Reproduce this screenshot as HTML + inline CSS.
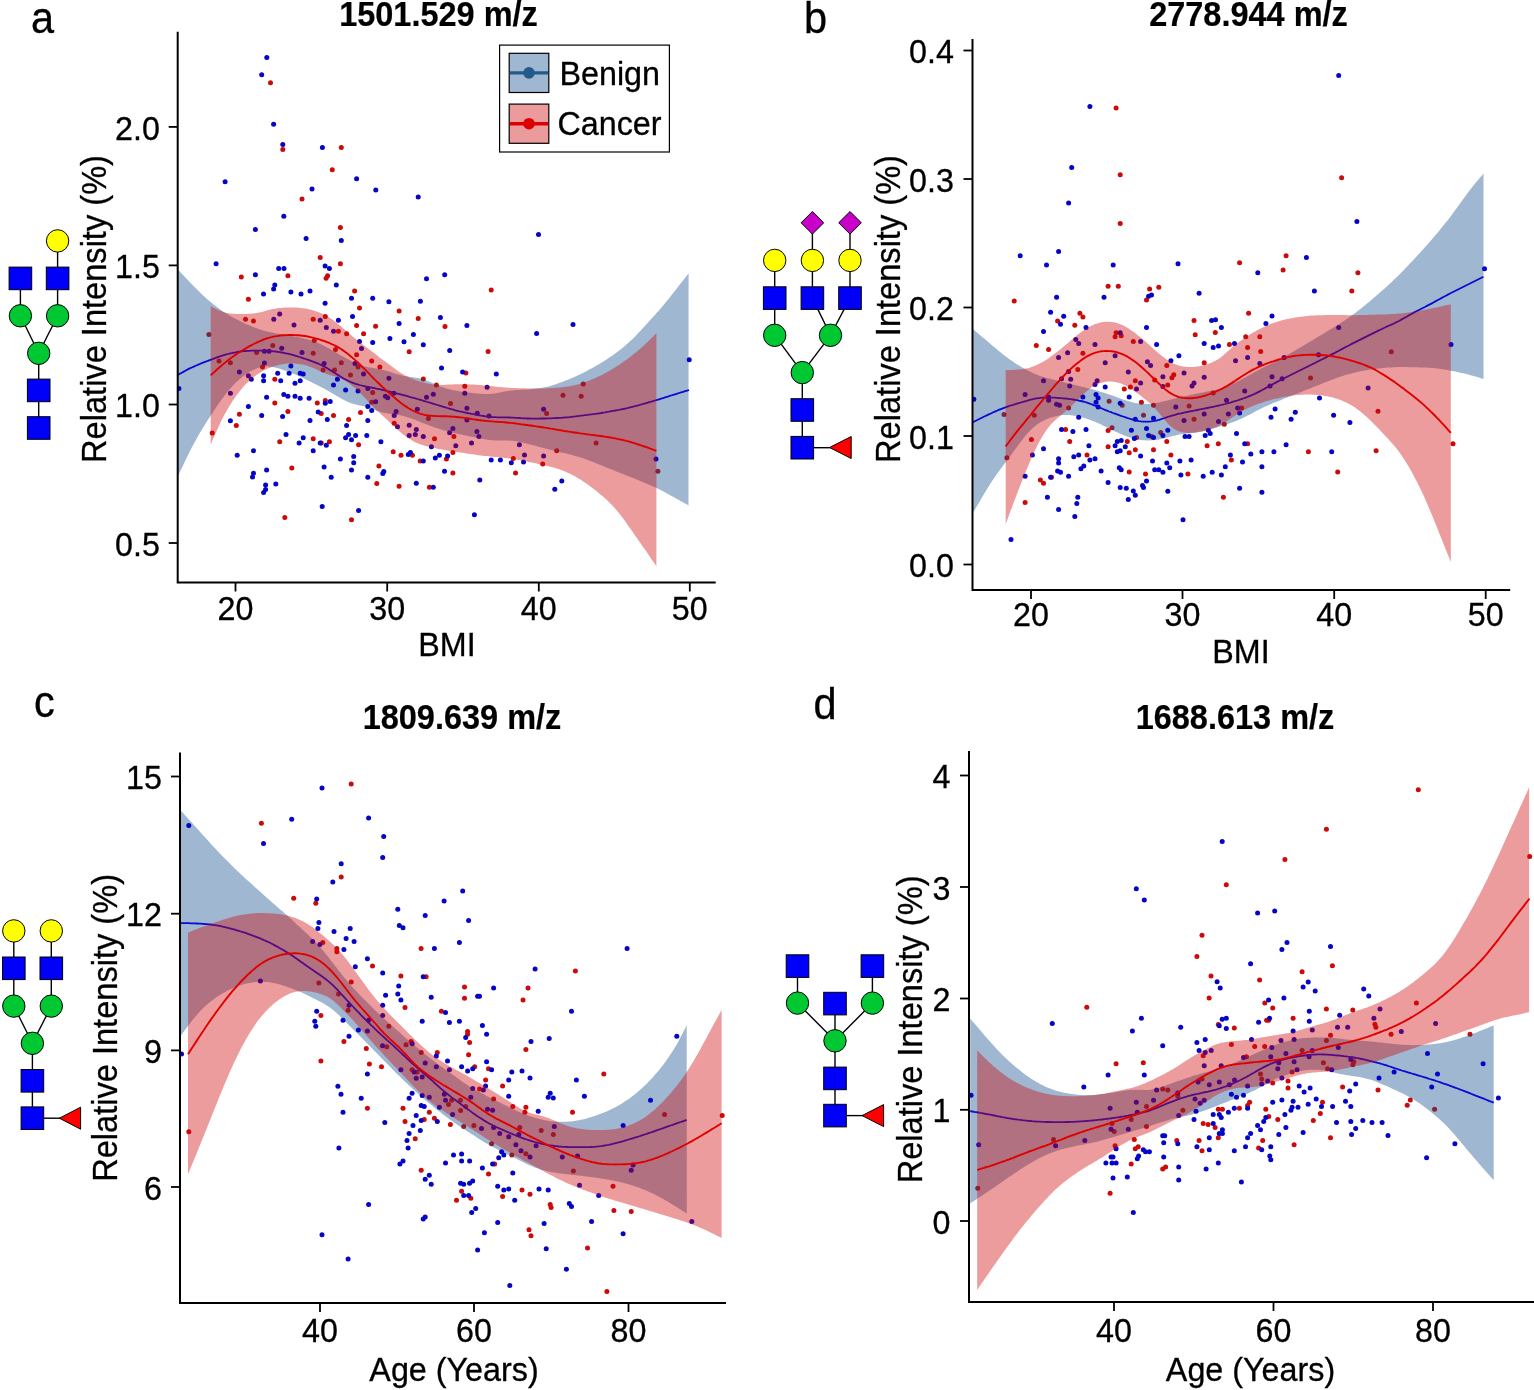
<!DOCTYPE html>
<html><head><meta charset="utf-8"><title>figure</title>
<style>html,body{margin:0;padding:0;background:#fff}svg{display:block}</style></head>
<body>
<svg width="1534" height="1390" viewBox="0 0 1534 1390" font-family='"Liberation Sans", Arial, sans-serif' fill="#000">
<defs>
<clipPath id="clipa"><rect x="177.7" y="26.8" width="543.0" height="555.7"/></clipPath>
<clipPath id="clipb"><rect x="972.5" y="34" width="542.7" height="556"/></clipPath>
<clipPath id="clipc"><rect x="180" y="747.5" width="551" height="555.5"/></clipPath>
<clipPath id="clipd"><rect x="969" y="746" width="570" height="556"/></clipPath>
</defs>
<rect width="1534" height="1390" fill="#fff"/>
<g clip-path="url(#clipa)">
<g fill="#cc0a0a">
<circle cx="270.5" cy="82.7" r="2.5"/>
<circle cx="282.8" cy="149.6" r="2.5"/>
<circle cx="341.3" cy="147.4" r="2.5"/>
<circle cx="332.3" cy="169.7" r="2.5"/>
<circle cx="302.0" cy="199.1" r="2.5"/>
<circle cx="340.4" cy="227.5" r="2.5"/>
<circle cx="320.2" cy="257.6" r="2.5"/>
<circle cx="340.4" cy="263.7" r="2.5"/>
<circle cx="287.9" cy="275.8" r="2.5"/>
<circle cx="241.3" cy="277.0" r="2.5"/>
<circle cx="327.6" cy="275.8" r="2.5"/>
<circle cx="326.1" cy="278.2" r="2.5"/>
<circle cx="354.6" cy="291.1" r="2.5"/>
<circle cx="248.4" cy="299.3" r="2.5"/>
<circle cx="359.5" cy="308.1" r="2.5"/>
<circle cx="399.1" cy="311.0" r="2.5"/>
<circle cx="491.2" cy="290.1" r="2.5"/>
<circle cx="445.0" cy="326.5" r="2.5"/>
<circle cx="488.1" cy="351.6" r="2.5"/>
<circle cx="465.9" cy="373.1" r="2.5"/>
<circle cx="464.8" cy="386.2" r="2.5"/>
<circle cx="583.2" cy="384.1" r="2.5"/>
<circle cx="563.0" cy="395.2" r="2.5"/>
<circle cx="581.2" cy="396.2" r="2.5"/>
<circle cx="450.5" cy="403.4" r="2.5"/>
<circle cx="546.6" cy="413.4" r="2.5"/>
<circle cx="245.5" cy="319.2" r="2.5"/>
<circle cx="253.5" cy="321.1" r="2.5"/>
<circle cx="313.2" cy="319.2" r="2.5"/>
<circle cx="325.3" cy="316.4" r="2.5"/>
<circle cx="338.4" cy="331.3" r="2.5"/>
<circle cx="346.6" cy="333.7" r="2.5"/>
<circle cx="356.6" cy="325.4" r="2.5"/>
<circle cx="375.6" cy="326.2" r="2.5"/>
<circle cx="418.2" cy="318.4" r="2.5"/>
<circle cx="363.6" cy="333.7" r="2.5"/>
<circle cx="208.9" cy="334.6" r="2.5"/>
<circle cx="314.3" cy="340.5" r="2.5"/>
<circle cx="409.2" cy="351.7" r="2.5"/>
<circle cx="272.8" cy="345.6" r="2.5"/>
<circle cx="335.5" cy="349.5" r="2.5"/>
<circle cx="256.6" cy="352.4" r="2.5"/>
<circle cx="313.2" cy="353.2" r="2.5"/>
<circle cx="356.6" cy="354.8" r="2.5"/>
<circle cx="371.7" cy="360.9" r="2.5"/>
<circle cx="219.0" cy="360.9" r="2.5"/>
<circle cx="230.4" cy="362.8" r="2.5"/>
<circle cx="341.3" cy="362.8" r="2.5"/>
<circle cx="379.9" cy="367.1" r="2.5"/>
<circle cx="262.5" cy="367.1" r="2.5"/>
<circle cx="323.1" cy="369.9" r="2.5"/>
<circle cx="334.5" cy="369.9" r="2.5"/>
<circle cx="358.0" cy="367.1" r="2.5"/>
<circle cx="350.5" cy="375.0" r="2.5"/>
<circle cx="423.3" cy="378.9" r="2.5"/>
<circle cx="274.8" cy="379.3" r="2.5"/>
<circle cx="436.4" cy="385.1" r="2.5"/>
<circle cx="372.7" cy="392.4" r="2.5"/>
<circle cx="371.7" cy="402.2" r="2.5"/>
<circle cx="325.3" cy="400.4" r="2.5"/>
<circle cx="317.3" cy="403.1" r="2.5"/>
<circle cx="274.8" cy="403.1" r="2.5"/>
<circle cx="287.9" cy="411.5" r="2.5"/>
<circle cx="360.5" cy="412.5" r="2.5"/>
<circle cx="239.4" cy="414.3" r="2.5"/>
<circle cx="321.2" cy="413.5" r="2.5"/>
<circle cx="333.5" cy="415.5" r="2.5"/>
<circle cx="348.6" cy="419.4" r="2.5"/>
<circle cx="428.4" cy="418.4" r="2.5"/>
<circle cx="236.3" cy="425.4" r="2.5"/>
<circle cx="394.2" cy="423.3" r="2.5"/>
<circle cx="212.2" cy="432.9" r="2.5"/>
<circle cx="434.5" cy="438.7" r="2.5"/>
<circle cx="453.9" cy="436.4" r="2.5"/>
<circle cx="313.2" cy="438.7" r="2.5"/>
<circle cx="329.4" cy="441.7" r="2.5"/>
<circle cx="279.7" cy="441.7" r="2.5"/>
<circle cx="321.2" cy="442.9" r="2.5"/>
<circle cx="358.6" cy="444.8" r="2.5"/>
<circle cx="393.2" cy="451.7" r="2.5"/>
<circle cx="401.0" cy="455.2" r="2.5"/>
<circle cx="412.4" cy="455.2" r="2.5"/>
<circle cx="452.9" cy="452.6" r="2.5"/>
<circle cx="420.2" cy="460.9" r="2.5"/>
<circle cx="446.4" cy="458.9" r="2.5"/>
<circle cx="378.9" cy="465.9" r="2.5"/>
<circle cx="291.8" cy="468.1" r="2.5"/>
<circle cx="452.9" cy="473.0" r="2.5"/>
<circle cx="376.8" cy="483.4" r="2.5"/>
<circle cx="399.1" cy="486.3" r="2.5"/>
<circle cx="429.4" cy="487.3" r="2.5"/>
<circle cx="284.8" cy="517.6" r="2.5"/>
<circle cx="351.5" cy="519.8" r="2.5"/>
<circle cx="596.1" cy="442.9" r="2.5"/>
<circle cx="556.7" cy="450.7" r="2.5"/>
<circle cx="513.3" cy="458.5" r="2.5"/>
<circle cx="542.7" cy="464.0" r="2.5"/>
<circle cx="657.9" cy="471.2" r="2.5"/>
<circle cx="515.5" cy="473.0" r="2.5"/>
</g>
<path d="M177.8,269.4 L179.8,271.5 L181.8,273.7 L183.8,275.8 L185.8,277.9 L187.8,280.0 L189.8,282.1 L191.8,284.2 L193.8,286.2 L195.8,288.3 L197.8,290.3 L199.8,292.3 L201.8,294.2 L203.8,296.1 L205.8,297.9 L207.8,299.7 L209.9,301.5 L211.9,303.1 L213.9,304.8 L215.9,306.3 L217.9,307.8 L219.9,309.3 L221.9,310.7 L223.9,312.0 L225.9,313.3 L227.9,314.5 L229.9,315.7 L231.9,316.9 L233.9,318.0 L235.9,319.1 L237.9,320.1 L239.9,321.1 L241.9,322.1 L243.9,323.0 L245.9,323.9 L247.9,324.8 L249.9,325.6 L251.9,326.5 L253.9,327.2 L255.9,328.0 L257.9,328.7 L259.9,329.4 L261.9,330.1 L263.9,330.7 L265.9,331.2 L267.9,331.7 L269.9,332.2 L271.9,332.6 L274.0,333.0 L276.0,333.4 L278.0,333.8 L280.0,334.1 L282.0,334.4 L284.0,334.8 L286.0,335.1 L288.0,335.4 L290.0,335.7 L292.0,336.1 L294.0,336.4 L296.0,336.8 L298.0,337.1 L300.0,337.5 L302.0,337.9 L304.0,338.4 L306.0,338.9 L308.0,339.4 L310.0,340.0 L312.0,340.7 L314.0,341.4 L316.0,342.1 L318.0,343.0 L320.0,343.8 L322.0,344.8 L324.0,345.8 L326.0,346.8 L328.0,347.9 L330.0,349.0 L332.0,350.2 L334.0,351.4 L336.0,352.6 L338.1,353.7 L340.1,354.9 L342.1,356.0 L344.1,357.2 L346.1,358.2 L348.1,359.3 L350.1,360.3 L352.1,361.4 L354.1,362.4 L356.1,363.3 L358.1,364.2 L360.1,365.0 L362.1,365.6 L364.1,366.2 L366.1,366.7 L368.1,367.2 L370.1,367.5 L372.1,367.8 L374.1,368.2 L376.1,368.5 L378.1,368.8 L380.1,369.2 L382.1,369.7 L384.1,370.2 L386.1,370.7 L388.1,371.3 L390.1,372.0 L392.1,372.6 L394.1,373.3 L396.1,373.9 L398.1,374.5 L400.1,375.1 L402.2,375.6 L404.2,376.0 L406.2,376.3 L408.2,376.6 L410.2,376.9 L412.2,377.1 L414.2,377.4 L416.2,377.7 L418.2,378.1 L420.2,378.6 L422.2,379.2 L424.2,379.8 L426.2,380.5 L428.2,381.3 L430.2,382.1 L432.2,383.0 L434.2,383.8 L436.2,384.7 L438.2,385.6 L440.2,386.4 L442.2,387.1 L444.2,387.8 L446.2,388.4 L448.2,389.0 L450.2,389.5 L452.2,389.9 L454.2,390.3 L456.2,390.7 L458.2,391.1 L460.2,391.4 L462.2,391.7 L464.2,392.0 L466.3,392.3 L468.3,392.6 L470.3,392.8 L472.3,393.1 L474.3,393.3 L476.3,393.5 L478.3,393.6 L480.3,393.8 L482.3,393.9 L484.3,394.0 L486.3,394.0 L488.3,393.9 L490.3,393.9 L492.3,393.7 L494.3,393.5 L496.3,393.2 L498.3,392.8 L500.3,392.4 L502.3,392.0 L504.3,391.6 L506.3,391.2 L508.3,390.9 L510.3,390.6 L512.3,390.4 L514.3,390.2 L516.3,390.0 L518.3,389.9 L520.3,389.8 L522.3,389.7 L524.3,389.6 L526.3,389.5 L528.3,389.4 L530.4,389.2 L532.4,389.0 L534.4,388.8 L536.4,388.6 L538.4,388.3 L540.4,388.0 L542.4,387.7 L544.4,387.3 L546.4,386.9 L548.4,386.4 L550.4,385.9 L552.4,385.3 L554.4,384.7 L556.4,384.0 L558.4,383.3 L560.4,382.6 L562.4,381.9 L564.4,381.1 L566.4,380.3 L568.4,379.5 L570.4,378.7 L572.4,377.8 L574.4,376.9 L576.4,376.0 L578.4,375.1 L580.4,374.2 L582.4,373.2 L584.4,372.2 L586.4,371.2 L588.4,370.1 L590.4,369.0 L592.4,367.9 L594.5,366.8 L596.5,365.6 L598.5,364.5 L600.5,363.2 L602.5,362.0 L604.5,360.7 L606.5,359.5 L608.5,358.1 L610.5,356.8 L612.5,355.4 L614.5,354.0 L616.5,352.5 L618.5,351.0 L620.5,349.5 L622.5,347.9 L624.5,346.2 L626.5,344.5 L628.5,342.7 L630.5,340.8 L632.5,338.9 L634.5,336.9 L636.5,334.9 L638.5,332.8 L640.5,330.7 L642.5,328.6 L644.5,326.4 L646.5,324.2 L648.5,322.0 L650.5,319.8 L652.5,317.6 L654.5,315.4 L656.5,313.1 L658.6,310.9 L660.6,308.5 L662.6,306.2 L664.6,303.8 L666.6,301.3 L668.6,298.9 L670.6,296.3 L672.6,293.8 L674.6,291.3 L676.6,288.7 L678.6,286.1 L680.6,283.5 L682.6,281.0 L684.6,278.4 L686.6,275.9 L688.6,273.3 L688.5,505.4 L686.5,504.3 L684.5,503.2 L682.5,502.1 L680.5,501.0 L678.5,499.8 L676.5,498.7 L674.5,497.6 L672.5,496.5 L670.5,495.4 L668.5,494.3 L666.5,493.2 L664.5,492.1 L662.5,491.1 L660.5,490.0 L658.5,489.0 L656.5,488.1 L654.5,487.1 L652.5,486.2 L650.4,485.3 L648.4,484.4 L646.4,483.6 L644.4,482.7 L642.4,481.9 L640.4,481.1 L638.4,480.3 L636.4,479.4 L634.4,478.6 L632.4,477.8 L630.4,477.0 L628.4,476.2 L626.4,475.4 L624.4,474.6 L622.4,473.8 L620.4,473.0 L618.4,472.2 L616.4,471.4 L614.4,470.6 L612.4,469.8 L610.4,469.0 L608.4,468.2 L606.4,467.4 L604.4,466.6 L602.4,465.8 L600.4,465.0 L598.4,464.2 L596.4,463.4 L594.4,462.6 L592.4,461.8 L590.4,461.0 L588.4,460.2 L586.4,459.5 L584.4,458.8 L582.4,458.1 L580.4,457.4 L578.3,456.8 L576.3,456.2 L574.3,455.7 L572.3,455.1 L570.3,454.6 L568.3,454.1 L566.3,453.6 L564.3,453.1 L562.3,452.7 L560.3,452.2 L558.3,451.7 L556.3,451.2 L554.3,450.7 L552.3,450.2 L550.3,449.7 L548.3,449.2 L546.3,448.7 L544.3,448.2 L542.3,447.7 L540.3,447.2 L538.3,446.7 L536.3,446.1 L534.3,445.6 L532.3,445.1 L530.3,444.6 L528.3,444.0 L526.3,443.5 L524.3,443.0 L522.3,442.5 L520.3,442.1 L518.3,441.7 L516.3,441.3 L514.3,441.0 L512.3,440.8 L510.3,440.7 L508.3,440.6 L506.3,440.5 L504.2,440.5 L502.2,440.5 L500.2,440.5 L498.2,440.5 L496.2,440.5 L494.2,440.4 L492.2,440.3 L490.2,440.1 L488.2,439.9 L486.2,439.6 L484.2,439.2 L482.2,438.8 L480.2,438.5 L478.2,438.0 L476.2,437.6 L474.2,437.2 L472.2,436.8 L470.2,436.4 L468.2,436.0 L466.2,435.6 L464.2,435.2 L462.2,434.8 L460.2,434.3 L458.2,433.9 L456.2,433.4 L454.2,433.0 L452.2,432.5 L450.2,432.0 L448.2,431.5 L446.2,430.9 L444.2,430.4 L442.2,429.8 L440.2,429.2 L438.2,428.6 L436.2,427.9 L434.2,427.3 L432.1,426.6 L430.1,425.8 L428.1,425.1 L426.1,424.3 L424.1,423.5 L422.1,422.7 L420.1,421.9 L418.1,421.1 L416.1,420.3 L414.1,419.5 L412.1,418.8 L410.1,418.1 L408.1,417.4 L406.1,416.8 L404.1,416.2 L402.1,415.7 L400.1,415.3 L398.1,415.0 L396.1,414.7 L394.1,414.4 L392.1,414.1 L390.1,413.9 L388.1,413.6 L386.1,413.3 L384.1,412.9 L382.1,412.4 L380.1,411.8 L378.1,411.2 L376.1,410.4 L374.1,409.6 L372.1,408.8 L370.1,408.1 L368.1,407.4 L366.1,406.8 L364.1,406.3 L362.1,405.9 L360.0,405.5 L358.0,405.1 L356.0,404.6 L354.0,404.1 L352.0,403.4 L350.0,402.7 L348.0,401.9 L346.0,401.0 L344.0,400.0 L342.0,398.9 L340.0,397.8 L338.0,396.7 L336.0,395.5 L334.0,394.3 L332.0,393.2 L330.0,392.0 L328.0,390.8 L326.0,389.7 L324.0,388.6 L322.0,387.5 L320.0,386.5 L318.0,385.5 L316.0,384.4 L314.0,383.4 L312.0,382.4 L310.0,381.4 L308.0,380.4 L306.0,379.4 L304.0,378.4 L302.0,377.5 L300.0,376.6 L298.0,375.7 L296.0,374.8 L294.0,374.0 L292.0,373.2 L290.0,372.4 L288.0,371.7 L285.9,370.9 L283.9,370.2 L281.9,369.5 L279.9,368.8 L277.9,368.2 L275.9,367.7 L273.9,367.2 L271.9,366.9 L269.9,366.6 L267.9,366.6 L265.9,366.6 L263.9,366.8 L261.9,367.1 L259.9,367.6 L257.9,368.1 L255.9,368.8 L253.9,369.7 L251.9,370.6 L249.9,371.7 L247.9,372.9 L245.9,374.2 L243.9,375.7 L241.9,377.2 L239.9,378.9 L237.9,380.7 L235.9,382.6 L233.9,384.6 L231.9,386.7 L229.9,388.9 L227.9,391.3 L225.9,393.8 L223.9,396.4 L221.9,399.1 L219.9,401.9 L217.9,404.8 L215.9,407.8 L213.8,410.8 L211.8,413.9 L209.8,417.0 L207.8,420.1 L205.8,423.3 L203.8,426.5 L201.8,429.8 L199.8,433.1 L197.8,436.6 L195.8,440.2 L193.8,443.8 L191.8,447.6 L189.8,451.5 L187.8,455.5 L185.8,459.6 L183.8,463.8 L181.8,468.0 L179.8,472.2 L177.8,476.5Z" fill="#0f4b8a" fill-opacity="0.4" stroke="none"/>
<g fill="#0505c8">
<circle cx="266.8" cy="57.6" r="2.5"/>
<circle cx="261.7" cy="74.8" r="2.5"/>
<circle cx="273.6" cy="124.3" r="2.5"/>
<circle cx="282.8" cy="144.5" r="2.5"/>
<circle cx="322.4" cy="147.4" r="2.5"/>
<circle cx="225.1" cy="181.7" r="2.5"/>
<circle cx="356.6" cy="178.7" r="2.5"/>
<circle cx="312.0" cy="188.9" r="2.5"/>
<circle cx="375.8" cy="189.9" r="2.5"/>
<circle cx="418.2" cy="196.9" r="2.5"/>
<circle cx="283.8" cy="216.3" r="2.5"/>
<circle cx="255.4" cy="229.4" r="2.5"/>
<circle cx="306.1" cy="238.6" r="2.5"/>
<circle cx="341.3" cy="240.6" r="2.5"/>
<circle cx="216.1" cy="263.7" r="2.5"/>
<circle cx="325.1" cy="266.0" r="2.5"/>
<circle cx="329.4" cy="268.6" r="2.5"/>
<circle cx="278.7" cy="268.6" r="2.5"/>
<circle cx="284.0" cy="268.6" r="2.5"/>
<circle cx="255.4" cy="274.8" r="2.5"/>
<circle cx="444.7" cy="274.8" r="2.5"/>
<circle cx="426.5" cy="278.7" r="2.5"/>
<circle cx="274.8" cy="285.0" r="2.5"/>
<circle cx="273.6" cy="288.9" r="2.5"/>
<circle cx="336.3" cy="285.0" r="2.5"/>
<circle cx="310.0" cy="291.1" r="2.5"/>
<circle cx="290.9" cy="292.1" r="2.5"/>
<circle cx="301.0" cy="294.0" r="2.5"/>
<circle cx="263.5" cy="294.0" r="2.5"/>
<circle cx="351.5" cy="298.3" r="2.5"/>
<circle cx="372.7" cy="298.3" r="2.5"/>
<circle cx="388.9" cy="301.8" r="2.5"/>
<circle cx="420.4" cy="301.3" r="2.5"/>
<circle cx="325.1" cy="303.2" r="2.5"/>
<circle cx="538.5" cy="234.5" r="2.5"/>
<circle cx="466.9" cy="325.5" r="2.5"/>
<circle cx="573.0" cy="324.4" r="2.5"/>
<circle cx="536.6" cy="333.6" r="2.5"/>
<circle cx="449.7" cy="350.6" r="2.5"/>
<circle cx="462.6" cy="371.9" r="2.5"/>
<circle cx="496.3" cy="373.9" r="2.5"/>
<circle cx="689.2" cy="359.8" r="2.5"/>
<circle cx="487.1" cy="387.2" r="2.5"/>
<circle cx="464.8" cy="393.2" r="2.5"/>
<circle cx="466.9" cy="408.3" r="2.5"/>
<circle cx="477.3" cy="413.2" r="2.5"/>
<circle cx="489.0" cy="416.1" r="2.5"/>
<circle cx="543.6" cy="409.3" r="2.5"/>
<circle cx="466.9" cy="420.1" r="2.5"/>
<circle cx="279.7" cy="314.1" r="2.5"/>
<circle cx="273.8" cy="319.2" r="2.5"/>
<circle cx="294.0" cy="325.0" r="2.5"/>
<circle cx="320.2" cy="320.2" r="2.5"/>
<circle cx="326.3" cy="327.4" r="2.5"/>
<circle cx="333.5" cy="331.3" r="2.5"/>
<circle cx="338.4" cy="320.2" r="2.5"/>
<circle cx="352.5" cy="316.4" r="2.5"/>
<circle cx="399.1" cy="323.5" r="2.5"/>
<circle cx="440.4" cy="317.6" r="2.5"/>
<circle cx="413.4" cy="334.6" r="2.5"/>
<circle cx="389.9" cy="338.6" r="2.5"/>
<circle cx="372.7" cy="342.5" r="2.5"/>
<circle cx="404.0" cy="341.7" r="2.5"/>
<circle cx="423.3" cy="344.8" r="2.5"/>
<circle cx="359.5" cy="341.5" r="2.5"/>
<circle cx="361.5" cy="348.5" r="2.5"/>
<circle cx="441.5" cy="368.1" r="2.5"/>
<circle cx="264.4" cy="351.3" r="2.5"/>
<circle cx="269.1" cy="351.3" r="2.5"/>
<circle cx="281.7" cy="348.3" r="2.5"/>
<circle cx="302.0" cy="352.4" r="2.5"/>
<circle cx="264.4" cy="363.0" r="2.5"/>
<circle cx="324.1" cy="363.6" r="2.5"/>
<circle cx="355.0" cy="363.6" r="2.5"/>
<circle cx="290.9" cy="366.1" r="2.5"/>
<circle cx="239.4" cy="372.0" r="2.5"/>
<circle cx="248.4" cy="375.7" r="2.5"/>
<circle cx="277.7" cy="373.2" r="2.5"/>
<circle cx="289.1" cy="373.2" r="2.5"/>
<circle cx="300.2" cy="373.2" r="2.5"/>
<circle cx="303.2" cy="374.0" r="2.5"/>
<circle cx="263.6" cy="375.7" r="2.5"/>
<circle cx="251.3" cy="379.3" r="2.5"/>
<circle cx="263.6" cy="380.8" r="2.5"/>
<circle cx="280.7" cy="380.8" r="2.5"/>
<circle cx="295.0" cy="383.2" r="2.5"/>
<circle cx="300.2" cy="380.8" r="2.5"/>
<circle cx="337.4" cy="379.3" r="2.5"/>
<circle cx="333.5" cy="385.1" r="2.5"/>
<circle cx="345.6" cy="390.0" r="2.5"/>
<circle cx="358.0" cy="391.0" r="2.5"/>
<circle cx="363.5" cy="374.0" r="2.5"/>
<circle cx="388.9" cy="378.3" r="2.5"/>
<circle cx="178.9" cy="388.5" r="2.5"/>
<circle cx="230.4" cy="393.3" r="2.5"/>
<circle cx="367.8" cy="388.5" r="2.5"/>
<circle cx="393.8" cy="393.3" r="2.5"/>
<circle cx="385.4" cy="396.3" r="2.5"/>
<circle cx="387.7" cy="397.8" r="2.5"/>
<circle cx="426.5" cy="397.3" r="2.5"/>
<circle cx="433.3" cy="394.3" r="2.5"/>
<circle cx="375.6" cy="401.8" r="2.5"/>
<circle cx="417.3" cy="409.2" r="2.5"/>
<circle cx="396.1" cy="411.5" r="2.5"/>
<circle cx="394.2" cy="415.5" r="2.5"/>
<circle cx="266.6" cy="397.3" r="2.5"/>
<circle cx="283.8" cy="394.5" r="2.5"/>
<circle cx="287.9" cy="396.3" r="2.5"/>
<circle cx="295.0" cy="396.3" r="2.5"/>
<circle cx="300.2" cy="398.2" r="2.5"/>
<circle cx="309.1" cy="398.2" r="2.5"/>
<circle cx="330.2" cy="401.4" r="2.5"/>
<circle cx="325.3" cy="403.3" r="2.5"/>
<circle cx="248.4" cy="406.5" r="2.5"/>
<circle cx="367.8" cy="406.5" r="2.5"/>
<circle cx="371.7" cy="410.6" r="2.5"/>
<circle cx="318.2" cy="412.1" r="2.5"/>
<circle cx="261.7" cy="415.5" r="2.5"/>
<circle cx="282.6" cy="416.6" r="2.5"/>
<circle cx="230.4" cy="420.7" r="2.5"/>
<circle cx="310.0" cy="420.4" r="2.5"/>
<circle cx="327.3" cy="419.4" r="2.5"/>
<circle cx="367.8" cy="420.4" r="2.5"/>
<circle cx="346.6" cy="425.6" r="2.5"/>
<circle cx="409.2" cy="425.2" r="2.5"/>
<circle cx="416.3" cy="429.5" r="2.5"/>
<circle cx="397.5" cy="426.8" r="2.5"/>
<circle cx="409.2" cy="435.4" r="2.5"/>
<circle cx="415.3" cy="434.6" r="2.5"/>
<circle cx="423.3" cy="436.6" r="2.5"/>
<circle cx="452.9" cy="428.6" r="2.5"/>
<circle cx="449.6" cy="432.7" r="2.5"/>
<circle cx="455.8" cy="445.8" r="2.5"/>
<circle cx="471.5" cy="442.9" r="2.5"/>
<circle cx="286.0" cy="434.6" r="2.5"/>
<circle cx="303.2" cy="437.8" r="2.5"/>
<circle cx="348.6" cy="434.6" r="2.5"/>
<circle cx="355.6" cy="435.4" r="2.5"/>
<circle cx="366.8" cy="435.4" r="2.5"/>
<circle cx="345.6" cy="437.8" r="2.5"/>
<circle cx="351.5" cy="439.7" r="2.5"/>
<circle cx="299.1" cy="442.9" r="2.5"/>
<circle cx="320.2" cy="442.9" r="2.5"/>
<circle cx="326.3" cy="445.2" r="2.5"/>
<circle cx="380.9" cy="441.7" r="2.5"/>
<circle cx="431.4" cy="446.8" r="2.5"/>
<circle cx="253.5" cy="450.7" r="2.5"/>
<circle cx="313.2" cy="450.7" r="2.5"/>
<circle cx="237.2" cy="455.2" r="2.5"/>
<circle cx="408.3" cy="454.6" r="2.5"/>
<circle cx="410.4" cy="452.6" r="2.5"/>
<circle cx="439.4" cy="455.2" r="2.5"/>
<circle cx="447.6" cy="456.0" r="2.5"/>
<circle cx="435.3" cy="457.9" r="2.5"/>
<circle cx="340.4" cy="458.9" r="2.5"/>
<circle cx="353.7" cy="456.6" r="2.5"/>
<circle cx="353.7" cy="462.8" r="2.5"/>
<circle cx="423.3" cy="460.9" r="2.5"/>
<circle cx="324.1" cy="466.9" r="2.5"/>
<circle cx="266.6" cy="469.9" r="2.5"/>
<circle cx="351.5" cy="469.9" r="2.5"/>
<circle cx="383.8" cy="471.6" r="2.5"/>
<circle cx="382.8" cy="473.6" r="2.5"/>
<circle cx="444.5" cy="471.2" r="2.5"/>
<circle cx="253.5" cy="473.2" r="2.5"/>
<circle cx="252.5" cy="477.1" r="2.5"/>
<circle cx="331.2" cy="477.3" r="2.5"/>
<circle cx="367.8" cy="477.3" r="2.5"/>
<circle cx="275.8" cy="484.1" r="2.5"/>
<circle cx="265.6" cy="484.9" r="2.5"/>
<circle cx="416.3" cy="483.2" r="2.5"/>
<circle cx="433.3" cy="487.3" r="2.5"/>
<circle cx="265.6" cy="489.4" r="2.5"/>
<circle cx="263.6" cy="492.4" r="2.5"/>
<circle cx="322.2" cy="506.5" r="2.5"/>
<circle cx="358.6" cy="510.6" r="2.5"/>
<circle cx="474.4" cy="514.7" r="2.5"/>
<circle cx="476.9" cy="431.5" r="2.5"/>
<circle cx="478.9" cy="436.6" r="2.5"/>
<circle cx="519.4" cy="444.8" r="2.5"/>
<circle cx="524.5" cy="455.0" r="2.5"/>
<circle cx="543.6" cy="456.0" r="2.5"/>
<circle cx="656.0" cy="458.9" r="2.5"/>
<circle cx="491.2" cy="460.1" r="2.5"/>
<circle cx="500.4" cy="460.1" r="2.5"/>
<circle cx="511.3" cy="462.8" r="2.5"/>
<circle cx="523.5" cy="462.0" r="2.5"/>
<circle cx="479.8" cy="480.0" r="2.5"/>
<circle cx="561.8" cy="481.0" r="2.5"/>
<circle cx="554.8" cy="489.2" r="2.5"/>
</g>
<path d="M177.8,375.0 L179.8,373.8 L181.8,372.7 L183.8,371.6 L185.8,370.5 L187.8,369.4 L189.8,368.4 L191.8,367.5 L193.8,366.6 L195.8,365.7 L197.8,364.8 L199.8,364.0 L201.8,363.2 L203.8,362.4 L205.8,361.6 L207.8,360.9 L209.8,360.1 L211.8,359.4 L213.8,358.6 L215.7,357.9 L217.7,357.1 L219.7,356.4 L221.7,355.8 L223.7,355.2 L225.7,354.6 L227.7,354.0 L229.7,353.5 L231.7,353.1 L233.7,352.6 L235.7,352.3 L237.7,351.9 L239.7,351.6 L241.7,351.4 L243.7,351.2 L245.7,351.0 L247.7,350.9 L249.7,350.8 L251.7,350.7 L253.7,350.7 L255.7,350.6 L257.7,350.6 L259.7,350.6 L261.7,350.7 L263.7,350.7 L265.7,350.7 L267.7,350.8 L269.7,350.9 L271.7,351.1 L273.7,351.3 L275.7,351.5 L277.7,351.8 L279.7,352.1 L281.7,352.5 L283.7,352.9 L285.7,353.3 L287.6,353.7 L289.6,354.2 L291.6,354.7 L293.6,355.2 L295.6,355.8 L297.6,356.4 L299.6,357.0 L301.6,357.7 L303.6,358.3 L305.6,359.0 L307.6,359.7 L309.6,360.4 L311.6,361.1 L313.6,361.8 L315.6,362.6 L317.6,363.4 L319.6,364.3 L321.6,365.2 L323.6,366.2 L325.6,367.3 L327.6,368.5 L329.6,369.7 L331.6,370.9 L333.6,372.2 L335.6,373.5 L337.6,374.8 L339.6,376.1 L341.6,377.3 L343.6,378.5 L345.6,379.5 L347.6,380.5 L349.6,381.5 L351.6,382.3 L353.6,383.1 L355.6,383.8 L357.6,384.4 L359.6,385.0 L361.5,385.5 L363.5,386.0 L365.5,386.4 L367.5,386.8 L369.5,387.2 L371.5,387.6 L373.5,388.0 L375.5,388.4 L377.5,388.8 L379.5,389.2 L381.5,389.7 L383.5,390.2 L385.5,390.7 L387.5,391.2 L389.5,391.7 L391.5,392.2 L393.5,392.7 L395.5,393.2 L397.5,393.7 L399.5,394.2 L401.5,394.7 L403.5,395.2 L405.5,395.7 L407.5,396.2 L409.5,396.8 L411.5,397.3 L413.5,397.9 L415.5,398.4 L417.5,399.0 L419.5,399.6 L421.5,400.2 L423.5,400.8 L425.5,401.4 L427.5,402.0 L429.5,402.6 L431.5,403.2 L433.5,403.8 L435.4,404.4 L437.4,405.0 L439.4,405.6 L441.4,406.2 L443.4,406.8 L445.4,407.4 L447.4,408.0 L449.4,408.6 L451.4,409.2 L453.4,409.7 L455.4,410.3 L457.4,410.8 L459.4,411.3 L461.4,411.7 L463.4,412.2 L465.4,412.6 L467.4,413.0 L469.4,413.4 L471.4,413.8 L473.4,414.2 L475.4,414.6 L477.4,415.0 L479.4,415.3 L481.4,415.7 L483.4,416.0 L485.4,416.3 L487.4,416.6 L489.4,416.8 L491.4,417.0 L493.4,417.1 L495.4,417.2 L497.4,417.3 L499.4,417.3 L501.4,417.3 L503.4,417.4 L505.4,417.4 L507.3,417.4 L509.3,417.5 L511.3,417.6 L513.3,417.7 L515.3,417.8 L517.3,417.9 L519.3,418.0 L521.3,418.2 L523.3,418.3 L525.3,418.4 L527.3,418.5 L529.3,418.5 L531.3,418.6 L533.3,418.6 L535.3,418.6 L537.3,418.6 L539.3,418.6 L541.3,418.5 L543.3,418.5 L545.3,418.5 L547.3,418.4 L549.3,418.3 L551.3,418.3 L553.3,418.2 L555.3,418.1 L557.3,418.0 L559.3,417.9 L561.3,417.8 L563.3,417.6 L565.3,417.4 L567.3,417.3 L569.3,417.1 L571.3,416.8 L573.3,416.6 L575.3,416.4 L577.3,416.1 L579.3,415.9 L581.2,415.6 L583.2,415.4 L585.2,415.1 L587.2,414.9 L589.2,414.6 L591.2,414.4 L593.2,414.1 L595.2,413.9 L597.2,413.6 L599.2,413.3 L601.2,413.0 L603.2,412.6 L605.2,412.3 L607.2,411.9 L609.2,411.6 L611.2,411.2 L613.2,410.8 L615.2,410.5 L617.2,410.1 L619.2,409.8 L621.2,409.4 L623.2,409.0 L625.2,408.6 L627.2,408.2 L629.2,407.7 L631.2,407.2 L633.2,406.7 L635.2,406.2 L637.2,405.6 L639.2,405.1 L641.2,404.5 L643.2,403.9 L645.2,403.4 L647.2,402.8 L649.2,402.2 L651.2,401.7 L653.1,401.1 L655.1,400.5 L657.1,399.9 L659.1,399.3 L661.1,398.7 L663.1,398.1 L665.1,397.4 L667.1,396.8 L669.1,396.2 L671.1,395.5 L673.1,394.9 L675.1,394.3 L677.1,393.7 L679.1,393.0 L681.1,392.4 L683.1,391.8 L685.1,391.2 L687.1,390.6 L689.1,390.0" fill="none" stroke="#0a0ad2" stroke-width="1.8" stroke-linejoin="round"/>
<path d="M210.7,306.1 L212.7,307.2 L214.7,308.3 L216.7,309.3 L218.7,310.2 L220.7,311.1 L222.7,311.8 L224.7,312.4 L226.7,312.9 L228.7,313.3 L230.7,313.5 L232.7,313.7 L234.7,313.8 L236.7,313.9 L238.7,314.0 L240.7,314.0 L242.7,314.0 L244.7,313.9 L246.7,313.9 L248.7,313.8 L250.7,313.7 L252.7,313.5 L254.7,313.3 L256.7,313.0 L258.7,312.6 L260.7,312.2 L262.7,311.7 L264.7,311.2 L266.7,310.6 L268.7,310.1 L270.7,309.6 L272.7,309.1 L274.7,308.7 L276.7,308.4 L278.7,308.1 L280.7,307.9 L282.7,307.7 L284.7,307.5 L286.6,307.4 L288.6,307.4 L290.6,307.4 L292.6,307.4 L294.6,307.5 L296.6,307.6 L298.6,307.8 L300.6,308.0 L302.6,308.2 L304.6,308.5 L306.6,308.8 L308.6,309.2 L310.6,309.6 L312.6,310.2 L314.6,310.8 L316.6,311.4 L318.6,312.2 L320.6,313.0 L322.6,313.9 L324.6,314.9 L326.6,316.0 L328.6,317.1 L330.6,318.4 L332.6,319.8 L334.6,321.3 L336.6,322.8 L338.6,324.4 L340.6,326.1 L342.6,327.8 L344.6,329.6 L346.6,331.3 L348.6,333.0 L350.6,334.7 L352.6,336.4 L354.6,338.1 L356.6,339.7 L358.6,341.3 L360.6,342.9 L362.6,344.5 L364.6,346.0 L366.6,347.6 L368.6,349.1 L370.6,350.6 L372.6,352.1 L374.6,353.6 L376.6,355.1 L378.6,356.7 L380.6,358.2 L382.6,359.7 L384.6,361.1 L386.6,362.6 L388.6,364.1 L390.6,365.6 L392.6,367.1 L394.6,368.6 L396.6,370.0 L398.6,371.4 L400.6,372.7 L402.6,374.0 L404.6,375.2 L406.6,376.3 L408.6,377.3 L410.6,378.2 L412.6,379.0 L414.6,379.8 L416.6,380.4 L418.6,381.1 L420.6,381.7 L422.6,382.2 L424.6,382.8 L426.6,383.2 L428.6,383.7 L430.6,384.1 L432.6,384.4 L434.5,384.7 L436.5,384.8 L438.5,384.9 L440.5,385.0 L442.5,384.9 L444.5,384.8 L446.5,384.7 L448.5,384.6 L450.5,384.5 L452.5,384.4 L454.5,384.3 L456.5,384.3 L458.5,384.2 L460.5,384.2 L462.5,384.2 L464.5,384.3 L466.5,384.3 L468.5,384.4 L470.5,384.4 L472.5,384.5 L474.5,384.6 L476.5,384.8 L478.5,384.9 L480.5,385.1 L482.5,385.3 L484.5,385.5 L486.5,385.7 L488.5,385.9 L490.5,386.1 L492.5,386.3 L494.5,386.5 L496.5,386.7 L498.5,386.9 L500.5,387.1 L502.5,387.3 L504.5,387.5 L506.5,387.6 L508.5,387.8 L510.5,387.9 L512.5,388.0 L514.5,388.0 L516.5,388.1 L518.5,388.2 L520.5,388.2 L522.5,388.3 L524.5,388.3 L526.5,388.4 L528.5,388.4 L530.5,388.5 L532.5,388.5 L534.5,388.5 L536.5,388.5 L538.5,388.5 L540.5,388.5 L542.5,388.4 L544.5,388.4 L546.5,388.3 L548.5,388.2 L550.5,388.1 L552.5,388.0 L554.5,387.8 L556.5,387.7 L558.5,387.5 L560.5,387.4 L562.5,387.2 L564.5,387.0 L566.5,386.7 L568.5,386.4 L570.5,386.1 L572.5,385.7 L574.5,385.3 L576.5,384.8 L578.5,384.2 L580.5,383.7 L582.4,383.0 L584.4,382.3 L586.4,381.6 L588.4,380.9 L590.4,380.1 L592.4,379.3 L594.4,378.4 L596.4,377.6 L598.4,376.6 L600.4,375.7 L602.4,374.7 L604.4,373.6 L606.4,372.5 L608.4,371.4 L610.4,370.2 L612.4,369.0 L614.4,367.8 L616.4,366.5 L618.4,365.2 L620.4,363.9 L622.4,362.5 L624.4,361.1 L626.4,359.7 L628.4,358.2 L630.4,356.7 L632.4,355.2 L634.4,353.6 L636.4,352.0 L638.4,350.3 L640.4,348.6 L642.4,346.8 L644.4,345.0 L646.4,343.1 L648.4,341.2 L650.4,339.2 L652.4,337.3 L654.4,335.3 L656.4,333.3 L656.4,566.3 L654.4,563.3 L652.4,560.4 L650.4,557.4 L648.4,554.5 L646.4,551.6 L644.4,548.7 L642.4,545.9 L640.4,543.0 L638.4,540.2 L636.4,537.3 L634.4,534.5 L632.4,531.6 L630.4,528.7 L628.4,525.9 L626.4,523.1 L624.4,520.3 L622.4,517.6 L620.4,514.9 L618.4,512.4 L616.4,510.0 L614.4,507.7 L612.4,505.6 L610.4,503.5 L608.4,501.5 L606.4,499.6 L604.4,497.8 L602.4,496.1 L600.4,494.4 L598.4,492.7 L596.4,491.1 L594.4,489.6 L592.4,488.0 L590.4,486.5 L588.4,485.0 L586.4,483.6 L584.4,482.2 L582.4,480.9 L580.5,479.6 L578.5,478.4 L576.5,477.2 L574.5,476.1 L572.5,475.1 L570.5,474.0 L568.5,473.1 L566.5,472.2 L564.5,471.3 L562.5,470.5 L560.5,469.7 L558.5,469.0 L556.5,468.4 L554.5,467.8 L552.5,467.2 L550.5,466.7 L548.5,466.2 L546.5,465.7 L544.5,465.2 L542.5,464.8 L540.5,464.4 L538.5,463.9 L536.5,463.5 L534.5,463.1 L532.5,462.7 L530.5,462.3 L528.5,461.9 L526.5,461.5 L524.5,461.1 L522.5,460.7 L520.5,460.3 L518.5,459.9 L516.5,459.6 L514.5,459.3 L512.5,458.9 L510.5,458.6 L508.5,458.4 L506.5,458.1 L504.5,457.9 L502.5,457.7 L500.5,457.5 L498.5,457.3 L496.5,457.1 L494.5,456.9 L492.5,456.7 L490.5,456.5 L488.5,456.3 L486.5,456.1 L484.5,455.9 L482.5,455.7 L480.5,455.4 L478.5,455.2 L476.5,454.9 L474.5,454.6 L472.5,454.3 L470.5,454.0 L468.5,453.7 L466.5,453.4 L464.5,453.1 L462.5,452.8 L460.5,452.5 L458.5,452.2 L456.5,451.9 L454.5,451.6 L452.5,451.3 L450.5,451.0 L448.5,450.7 L446.5,450.3 L444.5,450.0 L442.5,449.6 L440.5,449.2 L438.5,448.9 L436.5,448.5 L434.5,448.1 L432.6,447.7 L430.6,447.2 L428.6,446.8 L426.6,446.3 L424.6,445.7 L422.6,445.1 L420.6,444.4 L418.6,443.7 L416.6,442.8 L414.6,441.9 L412.6,440.8 L410.6,439.6 L408.6,438.4 L406.6,437.0 L404.6,435.5 L402.6,433.9 L400.6,432.2 L398.6,430.4 L396.6,428.6 L394.6,426.7 L392.6,424.9 L390.6,423.0 L388.6,421.2 L386.6,419.4 L384.6,417.6 L382.6,415.8 L380.6,414.0 L378.6,412.1 L376.6,410.2 L374.6,408.2 L372.6,406.2 L370.6,404.0 L368.6,401.9 L366.6,399.7 L364.6,397.6 L362.6,395.5 L360.6,393.4 L358.6,391.5 L356.6,389.6 L354.6,387.8 L352.6,386.2 L350.6,384.6 L348.6,383.1 L346.6,381.7 L344.6,380.5 L342.6,379.4 L340.6,378.4 L338.6,377.6 L336.6,376.9 L334.6,376.3 L332.6,375.8 L330.6,375.2 L328.6,374.5 L326.6,373.9 L324.6,373.1 L322.6,372.2 L320.6,371.3 L318.6,370.4 L316.6,369.5 L314.6,368.6 L312.6,367.7 L310.6,366.9 L308.6,366.2 L306.6,365.6 L304.6,365.1 L302.6,364.6 L300.6,364.2 L298.6,363.9 L296.6,363.7 L294.6,363.5 L292.6,363.4 L290.6,363.4 L288.6,363.5 L286.6,363.6 L284.7,363.9 L282.7,364.2 L280.7,364.5 L278.7,365.0 L276.7,365.5 L274.7,366.1 L272.7,366.7 L270.7,367.4 L268.7,368.2 L266.7,369.1 L264.7,370.1 L262.7,371.1 L260.7,372.2 L258.7,373.5 L256.7,374.8 L254.7,376.2 L252.7,377.8 L250.7,379.5 L248.7,381.3 L246.7,383.3 L244.7,385.3 L242.7,387.6 L240.7,389.9 L238.7,392.4 L236.7,395.1 L234.7,397.9 L232.7,400.8 L230.7,403.9 L228.7,407.2 L226.7,410.6 L224.7,414.2 L222.7,418.1 L220.7,422.1 L218.7,426.3 L216.7,430.7 L214.7,435.2 L212.7,439.8 L210.7,444.5Z" fill="#d00808" fill-opacity="0.4" stroke="none"/>
<path d="M210.7,375.4 L212.7,373.5 L214.7,371.7 L216.7,369.8 L218.7,368.0 L220.7,366.3 L222.7,364.6 L224.7,362.9 L226.7,361.3 L228.7,359.7 L230.7,358.2 L232.7,356.8 L234.7,355.4 L236.7,354.0 L238.7,352.7 L240.7,351.4 L242.7,350.2 L244.7,349.0 L246.7,347.8 L248.7,346.7 L250.7,345.6 L252.7,344.5 L254.7,343.5 L256.7,342.6 L258.7,341.6 L260.7,340.8 L262.7,340.0 L264.7,339.2 L266.7,338.5 L268.7,337.9 L270.7,337.4 L272.7,336.9 L274.7,336.4 L276.7,336.1 L278.7,335.7 L280.7,335.5 L282.7,335.3 L284.7,335.2 L286.6,335.1 L288.6,335.0 L290.6,335.0 L292.6,335.0 L294.6,335.1 L296.6,335.2 L298.6,335.3 L300.6,335.5 L302.6,335.7 L304.6,336.0 L306.6,336.3 L308.6,336.7 L310.6,337.1 L312.6,337.6 L314.6,338.1 L316.6,338.6 L318.6,339.2 L320.6,339.9 L322.6,340.5 L324.6,341.2 L326.6,342.0 L328.6,342.7 L330.6,343.6 L332.6,344.5 L334.6,345.4 L336.6,346.4 L338.6,347.6 L340.6,348.8 L342.6,350.1 L344.6,351.5 L346.6,353.0 L348.6,354.6 L350.6,356.2 L352.6,357.9 L354.6,359.6 L356.6,361.4 L358.6,363.3 L360.6,365.2 L362.6,367.1 L364.6,369.1 L366.6,371.2 L368.6,373.2 L370.6,375.3 L372.6,377.3 L374.6,379.4 L376.6,381.4 L378.6,383.3 L380.6,385.2 L382.6,387.1 L384.6,388.9 L386.6,390.8 L388.6,392.5 L390.6,394.3 L392.6,396.1 L394.6,397.8 L396.6,399.5 L398.6,401.1 L400.6,402.7 L402.6,404.2 L404.6,405.6 L406.6,406.9 L408.6,408.2 L410.6,409.4 L412.6,410.5 L414.6,411.5 L416.6,412.4 L418.6,413.2 L420.6,413.9 L422.6,414.4 L424.6,414.9 L426.6,415.3 L428.6,415.5 L430.6,415.7 L432.6,415.9 L434.5,416.0 L436.5,416.1 L438.5,416.1 L440.5,416.2 L442.5,416.2 L444.5,416.3 L446.5,416.3 L448.5,416.4 L450.5,416.5 L452.5,416.6 L454.5,416.8 L456.5,417.0 L458.5,417.2 L460.5,417.4 L462.5,417.6 L464.5,417.9 L466.5,418.2 L468.5,418.5 L470.5,418.8 L472.5,419.1 L474.5,419.4 L476.5,419.7 L478.5,420.0 L480.5,420.2 L482.5,420.5 L484.5,420.7 L486.5,420.9 L488.5,421.1 L490.5,421.3 L492.5,421.4 L494.5,421.6 L496.5,421.7 L498.5,421.9 L500.5,422.0 L502.5,422.1 L504.5,422.3 L506.5,422.5 L508.5,422.7 L510.5,422.9 L512.5,423.1 L514.5,423.3 L516.5,423.6 L518.5,423.9 L520.5,424.2 L522.5,424.4 L524.5,424.7 L526.5,425.0 L528.5,425.3 L530.5,425.5 L532.5,425.8 L534.5,426.1 L536.5,426.4 L538.5,426.7 L540.5,427.0 L542.5,427.3 L544.5,427.6 L546.5,427.9 L548.5,428.2 L550.5,428.6 L552.5,428.9 L554.5,429.3 L556.5,429.6 L558.5,430.0 L560.5,430.3 L562.5,430.6 L564.5,431.0 L566.5,431.3 L568.5,431.6 L570.5,431.9 L572.5,432.2 L574.5,432.5 L576.5,432.8 L578.5,433.1 L580.5,433.4 L582.4,433.6 L584.4,433.9 L586.4,434.2 L588.4,434.4 L590.4,434.7 L592.4,434.9 L594.4,435.2 L596.4,435.5 L598.4,435.7 L600.4,436.0 L602.4,436.3 L604.4,436.6 L606.4,436.9 L608.4,437.2 L610.4,437.5 L612.4,437.9 L614.4,438.3 L616.4,438.6 L618.4,439.1 L620.4,439.5 L622.4,439.9 L624.4,440.4 L626.4,440.9 L628.4,441.4 L630.4,442.0 L632.4,442.6 L634.4,443.2 L636.4,443.8 L638.4,444.5 L640.4,445.1 L642.4,445.8 L644.4,446.5 L646.4,447.2 L648.4,447.9 L650.4,448.7 L652.4,449.4 L654.4,450.1 L656.4,450.8" fill="none" stroke="#e00000" stroke-width="1.9" stroke-linejoin="round"/>
</g>
<path d="M177.7,31.8 L177.7,582.5 L715.7,582.5" fill="none" stroke="#000" stroke-width="2"/>
<path d="M168.7,126.9 L177.7,126.9" stroke="#000" stroke-width="1.8"/>
<text transform="translate(159.9 139.5) scale(1 1.055)" font-size="32.3" text-anchor="end" font-weight="normal" stroke="#000" stroke-width="0.3">2.0</text>
<path d="M168.7,265.4 L177.7,265.4" stroke="#000" stroke-width="1.8"/>
<text transform="translate(159.9 278.0) scale(1 1.055)" font-size="32.3" text-anchor="end" font-weight="normal" stroke="#000" stroke-width="0.3">1.5</text>
<path d="M168.7,404.5 L177.7,404.5" stroke="#000" stroke-width="1.8"/>
<text transform="translate(159.9 417.1) scale(1 1.055)" font-size="32.3" text-anchor="end" font-weight="normal" stroke="#000" stroke-width="0.3">1.0</text>
<path d="M168.7,543 L177.7,543" stroke="#000" stroke-width="1.8"/>
<text transform="translate(159.9 555.6) scale(1 1.055)" font-size="32.3" text-anchor="end" font-weight="normal" stroke="#000" stroke-width="0.3">0.5</text>
<path d="M235.5,582.5 L235.5,591.5" stroke="#000" stroke-width="1.8"/>
<text transform="translate(235.5 619.6) scale(1 1.055)" font-size="32.3" text-anchor="middle" font-weight="normal" stroke="#000" stroke-width="0.3">20</text>
<path d="M387.2,582.5 L387.2,591.5" stroke="#000" stroke-width="1.8"/>
<text transform="translate(387.2 619.6) scale(1 1.055)" font-size="32.3" text-anchor="middle" font-weight="normal" stroke="#000" stroke-width="0.3">30</text>
<path d="M538.8,582.5 L538.8,591.5" stroke="#000" stroke-width="1.8"/>
<text transform="translate(538.8 619.6) scale(1 1.055)" font-size="32.3" text-anchor="middle" font-weight="normal" stroke="#000" stroke-width="0.3">40</text>
<path d="M689.8,582.5 L689.8,591.5" stroke="#000" stroke-width="1.8"/>
<text transform="translate(689.8 619.6) scale(1 1.055)" font-size="32.3" text-anchor="middle" font-weight="normal" stroke="#000" stroke-width="0.3">50</text>
<text transform="translate(438.5 25.8) scale(1 1.055)" font-size="32.5" text-anchor="middle" font-weight="bold" stroke="#000" stroke-width="0.2">1501.529 m/z</text>
<text transform="translate(31 32.8) scale(1 1.055)" font-size="41.5" text-anchor="start" font-weight="normal" stroke="#000" stroke-width="0.3">a</text>
<text transform="translate(447 656) scale(1 1.055)" font-size="32.3" text-anchor="middle" font-weight="normal" stroke="#000" stroke-width="0.3">BMI</text>
<text transform="translate(106.2 309) rotate(-90) scale(1 1.055)" font-size="32.6" text-anchor="middle" font-weight="normal" stroke="#000" stroke-width="0.3">Relative Intensity (%)</text>
<g clip-path="url(#clipb)">
<g fill="#cc0a0a">
<circle cx="1116.1" cy="108.1" r="2.5"/>
<circle cx="1120.2" cy="174.7" r="2.5"/>
<circle cx="1120.2" cy="223.4" r="2.5"/>
<circle cx="1239.6" cy="262.7" r="2.5"/>
<circle cx="1108.1" cy="286.2" r="2.5"/>
<circle cx="1118.3" cy="286.2" r="2.5"/>
<circle cx="1149.6" cy="288.9" r="2.5"/>
<circle cx="1158.8" cy="287.2" r="2.5"/>
<circle cx="1014.2" cy="301.1" r="2.5"/>
<circle cx="1146.5" cy="300.1" r="2.5"/>
<circle cx="1079.9" cy="313.2" r="2.5"/>
<circle cx="1082.9" cy="317.1" r="2.5"/>
<circle cx="1248.6" cy="313.2" r="2.5"/>
<circle cx="1057.6" cy="321.0" r="2.5"/>
<circle cx="1194.0" cy="320.5" r="2.5"/>
<circle cx="1341.6" cy="177.8" r="2.5"/>
<circle cx="1286.1" cy="255.7" r="2.5"/>
<circle cx="1283.1" cy="270.0" r="2.5"/>
<circle cx="1357.9" cy="272.7" r="2.5"/>
<circle cx="1351.8" cy="291.1" r="2.5"/>
<circle cx="1074.8" cy="325.3" r="2.5"/>
<circle cx="1195.2" cy="334.7" r="2.5"/>
<circle cx="1215.3" cy="332.4" r="2.5"/>
<circle cx="1245.7" cy="336.7" r="2.5"/>
<circle cx="1259.8" cy="336.7" r="2.5"/>
<circle cx="1116.1" cy="332.8" r="2.5"/>
<circle cx="1115.1" cy="336.7" r="2.5"/>
<circle cx="1121.2" cy="335.7" r="2.5"/>
<circle cx="1133.3" cy="341.6" r="2.5"/>
<circle cx="1036.3" cy="345.5" r="2.5"/>
<circle cx="1048.6" cy="349.6" r="2.5"/>
<circle cx="1082.9" cy="353.3" r="2.5"/>
<circle cx="1229.4" cy="344.5" r="2.5"/>
<circle cx="1247.6" cy="347.4" r="2.5"/>
<circle cx="1260.7" cy="351.4" r="2.5"/>
<circle cx="1204.2" cy="362.7" r="2.5"/>
<circle cx="1166.8" cy="365.6" r="2.5"/>
<circle cx="1077.8" cy="369.6" r="2.5"/>
<circle cx="1173.8" cy="374.8" r="2.5"/>
<circle cx="1171.9" cy="377.8" r="2.5"/>
<circle cx="1135.3" cy="380.7" r="2.5"/>
<circle cx="1154.7" cy="380.1" r="2.5"/>
<circle cx="1167.8" cy="385.0" r="2.5"/>
<circle cx="1130.4" cy="387.0" r="2.5"/>
<circle cx="1124.3" cy="389.1" r="2.5"/>
<circle cx="1213.2" cy="393.0" r="2.5"/>
<circle cx="1109.1" cy="401.3" r="2.5"/>
<circle cx="1141.4" cy="402.2" r="2.5"/>
<circle cx="1122.2" cy="405.2" r="2.5"/>
<circle cx="1153.5" cy="405.2" r="2.5"/>
<circle cx="1189.1" cy="406.1" r="2.5"/>
<circle cx="1068.6" cy="408.1" r="2.5"/>
<circle cx="1241.6" cy="408.1" r="2.5"/>
<circle cx="1034.3" cy="415.3" r="2.5"/>
<circle cx="1004.0" cy="414.4" r="2.5"/>
<circle cx="1143.5" cy="415.3" r="2.5"/>
<circle cx="1194.0" cy="419.3" r="2.5"/>
<circle cx="1224.3" cy="424.3" r="2.5"/>
<circle cx="1065.6" cy="429.4" r="2.5"/>
<circle cx="1112.0" cy="427.7" r="2.5"/>
<circle cx="1108.1" cy="430.6" r="2.5"/>
<circle cx="1160.7" cy="432.6" r="2.5"/>
<circle cx="1151.5" cy="436.5" r="2.5"/>
<circle cx="1136.5" cy="437.5" r="2.5"/>
<circle cx="1031.4" cy="439.6" r="2.5"/>
<circle cx="1069.7" cy="441.6" r="2.5"/>
<circle cx="1127.3" cy="441.6" r="2.5"/>
<circle cx="1166.8" cy="441.6" r="2.5"/>
<circle cx="1218.3" cy="443.7" r="2.5"/>
<circle cx="1207.1" cy="445.7" r="2.5"/>
<circle cx="1247.6" cy="443.7" r="2.5"/>
<circle cx="1108.1" cy="446.7" r="2.5"/>
<circle cx="1135.3" cy="449.8" r="2.5"/>
<circle cx="1153.5" cy="449.8" r="2.5"/>
<circle cx="1129.2" cy="452.7" r="2.5"/>
<circle cx="1087.0" cy="454.9" r="2.5"/>
<circle cx="1170.9" cy="454.9" r="2.5"/>
<circle cx="1006.9" cy="457.8" r="2.5"/>
<circle cx="1231.4" cy="460.0" r="2.5"/>
<circle cx="1129.2" cy="472.1" r="2.5"/>
<circle cx="1145.5" cy="473.9" r="2.5"/>
<circle cx="1187.9" cy="473.9" r="2.5"/>
<circle cx="1051.5" cy="477.2" r="2.5"/>
<circle cx="1040.4" cy="480.1" r="2.5"/>
<circle cx="1043.5" cy="483.3" r="2.5"/>
<circle cx="1223.4" cy="497.3" r="2.5"/>
<circle cx="1025.1" cy="502.4" r="2.5"/>
<circle cx="1391.3" cy="351.7" r="2.5"/>
<circle cx="1310.5" cy="378.0" r="2.5"/>
<circle cx="1378.0" cy="411.2" r="2.5"/>
<circle cx="1453.0" cy="443.7" r="2.5"/>
<circle cx="1376.1" cy="450.8" r="2.5"/>
<circle cx="1308.4" cy="451.7" r="2.5"/>
<circle cx="1337.7" cy="472.1" r="2.5"/>
</g>
<path d="M972.8,329.0 L974.8,330.7 L976.8,332.3 L978.8,334.0 L980.8,335.7 L982.8,337.4 L984.8,339.1 L986.8,340.8 L988.8,342.5 L990.8,344.2 L992.8,345.9 L994.8,347.6 L996.8,349.3 L998.8,351.0 L1000.8,352.6 L1002.8,354.2 L1004.8,355.8 L1006.8,357.3 L1008.8,358.8 L1010.9,360.2 L1012.9,361.6 L1014.9,362.9 L1016.9,364.2 L1018.9,365.5 L1020.9,366.7 L1022.9,367.8 L1024.9,368.9 L1026.9,370.0 L1028.9,371.1 L1030.9,372.1 L1032.9,373.0 L1034.9,373.9 L1036.9,374.7 L1038.9,375.5 L1040.9,376.2 L1042.9,376.8 L1044.9,377.4 L1046.9,378.0 L1048.9,378.5 L1050.9,379.0 L1052.9,379.5 L1054.9,380.0 L1056.9,380.5 L1058.9,381.0 L1060.9,381.5 L1062.9,382.0 L1064.9,382.5 L1066.9,383.0 L1068.9,383.5 L1070.9,384.0 L1072.9,384.5 L1074.9,385.0 L1076.9,385.5 L1078.9,385.9 L1080.9,386.4 L1083.0,386.9 L1085.0,387.4 L1087.0,387.9 L1089.0,388.4 L1091.0,389.0 L1093.0,389.5 L1095.0,390.1 L1097.0,390.7 L1099.0,391.3 L1101.0,391.9 L1103.0,392.5 L1105.0,393.1 L1107.0,393.8 L1109.0,394.5 L1111.0,395.1 L1113.0,395.8 L1115.0,396.6 L1117.0,397.3 L1119.0,398.0 L1121.0,398.7 L1123.0,399.4 L1125.0,400.0 L1127.0,400.7 L1129.0,401.3 L1131.0,401.9 L1133.0,402.4 L1135.0,402.9 L1137.0,403.3 L1139.0,403.6 L1141.0,403.9 L1143.0,404.0 L1145.0,404.1 L1147.0,404.1 L1149.0,404.0 L1151.0,403.8 L1153.0,403.5 L1155.0,403.2 L1157.1,402.8 L1159.1,402.4 L1161.1,402.0 L1163.1,401.5 L1165.1,401.0 L1167.1,400.5 L1169.1,400.0 L1171.1,399.5 L1173.1,399.0 L1175.1,398.5 L1177.1,398.0 L1179.1,397.5 L1181.1,397.0 L1183.1,396.6 L1185.1,396.1 L1187.1,395.7 L1189.1,395.2 L1191.1,394.8 L1193.1,394.4 L1195.1,394.0 L1197.1,393.6 L1199.1,393.2 L1201.1,392.8 L1203.1,392.4 L1205.1,392.0 L1207.1,391.6 L1209.1,391.2 L1211.1,390.8 L1213.1,390.4 L1215.1,389.9 L1217.1,389.4 L1219.1,388.9 L1221.1,388.3 L1223.1,387.6 L1225.1,386.9 L1227.1,386.2 L1229.2,385.4 L1231.2,384.5 L1233.2,383.6 L1235.2,382.7 L1237.2,381.7 L1239.2,380.7 L1241.2,379.6 L1243.2,378.6 L1245.2,377.5 L1247.2,376.3 L1249.2,375.2 L1251.2,374.1 L1253.2,372.9 L1255.2,371.8 L1257.2,370.7 L1259.2,369.7 L1261.2,368.6 L1263.2,367.6 L1265.2,366.6 L1267.2,365.6 L1269.2,364.6 L1271.2,363.6 L1273.2,362.6 L1275.2,361.6 L1277.2,360.5 L1279.2,359.5 L1281.2,358.4 L1283.2,357.3 L1285.2,356.2 L1287.2,355.1 L1289.2,354.0 L1291.2,352.8 L1293.2,351.7 L1295.2,350.5 L1297.2,349.3 L1299.2,348.1 L1301.3,346.9 L1303.3,345.7 L1305.3,344.5 L1307.3,343.3 L1309.3,342.1 L1311.3,340.9 L1313.3,339.7 L1315.3,338.5 L1317.3,337.3 L1319.3,336.1 L1321.3,334.9 L1323.3,333.7 L1325.3,332.5 L1327.3,331.3 L1329.3,330.1 L1331.3,328.9 L1333.3,327.6 L1335.3,326.4 L1337.3,325.2 L1339.3,323.9 L1341.3,322.6 L1343.3,321.3 L1345.3,320.0 L1347.3,318.6 L1349.3,317.2 L1351.3,315.8 L1353.3,314.3 L1355.3,312.9 L1357.3,311.3 L1359.3,309.8 L1361.3,308.2 L1363.3,306.6 L1365.3,305.0 L1367.3,303.3 L1369.3,301.7 L1371.3,300.0 L1373.3,298.3 L1375.4,296.6 L1377.4,294.8 L1379.4,293.1 L1381.4,291.3 L1383.4,289.5 L1385.4,287.7 L1387.4,285.9 L1389.4,284.1 L1391.4,282.2 L1393.4,280.3 L1395.4,278.3 L1397.4,276.4 L1399.4,274.4 L1401.4,272.4 L1403.4,270.4 L1405.4,268.3 L1407.4,266.2 L1409.4,264.1 L1411.4,262.0 L1413.4,259.9 L1415.4,257.8 L1417.4,255.6 L1419.4,253.4 L1421.4,251.2 L1423.4,249.0 L1425.4,246.7 L1427.4,244.5 L1429.4,242.2 L1431.4,239.9 L1433.4,237.6 L1435.4,235.3 L1437.4,232.9 L1439.4,230.5 L1441.4,228.1 L1443.4,225.6 L1445.4,223.1 L1447.5,220.5 L1449.5,217.9 L1451.5,215.2 L1453.5,212.5 L1455.5,209.8 L1457.5,207.0 L1459.5,204.2 L1461.5,201.4 L1463.5,198.7 L1465.5,195.9 L1467.5,193.3 L1469.5,190.6 L1471.5,188.1 L1473.5,185.5 L1475.5,183.1 L1477.5,180.6 L1479.5,178.2 L1481.5,175.9 L1483.5,173.5 L1483.5,379.0 L1481.5,378.4 L1479.5,377.7 L1477.5,377.1 L1475.5,376.5 L1473.5,375.9 L1471.5,375.4 L1469.5,374.8 L1467.5,374.3 L1465.5,373.8 L1463.5,373.3 L1461.5,372.9 L1459.5,372.5 L1457.5,372.0 L1455.5,371.6 L1453.5,371.2 L1451.5,370.9 L1449.5,370.5 L1447.5,370.1 L1445.4,369.8 L1443.4,369.4 L1441.4,369.1 L1439.4,368.8 L1437.4,368.6 L1435.4,368.3 L1433.4,368.1 L1431.4,367.9 L1429.4,367.8 L1427.4,367.7 L1425.4,367.6 L1423.4,367.5 L1421.4,367.4 L1419.4,367.4 L1417.4,367.3 L1415.4,367.3 L1413.4,367.2 L1411.4,367.2 L1409.4,367.2 L1407.4,367.1 L1405.4,367.1 L1403.4,367.1 L1401.4,367.1 L1399.4,367.1 L1397.4,367.1 L1395.4,367.2 L1393.4,367.3 L1391.4,367.4 L1389.4,367.5 L1387.4,367.6 L1385.4,367.8 L1383.4,368.0 L1381.4,368.2 L1379.4,368.4 L1377.4,368.6 L1375.4,368.9 L1373.3,369.2 L1371.3,369.4 L1369.3,369.7 L1367.3,370.0 L1365.3,370.4 L1363.3,370.7 L1361.3,371.1 L1359.3,371.5 L1357.3,371.9 L1355.3,372.4 L1353.3,372.9 L1351.3,373.4 L1349.3,374.0 L1347.3,374.5 L1345.3,375.1 L1343.3,375.7 L1341.3,376.4 L1339.3,377.0 L1337.3,377.7 L1335.3,378.5 L1333.3,379.2 L1331.3,380.0 L1329.3,380.7 L1327.3,381.5 L1325.3,382.3 L1323.3,383.1 L1321.3,383.9 L1319.3,384.7 L1317.3,385.5 L1315.3,386.3 L1313.3,387.1 L1311.3,387.9 L1309.3,388.7 L1307.3,389.5 L1305.3,390.3 L1303.3,391.1 L1301.3,391.9 L1299.2,392.7 L1297.2,393.5 L1295.2,394.3 L1293.2,395.1 L1291.2,395.9 L1289.2,396.7 L1287.2,397.5 L1285.2,398.3 L1283.2,399.1 L1281.2,399.9 L1279.2,400.7 L1277.2,401.5 L1275.2,402.3 L1273.2,403.1 L1271.2,404.0 L1269.2,404.8 L1267.2,405.7 L1265.2,406.6 L1263.2,407.6 L1261.2,408.5 L1259.2,409.6 L1257.2,410.6 L1255.2,411.6 L1253.2,412.7 L1251.2,413.8 L1249.2,414.8 L1247.2,415.8 L1245.2,416.8 L1243.2,417.8 L1241.2,418.7 L1239.2,419.6 L1237.2,420.4 L1235.2,421.2 L1233.2,422.0 L1231.2,422.7 L1229.2,423.4 L1227.1,424.1 L1225.1,424.8 L1223.1,425.5 L1221.1,426.1 L1219.1,426.8 L1217.1,427.4 L1215.1,428.0 L1213.1,428.6 L1211.1,429.2 L1209.1,429.8 L1207.1,430.3 L1205.1,430.8 L1203.1,431.3 L1201.1,431.7 L1199.1,432.1 L1197.1,432.4 L1195.1,432.7 L1193.1,433.0 L1191.1,433.2 L1189.1,433.3 L1187.1,433.5 L1185.1,433.7 L1183.1,433.9 L1181.1,434.2 L1179.1,434.5 L1177.1,434.9 L1175.1,435.4 L1173.1,435.9 L1171.1,436.5 L1169.1,437.1 L1167.1,437.6 L1165.1,438.2 L1163.1,438.7 L1161.1,439.1 L1159.1,439.5 L1157.1,439.8 L1155.0,440.0 L1153.0,440.2 L1151.0,440.3 L1149.0,440.4 L1147.0,440.4 L1145.0,440.3 L1143.0,440.2 L1141.0,439.9 L1139.0,439.7 L1137.0,439.3 L1135.0,438.9 L1133.0,438.4 L1131.0,437.8 L1129.0,437.2 L1127.0,436.5 L1125.0,435.8 L1123.0,435.0 L1121.0,434.1 L1119.0,433.2 L1117.0,432.3 L1115.0,431.4 L1113.0,430.4 L1111.0,429.4 L1109.0,428.4 L1107.0,427.4 L1105.0,426.4 L1103.0,425.4 L1101.0,424.5 L1099.0,423.5 L1097.0,422.7 L1095.0,421.8 L1093.0,421.0 L1091.0,420.2 L1089.0,419.5 L1087.0,418.8 L1085.0,418.2 L1083.0,417.6 L1080.9,417.1 L1078.9,416.6 L1076.9,416.2 L1074.9,415.8 L1072.9,415.5 L1070.9,415.2 L1068.9,415.0 L1066.9,414.9 L1064.9,414.9 L1062.9,415.0 L1060.9,415.2 L1058.9,415.6 L1056.9,416.0 L1054.9,416.4 L1052.9,417.0 L1050.9,417.6 L1048.9,418.3 L1046.9,419.1 L1044.9,420.0 L1042.9,420.9 L1040.9,422.0 L1038.9,423.2 L1036.9,424.6 L1034.9,426.2 L1032.9,427.9 L1030.9,429.8 L1028.9,431.9 L1026.9,434.1 L1024.9,436.5 L1022.9,439.0 L1020.9,441.7 L1018.9,444.3 L1016.9,447.1 L1014.9,449.8 L1012.9,452.6 L1010.9,455.3 L1008.8,458.0 L1006.8,460.7 L1004.8,463.3 L1002.8,466.0 L1000.8,468.7 L998.8,471.4 L996.8,474.2 L994.8,477.1 L992.8,480.0 L990.8,483.1 L988.8,486.2 L986.8,489.4 L984.8,492.7 L982.8,496.1 L980.8,499.4 L978.8,502.9 L976.8,506.3 L974.8,509.8 L972.8,513.3Z" fill="#0f4b8a" fill-opacity="0.4" stroke="none"/>
<g fill="#0505c8">
<circle cx="1089.9" cy="106.4" r="2.5"/>
<circle cx="1071.7" cy="167.6" r="2.5"/>
<circle cx="1068.6" cy="203.0" r="2.5"/>
<circle cx="1058.6" cy="251.6" r="2.5"/>
<circle cx="1020.2" cy="255.7" r="2.5"/>
<circle cx="1046.5" cy="264.9" r="2.5"/>
<circle cx="1113.2" cy="264.9" r="2.5"/>
<circle cx="1178.0" cy="263.7" r="2.5"/>
<circle cx="1257.8" cy="272.7" r="2.5"/>
<circle cx="1199.1" cy="293.2" r="2.5"/>
<circle cx="1056.6" cy="297.2" r="2.5"/>
<circle cx="1104.0" cy="297.2" r="2.5"/>
<circle cx="1151.5" cy="295.0" r="2.5"/>
<circle cx="1148.6" cy="296.2" r="2.5"/>
<circle cx="1050.6" cy="312.2" r="2.5"/>
<circle cx="1063.7" cy="316.3" r="2.5"/>
<circle cx="1211.6" cy="320.5" r="2.5"/>
<circle cx="1215.5" cy="319.7" r="2.5"/>
<circle cx="1338.7" cy="75.6" r="2.5"/>
<circle cx="1356.9" cy="221.4" r="2.5"/>
<circle cx="1306.4" cy="257.6" r="2.5"/>
<circle cx="1314.4" cy="291.1" r="2.5"/>
<circle cx="1484.5" cy="268.8" r="2.5"/>
<circle cx="1272.0" cy="316.1" r="2.5"/>
<circle cx="1060.5" cy="324.3" r="2.5"/>
<circle cx="1043.5" cy="331.4" r="2.5"/>
<circle cx="1086.0" cy="327.5" r="2.5"/>
<circle cx="1146.5" cy="327.5" r="2.5"/>
<circle cx="1221.4" cy="327.5" r="2.5"/>
<circle cx="1120.2" cy="332.8" r="2.5"/>
<circle cx="1075.8" cy="339.6" r="2.5"/>
<circle cx="1078.7" cy="343.5" r="2.5"/>
<circle cx="1095.0" cy="344.5" r="2.5"/>
<circle cx="1140.6" cy="341.6" r="2.5"/>
<circle cx="1156.6" cy="344.5" r="2.5"/>
<circle cx="1204.2" cy="343.5" r="2.5"/>
<circle cx="1218.5" cy="345.9" r="2.5"/>
<circle cx="1213.2" cy="347.4" r="2.5"/>
<circle cx="1234.5" cy="343.5" r="2.5"/>
<circle cx="1178.9" cy="355.7" r="2.5"/>
<circle cx="1067.6" cy="352.7" r="2.5"/>
<circle cx="1058.6" cy="357.6" r="2.5"/>
<circle cx="1115.1" cy="355.7" r="2.5"/>
<circle cx="1170.9" cy="360.7" r="2.5"/>
<circle cx="1105.2" cy="362.7" r="2.5"/>
<circle cx="1147.4" cy="361.7" r="2.5"/>
<circle cx="1150.6" cy="365.6" r="2.5"/>
<circle cx="1235.5" cy="360.7" r="2.5"/>
<circle cx="1247.6" cy="357.6" r="2.5"/>
<circle cx="1259.8" cy="363.5" r="2.5"/>
<circle cx="1068.6" cy="371.5" r="2.5"/>
<circle cx="1128.3" cy="371.9" r="2.5"/>
<circle cx="1184.0" cy="372.9" r="2.5"/>
<circle cx="1162.9" cy="376.8" r="2.5"/>
<circle cx="1204.2" cy="377.2" r="2.5"/>
<circle cx="1061.5" cy="378.8" r="2.5"/>
<circle cx="1070.7" cy="379.3" r="2.5"/>
<circle cx="1043.5" cy="380.7" r="2.5"/>
<circle cx="1097.1" cy="380.7" r="2.5"/>
<circle cx="1095.0" cy="384.6" r="2.5"/>
<circle cx="1140.6" cy="383.1" r="2.5"/>
<circle cx="1194.0" cy="383.1" r="2.5"/>
<circle cx="1192.0" cy="386.0" r="2.5"/>
<circle cx="1069.7" cy="386.0" r="2.5"/>
<circle cx="1162.9" cy="386.6" r="2.5"/>
<circle cx="1105.2" cy="387.0" r="2.5"/>
<circle cx="1136.5" cy="389.1" r="2.5"/>
<circle cx="1244.7" cy="390.9" r="2.5"/>
<circle cx="1025.1" cy="394.4" r="2.5"/>
<circle cx="1096.0" cy="394.4" r="2.5"/>
<circle cx="1082.9" cy="397.0" r="2.5"/>
<circle cx="1098.1" cy="397.9" r="2.5"/>
<circle cx="1129.2" cy="397.0" r="2.5"/>
<circle cx="1048.6" cy="397.0" r="2.5"/>
<circle cx="1048.6" cy="400.3" r="2.5"/>
<circle cx="973.8" cy="399.3" r="2.5"/>
<circle cx="1226.5" cy="400.3" r="2.5"/>
<circle cx="1096.0" cy="402.2" r="2.5"/>
<circle cx="1120.2" cy="403.2" r="2.5"/>
<circle cx="1056.6" cy="404.2" r="2.5"/>
<circle cx="1059.6" cy="405.2" r="2.5"/>
<circle cx="1098.1" cy="407.1" r="2.5"/>
<circle cx="1175.8" cy="407.1" r="2.5"/>
<circle cx="1237.6" cy="408.1" r="2.5"/>
<circle cx="1239.6" cy="413.0" r="2.5"/>
<circle cx="1204.2" cy="414.0" r="2.5"/>
<circle cx="1228.4" cy="414.0" r="2.5"/>
<circle cx="1078.7" cy="417.3" r="2.5"/>
<circle cx="1135.3" cy="419.3" r="2.5"/>
<circle cx="1153.5" cy="418.3" r="2.5"/>
<circle cx="1184.0" cy="420.4" r="2.5"/>
<circle cx="1218.5" cy="421.4" r="2.5"/>
<circle cx="1146.5" cy="428.5" r="2.5"/>
<circle cx="1061.5" cy="429.4" r="2.5"/>
<circle cx="1086.0" cy="429.4" r="2.5"/>
<circle cx="1072.9" cy="431.6" r="2.5"/>
<circle cx="1131.4" cy="430.2" r="2.5"/>
<circle cx="1167.8" cy="430.2" r="2.5"/>
<circle cx="1208.3" cy="430.2" r="2.5"/>
<circle cx="1210.2" cy="433.5" r="2.5"/>
<circle cx="1205.2" cy="435.5" r="2.5"/>
<circle cx="1236.5" cy="433.5" r="2.5"/>
<circle cx="1162.9" cy="435.5" r="2.5"/>
<circle cx="1148.6" cy="435.5" r="2.5"/>
<circle cx="1153.5" cy="437.5" r="2.5"/>
<circle cx="1185.0" cy="436.5" r="2.5"/>
<circle cx="1189.1" cy="436.5" r="2.5"/>
<circle cx="1134.3" cy="438.6" r="2.5"/>
<circle cx="1117.3" cy="441.4" r="2.5"/>
<circle cx="1121.2" cy="440.4" r="2.5"/>
<circle cx="1244.7" cy="443.7" r="2.5"/>
<circle cx="1088.9" cy="445.7" r="2.5"/>
<circle cx="1115.1" cy="445.7" r="2.5"/>
<circle cx="1125.3" cy="446.7" r="2.5"/>
<circle cx="1043.5" cy="448.8" r="2.5"/>
<circle cx="1120.2" cy="450.8" r="2.5"/>
<circle cx="1117.3" cy="451.7" r="2.5"/>
<circle cx="1261.9" cy="451.7" r="2.5"/>
<circle cx="1032.4" cy="455.1" r="2.5"/>
<circle cx="1078.7" cy="455.1" r="2.5"/>
<circle cx="1230.4" cy="455.1" r="2.5"/>
<circle cx="1250.8" cy="453.9" r="2.5"/>
<circle cx="1073.8" cy="456.8" r="2.5"/>
<circle cx="1140.6" cy="455.9" r="2.5"/>
<circle cx="1058.6" cy="458.8" r="2.5"/>
<circle cx="1095.0" cy="458.8" r="2.5"/>
<circle cx="1089.9" cy="460.0" r="2.5"/>
<circle cx="1179.9" cy="460.9" r="2.5"/>
<circle cx="1191.1" cy="460.0" r="2.5"/>
<circle cx="1152.5" cy="460.9" r="2.5"/>
<circle cx="1166.8" cy="462.9" r="2.5"/>
<circle cx="1058.6" cy="462.9" r="2.5"/>
<circle cx="1242.5" cy="461.9" r="2.5"/>
<circle cx="1083.8" cy="466.0" r="2.5"/>
<circle cx="1080.9" cy="468.8" r="2.5"/>
<circle cx="1169.7" cy="467.8" r="2.5"/>
<circle cx="1225.3" cy="466.8" r="2.5"/>
<circle cx="1261.9" cy="466.8" r="2.5"/>
<circle cx="1119.3" cy="467.8" r="2.5"/>
<circle cx="1121.2" cy="469.7" r="2.5"/>
<circle cx="1154.7" cy="469.7" r="2.5"/>
<circle cx="1158.8" cy="469.7" r="2.5"/>
<circle cx="1162.9" cy="472.3" r="2.5"/>
<circle cx="1057.6" cy="471.1" r="2.5"/>
<circle cx="1060.5" cy="472.3" r="2.5"/>
<circle cx="1101.1" cy="471.1" r="2.5"/>
<circle cx="1212.2" cy="472.3" r="2.5"/>
<circle cx="1025.1" cy="476.2" r="2.5"/>
<circle cx="1068.6" cy="476.2" r="2.5"/>
<circle cx="1050.6" cy="477.2" r="2.5"/>
<circle cx="1180.9" cy="475.0" r="2.5"/>
<circle cx="1221.4" cy="475.0" r="2.5"/>
<circle cx="1203.2" cy="476.2" r="2.5"/>
<circle cx="1108.1" cy="482.5" r="2.5"/>
<circle cx="1146.5" cy="481.1" r="2.5"/>
<circle cx="1120.2" cy="487.4" r="2.5"/>
<circle cx="1126.3" cy="488.3" r="2.5"/>
<circle cx="1142.5" cy="485.4" r="2.5"/>
<circle cx="1143.5" cy="487.4" r="2.5"/>
<circle cx="1133.3" cy="490.9" r="2.5"/>
<circle cx="1167.8" cy="491.3" r="2.5"/>
<circle cx="1239.6" cy="488.3" r="2.5"/>
<circle cx="1261.9" cy="492.3" r="2.5"/>
<circle cx="1135.3" cy="495.2" r="2.5"/>
<circle cx="1047.4" cy="497.3" r="2.5"/>
<circle cx="1077.8" cy="497.3" r="2.5"/>
<circle cx="1128.3" cy="499.5" r="2.5"/>
<circle cx="1076.8" cy="503.4" r="2.5"/>
<circle cx="1058.6" cy="509.5" r="2.5"/>
<circle cx="1074.8" cy="516.5" r="2.5"/>
<circle cx="1183.0" cy="519.7" r="2.5"/>
<circle cx="1011.0" cy="539.6" r="2.5"/>
<circle cx="1338.7" cy="327.5" r="2.5"/>
<circle cx="1284.1" cy="357.6" r="2.5"/>
<circle cx="1318.5" cy="354.7" r="2.5"/>
<circle cx="1272.0" cy="376.8" r="2.5"/>
<circle cx="1282.1" cy="378.8" r="2.5"/>
<circle cx="1270.0" cy="386.0" r="2.5"/>
<circle cx="1451.0" cy="344.5" r="2.5"/>
<circle cx="1368.1" cy="388.1" r="2.5"/>
<circle cx="1319.5" cy="398.1" r="2.5"/>
<circle cx="1275.1" cy="409.1" r="2.5"/>
<circle cx="1295.3" cy="412.2" r="2.5"/>
<circle cx="1271.0" cy="417.3" r="2.5"/>
<circle cx="1291.1" cy="419.3" r="2.5"/>
<circle cx="1333.6" cy="415.3" r="2.5"/>
<circle cx="1349.9" cy="422.4" r="2.5"/>
<circle cx="1286.1" cy="444.7" r="2.5"/>
<circle cx="1273.9" cy="451.7" r="2.5"/>
<circle cx="1331.7" cy="451.7" r="2.5"/>
<circle cx="1265.9" cy="323.4" r="2.5"/>
</g>
<path d="M972.8,422.3 L974.8,421.3 L976.8,420.3 L978.8,419.3 L980.8,418.3 L982.8,417.3 L984.8,416.3 L986.8,415.4 L988.8,414.4 L990.8,413.5 L992.8,412.5 L994.8,411.6 L996.8,410.8 L998.8,409.9 L1000.8,409.1 L1002.8,408.3 L1004.8,407.6 L1006.8,406.9 L1008.8,406.2 L1010.9,405.5 L1012.9,404.9 L1014.9,404.3 L1016.9,403.7 L1018.9,403.1 L1020.9,402.5 L1022.9,401.9 L1024.9,401.3 L1026.9,400.8 L1028.9,400.2 L1030.9,399.6 L1032.9,399.2 L1034.9,398.7 L1036.9,398.4 L1038.9,398.1 L1040.9,397.8 L1042.9,397.7 L1044.9,397.6 L1046.9,397.5 L1048.9,397.5 L1050.9,397.6 L1052.9,397.6 L1054.9,397.7 L1056.9,397.8 L1058.9,398.0 L1060.9,398.1 L1062.9,398.3 L1064.9,398.5 L1066.9,398.7 L1068.9,399.0 L1070.9,399.2 L1072.9,399.5 L1074.9,399.8 L1076.9,400.2 L1078.9,400.6 L1080.9,401.0 L1083.0,401.5 L1085.0,402.0 L1087.0,402.6 L1089.0,403.3 L1091.0,404.0 L1093.0,404.8 L1095.0,405.6 L1097.0,406.5 L1099.0,407.3 L1101.0,408.2 L1103.0,409.0 L1105.0,409.9 L1107.0,410.7 L1109.0,411.5 L1111.0,412.2 L1113.0,413.0 L1115.0,413.7 L1117.0,414.4 L1119.0,415.1 L1121.0,415.8 L1123.0,416.5 L1125.0,417.2 L1127.0,417.9 L1129.0,418.5 L1131.0,419.1 L1133.0,419.7 L1135.0,420.2 L1137.0,420.7 L1139.0,421.1 L1141.0,421.4 L1143.0,421.6 L1145.0,421.7 L1147.0,421.7 L1149.0,421.6 L1151.0,421.4 L1153.0,421.1 L1155.0,420.8 L1157.1,420.3 L1159.1,419.8 L1161.1,419.2 L1163.1,418.5 L1165.1,417.8 L1167.1,417.2 L1169.1,416.5 L1171.1,415.9 L1173.1,415.3 L1175.1,414.8 L1177.1,414.2 L1179.1,413.7 L1181.1,413.3 L1183.1,412.8 L1185.1,412.4 L1187.1,412.0 L1189.1,411.6 L1191.1,411.2 L1193.1,410.8 L1195.1,410.4 L1197.1,410.0 L1199.1,409.6 L1201.1,409.2 L1203.1,408.8 L1205.1,408.4 L1207.1,408.0 L1209.1,407.6 L1211.1,407.2 L1213.1,406.8 L1215.1,406.4 L1217.1,405.9 L1219.1,405.5 L1221.1,405.0 L1223.1,404.5 L1225.1,404.0 L1227.1,403.4 L1229.2,402.8 L1231.2,402.3 L1233.2,401.7 L1235.2,401.1 L1237.2,400.5 L1239.2,399.8 L1241.2,399.2 L1243.2,398.5 L1245.2,397.8 L1247.2,397.0 L1249.2,396.2 L1251.2,395.4 L1253.2,394.5 L1255.2,393.6 L1257.2,392.6 L1259.2,391.6 L1261.2,390.5 L1263.2,389.5 L1265.2,388.4 L1267.2,387.3 L1269.2,386.2 L1271.2,385.1 L1273.2,384.0 L1275.2,382.9 L1277.2,381.9 L1279.2,380.8 L1281.2,379.8 L1283.2,378.7 L1285.2,377.7 L1287.2,376.7 L1289.2,375.7 L1291.2,374.7 L1293.2,373.7 L1295.2,372.7 L1297.2,371.7 L1299.2,370.7 L1301.3,369.7 L1303.3,368.7 L1305.3,367.7 L1307.3,366.7 L1309.3,365.7 L1311.3,364.7 L1313.3,363.7 L1315.3,362.7 L1317.3,361.7 L1319.3,360.7 L1321.3,359.7 L1323.3,358.7 L1325.3,357.7 L1327.3,356.7 L1329.3,355.7 L1331.3,354.6 L1333.3,353.6 L1335.3,352.6 L1337.3,351.5 L1339.3,350.5 L1341.3,349.4 L1343.3,348.4 L1345.3,347.3 L1347.3,346.2 L1349.3,345.2 L1351.3,344.1 L1353.3,343.1 L1355.3,342.1 L1357.3,341.1 L1359.3,340.1 L1361.3,339.1 L1363.3,338.1 L1365.3,337.1 L1367.3,336.1 L1369.3,335.1 L1371.3,334.1 L1373.3,333.1 L1375.4,332.1 L1377.4,331.1 L1379.4,330.1 L1381.4,329.2 L1383.4,328.2 L1385.4,327.3 L1387.4,326.4 L1389.4,325.5 L1391.4,324.6 L1393.4,323.7 L1395.4,322.7 L1397.4,321.7 L1399.4,320.7 L1401.4,319.6 L1403.4,318.5 L1405.4,317.4 L1407.4,316.2 L1409.4,315.1 L1411.4,314.0 L1413.4,312.9 L1415.4,311.8 L1417.4,310.7 L1419.4,309.7 L1421.4,308.7 L1423.4,307.7 L1425.4,306.7 L1427.4,305.6 L1429.4,304.6 L1431.4,303.6 L1433.4,302.5 L1435.4,301.4 L1437.4,300.3 L1439.4,299.2 L1441.4,298.1 L1443.4,297.0 L1445.4,296.0 L1447.5,294.9 L1449.5,293.8 L1451.5,292.8 L1453.5,291.7 L1455.5,290.7 L1457.5,289.7 L1459.5,288.7 L1461.5,287.7 L1463.5,286.7 L1465.5,285.7 L1467.5,284.7 L1469.5,283.8 L1471.5,282.8 L1473.5,281.8 L1475.5,280.8 L1477.5,279.8 L1479.5,278.8 L1481.5,277.8 L1483.5,276.8" fill="none" stroke="#0a0ad2" stroke-width="1.8" stroke-linejoin="round"/>
<path d="M1005.7,370.1 L1007.7,370.1 L1009.7,370.0 L1011.7,369.9 L1013.7,369.9 L1015.7,369.8 L1017.7,369.6 L1019.7,369.5 L1021.7,369.3 L1023.7,369.0 L1025.7,368.6 L1027.7,368.2 L1029.7,367.7 L1031.6,367.0 L1033.6,366.3 L1035.6,365.5 L1037.6,364.6 L1039.6,363.6 L1041.6,362.6 L1043.6,361.4 L1045.6,360.2 L1047.6,358.9 L1049.6,357.5 L1051.6,356.1 L1053.6,354.6 L1055.6,353.1 L1057.6,351.5 L1059.6,349.9 L1061.6,348.3 L1063.6,346.6 L1065.6,344.9 L1067.6,343.2 L1069.6,341.5 L1071.6,339.8 L1073.6,338.1 L1075.6,336.4 L1077.6,334.8 L1079.6,333.3 L1081.5,331.8 L1083.5,330.4 L1085.5,329.1 L1087.5,327.9 L1089.5,326.7 L1091.5,325.7 L1093.5,324.8 L1095.5,324.0 L1097.5,323.4 L1099.5,322.8 L1101.5,322.3 L1103.5,322.0 L1105.5,321.8 L1107.5,321.7 L1109.5,321.8 L1111.5,321.9 L1113.5,322.2 L1115.5,322.6 L1117.5,323.2 L1119.5,323.9 L1121.5,324.7 L1123.5,325.6 L1125.5,326.7 L1127.5,327.8 L1129.4,329.1 L1131.4,330.4 L1133.4,331.8 L1135.4,333.3 L1137.4,334.9 L1139.4,336.5 L1141.4,338.1 L1143.4,339.8 L1145.4,341.5 L1147.4,343.3 L1149.4,345.1 L1151.4,346.9 L1153.4,348.7 L1155.4,350.4 L1157.4,352.2 L1159.4,353.9 L1161.4,355.6 L1163.4,357.1 L1165.4,358.6 L1167.4,360.0 L1169.4,361.3 L1171.4,362.4 L1173.4,363.5 L1175.4,364.3 L1177.4,365.1 L1179.3,365.7 L1181.3,366.2 L1183.3,366.5 L1185.3,366.8 L1187.3,367.0 L1189.3,367.0 L1191.3,367.0 L1193.3,366.9 L1195.3,366.8 L1197.3,366.5 L1199.3,366.2 L1201.3,365.8 L1203.3,365.3 L1205.3,364.8 L1207.3,364.1 L1209.3,363.5 L1211.3,362.7 L1213.3,361.8 L1215.3,360.8 L1217.3,359.7 L1219.3,358.4 L1221.3,356.9 L1223.3,355.3 L1225.3,353.6 L1227.3,351.8 L1229.2,350.0 L1231.2,348.3 L1233.2,346.5 L1235.2,344.9 L1237.2,343.3 L1239.2,341.8 L1241.2,340.4 L1243.2,339.0 L1245.2,337.6 L1247.2,336.3 L1249.2,335.0 L1251.2,333.8 L1253.2,332.6 L1255.2,331.4 L1257.2,330.3 L1259.2,329.2 L1261.2,328.2 L1263.2,327.2 L1265.2,326.3 L1267.2,325.4 L1269.2,324.6 L1271.2,323.8 L1273.2,323.1 L1275.2,322.4 L1277.2,321.8 L1279.1,321.2 L1281.1,320.6 L1283.1,320.1 L1285.1,319.6 L1287.1,319.1 L1289.1,318.7 L1291.1,318.3 L1293.1,317.9 L1295.1,317.5 L1297.1,317.2 L1299.1,316.9 L1301.1,316.7 L1303.1,316.4 L1305.1,316.2 L1307.1,316.0 L1309.1,315.8 L1311.1,315.6 L1313.1,315.5 L1315.1,315.4 L1317.1,315.3 L1319.1,315.3 L1321.1,315.2 L1323.1,315.2 L1325.1,315.1 L1327.1,315.1 L1329.0,315.1 L1331.0,315.1 L1333.0,315.1 L1335.0,315.1 L1337.0,315.1 L1339.0,315.1 L1341.0,315.1 L1343.0,315.1 L1345.0,315.1 L1347.0,315.2 L1349.0,315.2 L1351.0,315.2 L1353.0,315.2 L1355.0,315.2 L1357.0,315.2 L1359.0,315.1 L1361.0,315.1 L1363.0,315.0 L1365.0,315.0 L1367.0,314.9 L1369.0,314.8 L1371.0,314.8 L1373.0,314.7 L1375.0,314.7 L1376.9,314.6 L1378.9,314.5 L1380.9,314.5 L1382.9,314.4 L1384.9,314.4 L1386.9,314.3 L1388.9,314.2 L1390.9,314.1 L1392.9,314.0 L1394.9,313.9 L1396.9,313.8 L1398.9,313.6 L1400.9,313.5 L1402.9,313.3 L1404.9,313.0 L1406.9,312.8 L1408.9,312.5 L1410.9,312.2 L1412.9,311.9 L1414.9,311.6 L1416.9,311.2 L1418.9,310.9 L1420.9,310.5 L1422.9,310.2 L1424.9,309.8 L1426.8,309.4 L1428.8,309.0 L1430.8,308.6 L1432.8,308.2 L1434.8,307.8 L1436.8,307.4 L1438.8,306.9 L1440.8,306.5 L1442.8,306.0 L1444.8,305.6 L1446.8,305.1 L1448.8,304.7 L1450.8,304.2 L1450.8,562.0 L1448.8,557.0 L1446.8,552.0 L1444.8,547.0 L1442.8,542.0 L1440.8,537.0 L1438.8,532.0 L1436.8,527.0 L1434.8,522.0 L1432.8,517.1 L1430.8,512.3 L1428.8,507.5 L1426.8,502.9 L1424.9,498.4 L1422.9,494.1 L1420.9,489.9 L1418.9,485.8 L1416.9,481.8 L1414.9,478.0 L1412.9,474.3 L1410.9,470.6 L1408.9,467.1 L1406.9,463.7 L1404.9,460.5 L1402.9,457.4 L1400.9,454.5 L1398.9,451.7 L1396.9,449.1 L1394.9,446.6 L1392.9,444.3 L1390.9,442.0 L1388.9,439.8 L1386.9,437.6 L1384.9,435.5 L1382.9,433.3 L1380.9,431.2 L1378.9,429.1 L1376.9,427.0 L1375.0,424.9 L1373.0,422.9 L1371.0,420.9 L1369.0,419.0 L1367.0,417.2 L1365.0,415.4 L1363.0,413.7 L1361.0,412.0 L1359.0,410.5 L1357.0,409.0 L1355.0,407.6 L1353.0,406.3 L1351.0,405.0 L1349.0,403.9 L1347.0,402.8 L1345.0,401.9 L1343.0,401.0 L1341.0,400.2 L1339.0,399.5 L1337.0,398.8 L1335.0,398.2 L1333.0,397.6 L1331.0,397.1 L1329.0,396.7 L1327.1,396.3 L1325.1,395.9 L1323.1,395.6 L1321.1,395.3 L1319.1,395.1 L1317.1,394.9 L1315.1,394.8 L1313.1,394.7 L1311.1,394.6 L1309.1,394.6 L1307.1,394.6 L1305.1,394.6 L1303.1,394.7 L1301.1,394.8 L1299.1,394.9 L1297.1,395.1 L1295.1,395.3 L1293.1,395.5 L1291.1,395.8 L1289.1,396.1 L1287.1,396.4 L1285.1,396.8 L1283.1,397.1 L1281.1,397.5 L1279.1,398.0 L1277.2,398.4 L1275.2,398.8 L1273.2,399.3 L1271.2,399.8 L1269.2,400.4 L1267.2,400.9 L1265.2,401.5 L1263.2,402.2 L1261.2,402.9 L1259.2,403.6 L1257.2,404.3 L1255.2,405.1 L1253.2,405.8 L1251.2,406.7 L1249.2,407.5 L1247.2,408.5 L1245.2,409.4 L1243.2,410.5 L1241.2,411.6 L1239.2,412.9 L1237.2,414.1 L1235.2,415.5 L1233.2,416.8 L1231.2,418.2 L1229.2,419.6 L1227.3,420.9 L1225.3,422.2 L1223.3,423.4 L1221.3,424.5 L1219.3,425.5 L1217.3,426.4 L1215.3,427.2 L1213.3,428.0 L1211.3,428.7 L1209.3,429.3 L1207.3,429.9 L1205.3,430.4 L1203.3,430.9 L1201.3,431.4 L1199.3,431.8 L1197.3,432.1 L1195.3,432.4 L1193.3,432.6 L1191.3,432.8 L1189.3,432.9 L1187.3,432.8 L1185.3,432.7 L1183.3,432.5 L1181.3,432.1 L1179.3,431.5 L1177.4,430.8 L1175.4,429.7 L1173.4,428.4 L1171.4,426.9 L1169.4,425.0 L1167.4,423.0 L1165.4,420.7 L1163.4,418.3 L1161.4,415.9 L1159.4,413.4 L1157.4,411.0 L1155.4,408.8 L1153.4,406.6 L1151.4,404.6 L1149.4,402.8 L1147.4,401.1 L1145.4,399.4 L1143.4,397.9 L1141.4,396.3 L1139.4,394.8 L1137.4,393.3 L1135.4,391.9 L1133.4,390.4 L1131.4,389.1 L1129.4,387.8 L1127.5,386.7 L1125.5,385.6 L1123.5,384.7 L1121.5,383.8 L1119.5,383.1 L1117.5,382.6 L1115.5,382.1 L1113.5,381.8 L1111.5,381.6 L1109.5,381.5 L1107.5,381.6 L1105.5,381.8 L1103.5,382.2 L1101.5,382.7 L1099.5,383.3 L1097.5,384.2 L1095.5,385.2 L1093.5,386.3 L1091.5,387.6 L1089.5,389.0 L1087.5,390.6 L1085.5,392.3 L1083.5,394.1 L1081.5,395.9 L1079.6,397.9 L1077.6,399.8 L1075.6,401.8 L1073.6,403.8 L1071.6,405.7 L1069.6,407.6 L1067.6,409.5 L1065.6,411.3 L1063.6,413.0 L1061.6,414.7 L1059.6,416.4 L1057.6,418.0 L1055.6,419.8 L1053.6,421.7 L1051.6,423.7 L1049.6,426.0 L1047.6,428.5 L1045.6,431.3 L1043.6,434.4 L1041.6,437.7 L1039.6,441.3 L1037.6,445.1 L1035.6,449.1 L1033.6,453.4 L1031.6,457.8 L1029.7,462.3 L1027.7,467.0 L1025.7,471.8 L1023.7,476.7 L1021.7,481.7 L1019.7,486.8 L1017.7,492.0 L1015.7,497.2 L1013.7,502.6 L1011.7,507.9 L1009.7,513.3 L1007.7,518.7 L1005.7,524.1Z" fill="#d00808" fill-opacity="0.4" stroke="none"/>
<path d="M1005.7,446.4 L1007.7,443.7 L1009.7,441.0 L1011.7,438.4 L1013.7,435.7 L1015.7,433.2 L1017.7,430.7 L1019.7,428.2 L1021.7,425.7 L1023.7,423.3 L1025.7,420.8 L1027.7,418.4 L1029.7,416.0 L1031.6,413.5 L1033.6,411.1 L1035.6,408.7 L1037.6,406.2 L1039.6,403.8 L1041.6,401.4 L1043.6,399.0 L1045.6,396.6 L1047.6,394.2 L1049.6,391.8 L1051.6,389.4 L1053.6,387.1 L1055.6,384.7 L1057.6,382.5 L1059.6,380.3 L1061.6,378.1 L1063.6,376.0 L1065.6,373.9 L1067.6,371.9 L1069.6,370.0 L1071.6,368.1 L1073.6,366.3 L1075.6,364.6 L1077.6,363.0 L1079.6,361.4 L1081.5,360.0 L1083.5,358.6 L1085.5,357.3 L1087.5,356.1 L1089.5,355.1 L1091.5,354.1 L1093.5,353.3 L1095.5,352.6 L1097.5,352.1 L1099.5,351.6 L1101.5,351.3 L1103.5,351.1 L1105.5,351.0 L1107.5,351.0 L1109.5,351.1 L1111.5,351.2 L1113.5,351.5 L1115.5,351.9 L1117.5,352.5 L1119.5,353.1 L1121.5,353.8 L1123.5,354.7 L1125.5,355.6 L1127.5,356.7 L1129.4,357.9 L1131.4,359.2 L1133.4,360.6 L1135.4,362.1 L1137.4,363.6 L1139.4,365.3 L1141.4,367.0 L1143.4,368.7 L1145.4,370.6 L1147.4,372.4 L1149.4,374.3 L1151.4,376.3 L1153.4,378.2 L1155.4,380.2 L1157.4,382.1 L1159.4,384.0 L1161.4,385.9 L1163.4,387.7 L1165.4,389.4 L1167.4,390.9 L1169.4,392.4 L1171.4,393.7 L1173.4,394.8 L1175.4,395.7 L1177.4,396.5 L1179.3,397.1 L1181.3,397.5 L1183.3,397.9 L1185.3,398.1 L1187.3,398.2 L1189.3,398.2 L1191.3,398.2 L1193.3,398.0 L1195.3,397.8 L1197.3,397.5 L1199.3,397.1 L1201.3,396.7 L1203.3,396.1 L1205.3,395.5 L1207.3,394.9 L1209.3,394.2 L1211.3,393.4 L1213.3,392.6 L1215.3,391.8 L1217.3,390.9 L1219.3,390.0 L1221.3,389.1 L1223.3,388.0 L1225.3,386.9 L1227.3,385.8 L1229.2,384.6 L1231.2,383.4 L1233.2,382.1 L1235.2,380.8 L1237.2,379.4 L1239.2,378.1 L1241.2,376.8 L1243.2,375.5 L1245.2,374.2 L1247.2,373.0 L1249.2,371.8 L1251.2,370.7 L1253.2,369.6 L1255.2,368.5 L1257.2,367.6 L1259.2,366.7 L1261.2,365.8 L1263.2,365.0 L1265.2,364.2 L1267.2,363.4 L1269.2,362.7 L1271.2,361.9 L1273.2,361.3 L1275.2,360.6 L1277.2,360.0 L1279.1,359.3 L1281.1,358.8 L1283.1,358.2 L1285.1,357.7 L1287.1,357.3 L1289.1,356.8 L1291.1,356.5 L1293.1,356.1 L1295.1,355.8 L1297.1,355.6 L1299.1,355.4 L1301.1,355.2 L1303.1,355.0 L1305.1,354.9 L1307.1,354.9 L1309.1,354.8 L1311.1,354.8 L1313.1,354.8 L1315.1,354.8 L1317.1,354.8 L1319.1,354.9 L1321.1,355.0 L1323.1,355.2 L1325.1,355.3 L1327.1,355.5 L1329.0,355.8 L1331.0,356.0 L1333.0,356.3 L1335.0,356.7 L1337.0,357.1 L1339.0,357.5 L1341.0,357.9 L1343.0,358.4 L1345.0,358.9 L1347.0,359.4 L1349.0,359.9 L1351.0,360.5 L1353.0,361.1 L1355.0,361.7 L1357.0,362.3 L1359.0,363.0 L1361.0,363.7 L1363.0,364.4 L1365.0,365.2 L1367.0,366.0 L1369.0,366.8 L1371.0,367.7 L1373.0,368.7 L1375.0,369.7 L1376.9,370.8 L1378.9,372.0 L1380.9,373.2 L1382.9,374.4 L1384.9,375.6 L1386.9,376.9 L1388.9,378.2 L1390.9,379.6 L1392.9,380.9 L1394.9,382.3 L1396.9,383.7 L1398.9,385.2 L1400.9,386.7 L1402.9,388.1 L1404.9,389.7 L1406.9,391.2 L1408.9,392.7 L1410.9,394.3 L1412.9,395.8 L1414.9,397.4 L1416.9,399.0 L1418.9,400.7 L1420.9,402.4 L1422.9,404.1 L1424.9,405.9 L1426.8,407.8 L1428.8,409.6 L1430.8,411.6 L1432.8,413.5 L1434.8,415.5 L1436.8,417.6 L1438.8,419.7 L1440.8,421.8 L1442.8,423.9 L1444.8,426.1 L1446.8,428.3 L1448.8,430.6 L1450.8,432.8" fill="none" stroke="#e00000" stroke-width="1.9" stroke-linejoin="round"/>
</g>
<path d="M972.5,39 L972.5,590 L1510.2,590" fill="none" stroke="#000" stroke-width="2"/>
<path d="M963.5,50.5 L972.5,50.5" stroke="#000" stroke-width="1.8"/>
<text transform="translate(953.9 63.1) scale(1 1.055)" font-size="32.3" text-anchor="end" font-weight="normal" stroke="#000" stroke-width="0.3">0.4</text>
<path d="M963.5,179 L972.5,179" stroke="#000" stroke-width="1.8"/>
<text transform="translate(953.9 191.6) scale(1 1.055)" font-size="32.3" text-anchor="end" font-weight="normal" stroke="#000" stroke-width="0.3">0.3</text>
<path d="M963.5,307.5 L972.5,307.5" stroke="#000" stroke-width="1.8"/>
<text transform="translate(953.9 320.1) scale(1 1.055)" font-size="32.3" text-anchor="end" font-weight="normal" stroke="#000" stroke-width="0.3">0.2</text>
<path d="M963.5,436 L972.5,436" stroke="#000" stroke-width="1.8"/>
<text transform="translate(953.9 448.6) scale(1 1.055)" font-size="32.3" text-anchor="end" font-weight="normal" stroke="#000" stroke-width="0.3">0.1</text>
<path d="M963.5,564.5 L972.5,564.5" stroke="#000" stroke-width="1.8"/>
<text transform="translate(953.9 577.1) scale(1 1.055)" font-size="32.3" text-anchor="end" font-weight="normal" stroke="#000" stroke-width="0.3">0.0</text>
<path d="M1031,590 L1031,599" stroke="#000" stroke-width="1.8"/>
<text transform="translate(1031 625.8) scale(1 1.055)" font-size="32.3" text-anchor="middle" font-weight="normal" stroke="#000" stroke-width="0.3">20</text>
<path d="M1182.5,590 L1182.5,599" stroke="#000" stroke-width="1.8"/>
<text transform="translate(1182.5 625.8) scale(1 1.055)" font-size="32.3" text-anchor="middle" font-weight="normal" stroke="#000" stroke-width="0.3">30</text>
<path d="M1334.2,590 L1334.2,599" stroke="#000" stroke-width="1.8"/>
<text transform="translate(1334.2 625.8) scale(1 1.055)" font-size="32.3" text-anchor="middle" font-weight="normal" stroke="#000" stroke-width="0.3">40</text>
<path d="M1485.7,590 L1485.7,599" stroke="#000" stroke-width="1.8"/>
<text transform="translate(1485.7 625.8) scale(1 1.055)" font-size="32.3" text-anchor="middle" font-weight="normal" stroke="#000" stroke-width="0.3">50</text>
<text transform="translate(1248.5 26.4) scale(1 1.055)" font-size="32.5" text-anchor="middle" font-weight="bold" stroke="#000" stroke-width="0.2">2778.944 m/z</text>
<text transform="translate(804 33.099999999999994) scale(1 1.055)" font-size="41.5" text-anchor="start" font-weight="normal" stroke="#000" stroke-width="0.3">b</text>
<text transform="translate(1241 663) scale(1 1.055)" font-size="32.3" text-anchor="middle" font-weight="normal" stroke="#000" stroke-width="0.3">BMI</text>
<text transform="translate(899.5 309) rotate(-90) scale(1 1.055)" font-size="32.6" text-anchor="middle" font-weight="normal" stroke="#000" stroke-width="0.3">Relative Intensity (%)</text>
<g clip-path="url(#clipc)">
<g fill="#cc0a0a">
<circle cx="351.2" cy="783.9" r="2.5"/>
<circle cx="261.4" cy="823.2" r="2.5"/>
<circle cx="341.2" cy="877.0" r="2.5"/>
<circle cx="293.7" cy="898.2" r="2.5"/>
<circle cx="315.8" cy="903.2" r="2.5"/>
<circle cx="322.8" cy="942.6" r="2.5"/>
<circle cx="336.9" cy="948.6" r="2.5"/>
<circle cx="336.9" cy="951.8" r="2.5"/>
<circle cx="421.1" cy="948.6" r="2.5"/>
<circle cx="372.5" cy="965.9" r="2.5"/>
<circle cx="400.9" cy="976.0" r="2.5"/>
<circle cx="426.1" cy="976.8" r="2.5"/>
<circle cx="318.9" cy="982.9" r="2.5"/>
<circle cx="351.2" cy="981.9" r="2.5"/>
<circle cx="464.5" cy="987.0" r="2.5"/>
<circle cx="338.5" cy="994.1" r="2.5"/>
<circle cx="464.5" cy="998.2" r="2.5"/>
<circle cx="405.0" cy="1007.4" r="2.5"/>
<circle cx="441.4" cy="1011.3" r="2.5"/>
<circle cx="348.1" cy="1010.3" r="2.5"/>
<circle cx="320.9" cy="1015.4" r="2.5"/>
<circle cx="388.8" cy="1026.3" r="2.5"/>
<circle cx="467.6" cy="1031.6" r="2.5"/>
<circle cx="575.4" cy="971.0" r="2.5"/>
<circle cx="528.0" cy="988.0" r="2.5"/>
<circle cx="523.0" cy="1000.1" r="2.5"/>
<circle cx="343.9" cy="1041.4" r="2.5"/>
<circle cx="467.6" cy="1034.3" r="2.5"/>
<circle cx="469.6" cy="1042.4" r="2.5"/>
<circle cx="366.3" cy="1048.6" r="2.5"/>
<circle cx="386.8" cy="1046.7" r="2.5"/>
<circle cx="406.0" cy="1044.7" r="2.5"/>
<circle cx="411.1" cy="1041.4" r="2.5"/>
<circle cx="421.2" cy="1052.5" r="2.5"/>
<circle cx="437.3" cy="1052.5" r="2.5"/>
<circle cx="468.6" cy="1054.7" r="2.5"/>
<circle cx="320.9" cy="1061.0" r="2.5"/>
<circle cx="369.4" cy="1063.9" r="2.5"/>
<circle cx="381.5" cy="1066.8" r="2.5"/>
<circle cx="474.7" cy="1066.8" r="2.5"/>
<circle cx="412.1" cy="1069.8" r="2.5"/>
<circle cx="417.1" cy="1072.1" r="2.5"/>
<circle cx="460.4" cy="1100.3" r="2.5"/>
<circle cx="448.5" cy="1104.4" r="2.5"/>
<circle cx="451.6" cy="1100.3" r="2.5"/>
<circle cx="465.7" cy="1106.4" r="2.5"/>
<circle cx="367.4" cy="1108.3" r="2.5"/>
<circle cx="403.0" cy="1108.3" r="2.5"/>
<circle cx="429.3" cy="1112.2" r="2.5"/>
<circle cx="460.6" cy="1110.5" r="2.5"/>
<circle cx="434.4" cy="1118.3" r="2.5"/>
<circle cx="424.2" cy="1119.5" r="2.5"/>
<circle cx="405.0" cy="1121.6" r="2.5"/>
<circle cx="450.4" cy="1124.6" r="2.5"/>
<circle cx="463.7" cy="1126.5" r="2.5"/>
<circle cx="473.9" cy="1125.5" r="2.5"/>
<circle cx="188.8" cy="1131.8" r="2.5"/>
<circle cx="415.2" cy="1138.7" r="2.5"/>
<circle cx="421.2" cy="1170.2" r="2.5"/>
<circle cx="461.6" cy="1191.3" r="2.5"/>
<circle cx="470.8" cy="1198.3" r="2.5"/>
<circle cx="456.5" cy="1200.3" r="2.5"/>
<circle cx="525.9" cy="1049.6" r="2.5"/>
<circle cx="488.5" cy="1068.8" r="2.5"/>
<circle cx="485.6" cy="1079.9" r="2.5"/>
<circle cx="603.8" cy="1073.9" r="2.5"/>
<circle cx="502.6" cy="1086.0" r="2.5"/>
<circle cx="479.5" cy="1089.1" r="2.5"/>
<circle cx="493.6" cy="1099.1" r="2.5"/>
<circle cx="512.8" cy="1106.4" r="2.5"/>
<circle cx="525.9" cy="1107.3" r="2.5"/>
<circle cx="524.9" cy="1112.2" r="2.5"/>
<circle cx="572.5" cy="1112.2" r="2.5"/>
<circle cx="664.6" cy="1114.4" r="2.5"/>
<circle cx="722.2" cy="1115.6" r="2.5"/>
<circle cx="519.8" cy="1127.5" r="2.5"/>
<circle cx="541.2" cy="1130.6" r="2.5"/>
<circle cx="553.3" cy="1134.5" r="2.5"/>
<circle cx="491.6" cy="1143.7" r="2.5"/>
<circle cx="511.8" cy="1154.9" r="2.5"/>
<circle cx="525.9" cy="1153.7" r="2.5"/>
<circle cx="494.6" cy="1163.9" r="2.5"/>
<circle cx="573.4" cy="1171.1" r="2.5"/>
<circle cx="488.5" cy="1174.1" r="2.5"/>
<circle cx="613.0" cy="1186.2" r="2.5"/>
<circle cx="522.0" cy="1190.1" r="2.5"/>
<circle cx="530.0" cy="1194.2" r="2.5"/>
<circle cx="502.6" cy="1196.4" r="2.5"/>
<circle cx="550.2" cy="1204.4" r="2.5"/>
<circle cx="551.1" cy="1207.5" r="2.5"/>
<circle cx="613.9" cy="1210.5" r="2.5"/>
<circle cx="631.2" cy="1211.5" r="2.5"/>
<circle cx="529.0" cy="1229.7" r="2.5"/>
<circle cx="531.0" cy="1235.7" r="2.5"/>
<circle cx="587.5" cy="1247.9" r="2.5"/>
<circle cx="606.9" cy="1291.5" r="2.5"/>
</g>
<path d="M180.8,810.5 L182.8,812.7 L184.8,814.9 L186.8,817.1 L188.8,819.4 L190.8,821.6 L192.8,823.8 L194.8,826.0 L196.8,828.2 L198.8,830.5 L200.8,832.7 L202.8,834.9 L204.8,837.1 L206.8,839.3 L208.8,841.5 L210.8,843.7 L212.8,845.9 L214.8,848.1 L216.8,850.2 L218.8,852.3 L220.8,854.4 L222.8,856.5 L224.8,858.6 L226.8,860.6 L228.8,862.6 L230.8,864.6 L232.8,866.6 L234.8,868.5 L236.8,870.4 L238.8,872.3 L240.8,874.2 L242.8,876.0 L244.8,877.9 L246.8,879.7 L248.8,881.5 L250.8,883.3 L252.8,885.1 L254.8,886.9 L256.8,888.7 L258.8,890.5 L260.8,892.3 L262.8,894.1 L264.8,895.9 L266.8,897.7 L268.8,899.5 L270.8,901.3 L272.8,903.0 L274.8,904.8 L276.8,906.5 L278.8,908.2 L280.8,909.9 L282.8,911.6 L284.8,913.4 L286.8,915.1 L288.8,916.9 L290.8,918.8 L292.8,920.6 L294.8,922.5 L296.8,924.4 L298.8,926.2 L300.8,928.1 L302.8,929.9 L304.8,931.8 L306.8,933.6 L308.8,935.5 L310.8,937.4 L312.8,939.3 L314.8,941.3 L316.8,943.4 L318.8,945.6 L320.8,947.9 L322.8,950.3 L324.8,952.7 L326.8,955.3 L328.8,957.8 L330.8,960.4 L332.8,963.0 L334.8,965.6 L336.8,968.1 L338.8,970.7 L340.8,973.2 L342.8,975.7 L344.8,978.2 L346.8,980.6 L348.8,982.9 L350.8,985.2 L352.8,987.5 L354.8,989.7 L356.8,991.8 L358.8,993.9 L360.8,996.0 L362.8,998.0 L364.8,1000.1 L366.8,1002.1 L368.8,1004.1 L370.8,1006.0 L372.8,1008.0 L374.8,1009.9 L376.8,1011.8 L378.8,1013.7 L380.8,1015.6 L382.8,1017.4 L384.8,1019.2 L386.8,1021.1 L388.8,1022.9 L390.8,1024.7 L392.8,1026.5 L394.8,1028.2 L396.8,1030.0 L398.8,1031.8 L400.8,1033.6 L402.8,1035.4 L404.8,1037.2 L406.8,1039.0 L408.8,1040.7 L410.8,1042.4 L412.8,1044.2 L414.8,1045.8 L416.8,1047.5 L418.8,1049.1 L420.8,1050.8 L422.8,1052.4 L424.8,1054.0 L426.8,1055.6 L428.8,1057.2 L430.8,1058.7 L432.8,1060.3 L434.7,1061.8 L436.7,1063.3 L438.7,1064.8 L440.7,1066.2 L442.7,1067.6 L444.7,1069.1 L446.7,1070.5 L448.7,1071.9 L450.7,1073.3 L452.7,1074.7 L454.7,1076.1 L456.7,1077.6 L458.7,1079.0 L460.7,1080.5 L462.7,1081.9 L464.7,1083.3 L466.7,1084.6 L468.7,1086.0 L470.7,1087.2 L472.7,1088.4 L474.7,1089.5 L476.7,1090.7 L478.7,1091.7 L480.7,1092.8 L482.7,1093.8 L484.7,1094.8 L486.7,1095.9 L488.7,1096.9 L490.7,1097.9 L492.7,1098.9 L494.7,1100.0 L496.7,1101.0 L498.7,1102.0 L500.7,1103.0 L502.7,1104.1 L504.7,1105.1 L506.7,1106.1 L508.7,1107.1 L510.7,1108.1 L512.7,1109.0 L514.7,1110.0 L516.7,1110.9 L518.7,1111.8 L520.7,1112.7 L522.7,1113.5 L524.7,1114.3 L526.7,1115.1 L528.7,1115.8 L530.7,1116.4 L532.7,1117.1 L534.7,1117.7 L536.7,1118.2 L538.7,1118.8 L540.7,1119.3 L542.7,1119.8 L544.7,1120.2 L546.7,1120.6 L548.7,1120.9 L550.7,1121.2 L552.7,1121.4 L554.7,1121.6 L556.7,1121.7 L558.7,1121.8 L560.7,1121.8 L562.7,1121.8 L564.7,1121.8 L566.7,1121.7 L568.7,1121.6 L570.7,1121.4 L572.7,1121.2 L574.7,1120.9 L576.7,1120.6 L578.7,1120.2 L580.7,1119.8 L582.7,1119.4 L584.7,1118.9 L586.7,1118.4 L588.7,1117.8 L590.7,1117.2 L592.7,1116.6 L594.7,1116.0 L596.7,1115.3 L598.7,1114.6 L600.7,1113.8 L602.7,1113.0 L604.7,1112.2 L606.7,1111.4 L608.7,1110.5 L610.7,1109.6 L612.7,1108.6 L614.7,1107.6 L616.7,1106.5 L618.7,1105.3 L620.7,1104.2 L622.7,1102.9 L624.7,1101.6 L626.7,1100.3 L628.7,1098.9 L630.7,1097.5 L632.7,1096.0 L634.7,1094.4 L636.7,1092.8 L638.7,1091.1 L640.7,1089.3 L642.7,1087.5 L644.7,1085.6 L646.7,1083.7 L648.7,1081.6 L650.7,1079.5 L652.7,1077.4 L654.7,1075.1 L656.7,1072.8 L658.7,1070.4 L660.7,1067.9 L662.7,1065.4 L664.7,1062.7 L666.7,1060.0 L668.7,1057.1 L670.7,1054.1 L672.7,1051.1 L674.7,1047.8 L676.7,1044.4 L678.7,1040.9 L680.7,1037.1 L682.7,1033.2 L684.7,1029.3 L686.7,1025.2 L686.8,1213.5 L684.8,1212.2 L682.8,1210.9 L680.8,1209.7 L678.8,1208.4 L676.8,1207.1 L674.8,1205.9 L672.8,1204.7 L670.8,1203.5 L668.8,1202.3 L666.8,1201.1 L664.8,1200.0 L662.8,1198.8 L660.8,1197.7 L658.8,1196.7 L656.8,1195.6 L654.8,1194.6 L652.8,1193.6 L650.8,1192.7 L648.8,1191.7 L646.8,1190.8 L644.8,1190.0 L642.8,1189.2 L640.8,1188.4 L638.8,1187.6 L636.8,1186.9 L634.8,1186.2 L632.8,1185.5 L630.8,1184.9 L628.8,1184.3 L626.8,1183.7 L624.8,1183.2 L622.8,1182.7 L620.8,1182.2 L618.8,1181.8 L616.8,1181.3 L614.8,1180.9 L612.8,1180.5 L610.8,1180.2 L608.8,1179.8 L606.8,1179.5 L604.8,1179.1 L602.8,1178.8 L600.8,1178.4 L598.8,1178.1 L596.8,1177.8 L594.8,1177.5 L592.8,1177.2 L590.8,1176.9 L588.8,1176.7 L586.8,1176.4 L584.8,1176.2 L582.8,1176.0 L580.8,1175.8 L578.8,1175.6 L576.8,1175.4 L574.8,1175.1 L572.8,1174.9 L570.8,1174.7 L568.8,1174.5 L566.8,1174.3 L564.8,1174.0 L562.8,1173.8 L560.8,1173.5 L558.8,1173.2 L556.8,1172.9 L554.8,1172.6 L552.8,1172.2 L550.8,1171.9 L548.8,1171.5 L546.8,1171.0 L544.8,1170.6 L542.8,1170.0 L540.8,1169.5 L538.8,1168.8 L536.8,1168.1 L534.8,1167.4 L532.8,1166.6 L530.8,1165.8 L528.8,1164.9 L526.8,1164.0 L524.8,1163.1 L522.8,1162.1 L520.8,1161.1 L518.8,1160.1 L516.8,1159.1 L514.8,1158.1 L512.8,1157.1 L510.8,1156.1 L508.8,1155.1 L506.8,1154.1 L504.8,1153.1 L502.8,1152.1 L500.8,1151.1 L498.8,1150.1 L496.8,1149.1 L494.8,1148.1 L492.8,1147.0 L490.8,1145.9 L488.8,1144.8 L486.8,1143.6 L484.8,1142.4 L482.8,1141.2 L480.8,1140.0 L478.8,1138.7 L476.8,1137.4 L474.8,1136.1 L472.8,1134.8 L470.8,1133.5 L468.8,1132.2 L466.8,1130.9 L464.8,1129.6 L462.8,1128.3 L460.8,1127.0 L458.8,1125.7 L456.8,1124.3 L454.8,1123.0 L452.8,1121.6 L450.8,1120.2 L448.8,1118.7 L446.8,1117.3 L444.8,1115.7 L442.8,1114.2 L440.8,1112.6 L438.8,1111.1 L436.8,1109.5 L434.8,1107.9 L432.8,1106.3 L430.8,1104.6 L428.8,1103.0 L426.8,1101.3 L424.8,1099.6 L422.8,1097.9 L420.8,1096.2 L418.8,1094.4 L416.8,1092.6 L414.8,1090.8 L412.8,1089.0 L410.8,1087.1 L408.8,1085.2 L406.8,1083.3 L404.8,1081.4 L402.8,1079.5 L400.8,1077.6 L398.8,1075.6 L396.8,1073.7 L394.8,1071.7 L392.8,1069.7 L390.8,1067.6 L388.8,1065.6 L386.8,1063.6 L384.8,1061.5 L382.8,1059.4 L380.8,1057.4 L378.8,1055.3 L376.8,1053.3 L374.8,1051.2 L372.8,1049.2 L370.8,1047.2 L368.8,1045.1 L366.8,1043.1 L364.8,1041.1 L362.8,1039.1 L360.8,1037.1 L358.8,1035.1 L356.8,1033.1 L354.8,1031.1 L352.8,1029.1 L350.8,1027.1 L348.8,1025.1 L346.8,1023.1 L344.8,1021.1 L342.8,1019.1 L340.8,1017.1 L338.8,1015.1 L336.8,1013.2 L334.8,1011.4 L332.8,1009.7 L330.8,1008.2 L328.8,1006.7 L326.8,1005.4 L324.8,1004.2 L322.8,1003.1 L320.8,1002.1 L318.8,1001.0 L316.8,1000.0 L314.8,999.0 L312.8,997.9 L310.8,996.9 L308.8,995.9 L306.8,994.9 L304.8,993.9 L302.8,993.0 L300.8,992.1 L298.8,991.3 L296.8,990.5 L294.8,989.7 L292.8,988.9 L290.8,988.1 L288.8,987.4 L286.8,986.7 L284.8,986.0 L282.8,985.4 L280.8,984.8 L278.8,984.3 L276.8,983.8 L274.8,983.3 L272.8,982.9 L270.8,982.6 L268.8,982.3 L266.8,982.1 L264.8,981.9 L262.8,981.8 L260.8,981.8 L258.8,981.9 L256.8,982.0 L254.8,982.1 L252.8,982.4 L250.8,982.7 L248.8,983.1 L246.8,983.5 L244.8,984.0 L242.8,984.6 L240.8,985.2 L238.8,985.9 L236.8,986.6 L234.8,987.4 L232.8,988.2 L230.8,989.1 L228.8,990.0 L226.8,991.1 L224.8,992.2 L222.8,993.3 L220.8,994.5 L218.8,995.8 L216.8,997.1 L214.8,998.5 L212.8,1000.0 L210.8,1001.5 L208.8,1003.1 L206.8,1004.8 L204.8,1006.6 L202.8,1008.5 L200.8,1010.5 L198.8,1012.7 L196.8,1014.9 L194.8,1017.3 L192.8,1019.7 L190.8,1022.3 L188.8,1024.9 L186.8,1027.5 L184.8,1030.2 L182.8,1032.9 L180.8,1035.6Z" fill="#0f4b8a" fill-opacity="0.4" stroke="none"/>
<g fill="#0505c8">
<circle cx="188.8" cy="825.6" r="2.5"/>
<circle cx="322.0" cy="788.0" r="2.5"/>
<circle cx="291.7" cy="819.3" r="2.5"/>
<circle cx="368.6" cy="818.1" r="2.5"/>
<circle cx="263.5" cy="843.6" r="2.5"/>
<circle cx="383.7" cy="836.5" r="2.5"/>
<circle cx="382.7" cy="857.5" r="2.5"/>
<circle cx="341.2" cy="863.7" r="2.5"/>
<circle cx="332.8" cy="881.9" r="2.5"/>
<circle cx="316.7" cy="899.1" r="2.5"/>
<circle cx="462.7" cy="890.9" r="2.5"/>
<circle cx="444.1" cy="901.1" r="2.5"/>
<circle cx="397.8" cy="909.3" r="2.5"/>
<circle cx="425.2" cy="915.4" r="2.5"/>
<circle cx="468.6" cy="920.5" r="2.5"/>
<circle cx="318.9" cy="922.4" r="2.5"/>
<circle cx="317.9" cy="928.5" r="2.5"/>
<circle cx="350.2" cy="928.5" r="2.5"/>
<circle cx="334.0" cy="931.6" r="2.5"/>
<circle cx="399.3" cy="925.4" r="2.5"/>
<circle cx="403.0" cy="927.7" r="2.5"/>
<circle cx="346.1" cy="938.5" r="2.5"/>
<circle cx="354.1" cy="941.6" r="2.5"/>
<circle cx="312.6" cy="941.6" r="2.5"/>
<circle cx="319.9" cy="944.5" r="2.5"/>
<circle cx="459.4" cy="942.6" r="2.5"/>
<circle cx="343.9" cy="949.4" r="2.5"/>
<circle cx="434.4" cy="948.6" r="2.5"/>
<circle cx="367.4" cy="958.8" r="2.5"/>
<circle cx="355.3" cy="966.8" r="2.5"/>
<circle cx="382.7" cy="972.9" r="2.5"/>
<circle cx="423.2" cy="976.8" r="2.5"/>
<circle cx="260.4" cy="981.1" r="2.5"/>
<circle cx="398.7" cy="986.0" r="2.5"/>
<circle cx="397.8" cy="994.1" r="2.5"/>
<circle cx="385.6" cy="995.2" r="2.5"/>
<circle cx="431.2" cy="997.2" r="2.5"/>
<circle cx="400.9" cy="1000.1" r="2.5"/>
<circle cx="477.6" cy="996.2" r="2.5"/>
<circle cx="382.7" cy="1005.2" r="2.5"/>
<circle cx="349.0" cy="1005.2" r="2.5"/>
<circle cx="316.7" cy="1011.3" r="2.5"/>
<circle cx="445.5" cy="1012.4" r="2.5"/>
<circle cx="382.7" cy="1015.4" r="2.5"/>
<circle cx="314.8" cy="1021.3" r="2.5"/>
<circle cx="343.0" cy="1020.3" r="2.5"/>
<circle cx="422.2" cy="1021.3" r="2.5"/>
<circle cx="449.4" cy="1022.4" r="2.5"/>
<circle cx="459.4" cy="1021.3" r="2.5"/>
<circle cx="368.6" cy="1020.3" r="2.5"/>
<circle cx="315.8" cy="1026.3" r="2.5"/>
<circle cx="358.4" cy="1030.1" r="2.5"/>
<circle cx="367.4" cy="1031.0" r="2.5"/>
<circle cx="627.1" cy="948.6" r="2.5"/>
<circle cx="535.1" cy="969.0" r="2.5"/>
<circle cx="493.6" cy="988.0" r="2.5"/>
<circle cx="479.5" cy="996.2" r="2.5"/>
<circle cx="571.5" cy="1011.3" r="2.5"/>
<circle cx="482.4" cy="1025.4" r="2.5"/>
<circle cx="181.5" cy="1053.9" r="2.5"/>
<circle cx="349.0" cy="1036.3" r="2.5"/>
<circle cx="465.7" cy="1037.5" r="2.5"/>
<circle cx="382.5" cy="1045.7" r="2.5"/>
<circle cx="412.2" cy="1043.7" r="2.5"/>
<circle cx="436.3" cy="1055.9" r="2.5"/>
<circle cx="447.5" cy="1061.0" r="2.5"/>
<circle cx="461.6" cy="1066.8" r="2.5"/>
<circle cx="472.7" cy="1068.8" r="2.5"/>
<circle cx="467.6" cy="1071.1" r="2.5"/>
<circle cx="425.2" cy="1062.9" r="2.5"/>
<circle cx="436.3" cy="1066.8" r="2.5"/>
<circle cx="449.4" cy="1069.8" r="2.5"/>
<circle cx="400.9" cy="1069.8" r="2.5"/>
<circle cx="414.2" cy="1072.1" r="2.5"/>
<circle cx="416.2" cy="1078.2" r="2.5"/>
<circle cx="422.2" cy="1077.0" r="2.5"/>
<circle cx="367.4" cy="1074.1" r="2.5"/>
<circle cx="472.7" cy="1088.4" r="2.5"/>
<circle cx="337.9" cy="1086.2" r="2.5"/>
<circle cx="341.0" cy="1094.2" r="2.5"/>
<circle cx="412.1" cy="1093.3" r="2.5"/>
<circle cx="422.2" cy="1095.6" r="2.5"/>
<circle cx="429.3" cy="1097.2" r="2.5"/>
<circle cx="444.3" cy="1094.2" r="2.5"/>
<circle cx="445.5" cy="1100.3" r="2.5"/>
<circle cx="470.8" cy="1097.2" r="2.5"/>
<circle cx="361.2" cy="1098.3" r="2.5"/>
<circle cx="409.1" cy="1098.3" r="2.5"/>
<circle cx="421.2" cy="1105.4" r="2.5"/>
<circle cx="424.2" cy="1106.4" r="2.5"/>
<circle cx="439.4" cy="1107.3" r="2.5"/>
<circle cx="343.0" cy="1112.2" r="2.5"/>
<circle cx="452.6" cy="1114.4" r="2.5"/>
<circle cx="416.2" cy="1115.6" r="2.5"/>
<circle cx="421.2" cy="1120.5" r="2.5"/>
<circle cx="437.3" cy="1121.6" r="2.5"/>
<circle cx="384.8" cy="1122.6" r="2.5"/>
<circle cx="413.0" cy="1125.5" r="2.5"/>
<circle cx="420.3" cy="1130.6" r="2.5"/>
<circle cx="409.1" cy="1133.6" r="2.5"/>
<circle cx="407.0" cy="1140.6" r="2.5"/>
<circle cx="408.1" cy="1147.9" r="2.5"/>
<circle cx="338.9" cy="1147.9" r="2.5"/>
<circle cx="453.5" cy="1154.9" r="2.5"/>
<circle cx="461.6" cy="1153.9" r="2.5"/>
<circle cx="461.6" cy="1161.0" r="2.5"/>
<circle cx="469.6" cy="1161.0" r="2.5"/>
<circle cx="445.5" cy="1162.9" r="2.5"/>
<circle cx="403.0" cy="1161.0" r="2.5"/>
<circle cx="399.9" cy="1164.1" r="2.5"/>
<circle cx="429.3" cy="1175.2" r="2.5"/>
<circle cx="425.2" cy="1179.2" r="2.5"/>
<circle cx="431.2" cy="1184.3" r="2.5"/>
<circle cx="460.6" cy="1183.3" r="2.5"/>
<circle cx="463.7" cy="1184.3" r="2.5"/>
<circle cx="469.6" cy="1183.3" r="2.5"/>
<circle cx="472.7" cy="1181.1" r="2.5"/>
<circle cx="463.7" cy="1195.4" r="2.5"/>
<circle cx="468.6" cy="1195.4" r="2.5"/>
<circle cx="368.6" cy="1204.4" r="2.5"/>
<circle cx="475.7" cy="1208.5" r="2.5"/>
<circle cx="471.7" cy="1212.6" r="2.5"/>
<circle cx="425.2" cy="1216.9" r="2.5"/>
<circle cx="423.2" cy="1218.9" r="2.5"/>
<circle cx="322.0" cy="1234.7" r="2.5"/>
<circle cx="477.6" cy="1250.0" r="2.5"/>
<circle cx="348.1" cy="1259.0" r="2.5"/>
<circle cx="486.6" cy="1034.3" r="2.5"/>
<circle cx="531.0" cy="1041.4" r="2.5"/>
<circle cx="549.2" cy="1038.5" r="2.5"/>
<circle cx="676.8" cy="1036.3" r="2.5"/>
<circle cx="486.6" cy="1061.7" r="2.5"/>
<circle cx="491.6" cy="1069.8" r="2.5"/>
<circle cx="511.8" cy="1071.9" r="2.5"/>
<circle cx="522.0" cy="1070.9" r="2.5"/>
<circle cx="530.0" cy="1078.0" r="2.5"/>
<circle cx="508.7" cy="1079.9" r="2.5"/>
<circle cx="576.4" cy="1079.9" r="2.5"/>
<circle cx="485.6" cy="1086.0" r="2.5"/>
<circle cx="483.4" cy="1090.1" r="2.5"/>
<circle cx="508.7" cy="1096.2" r="2.5"/>
<circle cx="550.2" cy="1093.3" r="2.5"/>
<circle cx="548.2" cy="1097.2" r="2.5"/>
<circle cx="553.3" cy="1098.1" r="2.5"/>
<circle cx="584.4" cy="1096.2" r="2.5"/>
<circle cx="650.5" cy="1100.3" r="2.5"/>
<circle cx="538.2" cy="1111.3" r="2.5"/>
<circle cx="487.5" cy="1109.3" r="2.5"/>
<circle cx="492.6" cy="1110.3" r="2.5"/>
<circle cx="554.3" cy="1126.5" r="2.5"/>
<circle cx="623.1" cy="1125.5" r="2.5"/>
<circle cx="481.5" cy="1128.5" r="2.5"/>
<circle cx="493.6" cy="1127.5" r="2.5"/>
<circle cx="499.7" cy="1133.6" r="2.5"/>
<circle cx="508.7" cy="1136.7" r="2.5"/>
<circle cx="518.8" cy="1134.5" r="2.5"/>
<circle cx="515.9" cy="1144.7" r="2.5"/>
<circle cx="536.1" cy="1145.7" r="2.5"/>
<circle cx="521.0" cy="1150.8" r="2.5"/>
<circle cx="501.6" cy="1151.8" r="2.5"/>
<circle cx="503.8" cy="1154.9" r="2.5"/>
<circle cx="530.0" cy="1156.9" r="2.5"/>
<circle cx="562.3" cy="1156.9" r="2.5"/>
<circle cx="577.5" cy="1155.9" r="2.5"/>
<circle cx="498.7" cy="1157.8" r="2.5"/>
<circle cx="492.6" cy="1163.9" r="2.5"/>
<circle cx="482.4" cy="1168.0" r="2.5"/>
<circle cx="512.8" cy="1173.1" r="2.5"/>
<circle cx="631.2" cy="1170.2" r="2.5"/>
<circle cx="633.1" cy="1165.1" r="2.5"/>
<circle cx="497.7" cy="1186.2" r="2.5"/>
<circle cx="503.8" cy="1190.1" r="2.5"/>
<circle cx="508.7" cy="1189.1" r="2.5"/>
<circle cx="539.0" cy="1189.1" r="2.5"/>
<circle cx="548.2" cy="1190.1" r="2.5"/>
<circle cx="579.5" cy="1185.2" r="2.5"/>
<circle cx="514.7" cy="1200.3" r="2.5"/>
<circle cx="598.7" cy="1195.4" r="2.5"/>
<circle cx="569.3" cy="1203.4" r="2.5"/>
<circle cx="571.5" cy="1206.4" r="2.5"/>
<circle cx="497.7" cy="1222.6" r="2.5"/>
<circle cx="544.1" cy="1223.6" r="2.5"/>
<circle cx="591.6" cy="1221.6" r="2.5"/>
<circle cx="691.8" cy="1221.6" r="2.5"/>
<circle cx="484.4" cy="1232.8" r="2.5"/>
<circle cx="623.1" cy="1233.8" r="2.5"/>
<circle cx="546.2" cy="1248.8" r="2.5"/>
<circle cx="566.4" cy="1269.2" r="2.5"/>
<circle cx="509.8" cy="1285.4" r="2.5"/>
</g>
<path d="M180.8,923.1 L182.8,923.1 L184.8,923.2 L186.8,923.2 L188.8,923.2 L190.8,923.3 L192.8,923.4 L194.8,923.4 L196.8,923.5 L198.8,923.6 L200.8,923.7 L202.8,923.8 L204.8,924.0 L206.8,924.1 L208.8,924.3 L210.8,924.5 L212.8,924.8 L214.8,925.1 L216.8,925.4 L218.8,925.8 L220.8,926.2 L222.8,926.7 L224.8,927.1 L226.8,927.6 L228.8,928.1 L230.8,928.6 L232.8,929.1 L234.8,929.7 L236.8,930.3 L238.8,930.9 L240.8,931.5 L242.8,932.1 L244.8,932.7 L246.8,933.4 L248.8,934.1 L250.8,934.8 L252.8,935.6 L254.8,936.3 L256.8,937.1 L258.8,937.9 L260.8,938.7 L262.8,939.6 L264.8,940.5 L266.8,941.4 L268.8,942.3 L270.8,943.3 L272.8,944.3 L274.8,945.4 L276.8,946.4 L278.8,947.5 L280.8,948.7 L282.8,949.8 L284.8,951.0 L286.8,952.2 L288.8,953.5 L290.8,954.8 L292.8,956.1 L294.8,957.5 L296.8,958.8 L298.8,960.2 L300.8,961.7 L302.8,963.1 L304.8,964.5 L306.8,965.9 L308.8,967.3 L310.8,968.7 L312.8,970.1 L314.8,971.5 L316.8,972.8 L318.8,974.2 L320.8,975.6 L322.8,977.0 L324.8,978.5 L326.8,980.0 L328.8,981.6 L330.8,983.4 L332.8,985.2 L334.8,987.2 L336.8,989.2 L338.8,991.4 L340.8,993.5 L342.8,995.7 L344.8,997.9 L346.8,1000.1 L348.8,1002.2 L350.8,1004.4 L352.8,1006.5 L354.8,1008.6 L356.8,1010.7 L358.8,1012.7 L360.8,1014.8 L362.8,1016.8 L364.8,1018.8 L366.8,1020.8 L368.8,1022.8 L370.8,1024.8 L372.8,1026.7 L374.8,1028.7 L376.8,1030.6 L378.8,1032.5 L380.8,1034.3 L382.8,1036.2 L384.8,1038.0 L386.8,1039.8 L388.8,1041.6 L390.8,1043.4 L392.8,1045.2 L394.8,1047.0 L396.8,1048.9 L398.8,1050.8 L400.8,1052.7 L402.8,1054.5 L404.8,1056.4 L406.8,1058.3 L408.8,1060.2 L410.8,1062.0 L412.8,1063.9 L414.8,1065.6 L416.8,1067.3 L418.8,1069.1 L420.8,1070.8 L422.8,1072.5 L424.8,1074.2 L426.8,1075.9 L428.8,1077.7 L430.8,1079.4 L432.8,1081.2 L434.7,1083.0 L436.7,1084.8 L438.7,1086.6 L440.7,1088.4 L442.7,1090.1 L444.7,1091.8 L446.7,1093.4 L448.7,1095.0 L450.7,1096.6 L452.7,1098.1 L454.7,1099.6 L456.7,1101.0 L458.7,1102.5 L460.7,1104.0 L462.7,1105.5 L464.7,1107.0 L466.7,1108.5 L468.7,1109.9 L470.7,1111.4 L472.7,1112.9 L474.7,1114.3 L476.7,1115.7 L478.7,1117.0 L480.7,1118.3 L482.7,1119.6 L484.7,1120.9 L486.7,1122.0 L488.7,1123.2 L490.7,1124.2 L492.7,1125.3 L494.7,1126.3 L496.7,1127.2 L498.7,1128.1 L500.7,1129.0 L502.7,1129.9 L504.7,1130.8 L506.7,1131.6 L508.7,1132.5 L510.7,1133.3 L512.7,1134.2 L514.7,1135.0 L516.7,1135.8 L518.7,1136.6 L520.7,1137.4 L522.7,1138.1 L524.7,1138.9 L526.7,1139.5 L528.7,1140.2 L530.7,1140.8 L532.7,1141.4 L534.7,1142.0 L536.7,1142.5 L538.7,1143.0 L540.7,1143.5 L542.7,1143.9 L544.7,1144.4 L546.7,1144.7 L548.7,1145.1 L550.7,1145.4 L552.7,1145.7 L554.7,1146.0 L556.7,1146.2 L558.7,1146.5 L560.7,1146.6 L562.7,1146.8 L564.7,1146.9 L566.7,1147.0 L568.7,1147.1 L570.7,1147.1 L572.7,1147.2 L574.7,1147.2 L576.7,1147.2 L578.7,1147.2 L580.7,1147.2 L582.7,1147.2 L584.7,1147.2 L586.7,1147.1 L588.7,1147.1 L590.7,1147.0 L592.7,1146.9 L594.7,1146.8 L596.7,1146.6 L598.7,1146.4 L600.7,1146.2 L602.7,1145.9 L604.7,1145.5 L606.7,1145.2 L608.7,1144.8 L610.7,1144.3 L612.7,1143.9 L614.7,1143.4 L616.7,1142.9 L618.7,1142.4 L620.7,1141.8 L622.7,1141.3 L624.7,1140.7 L626.7,1140.1 L628.7,1139.5 L630.7,1138.9 L632.7,1138.3 L634.7,1137.7 L636.7,1137.1 L638.7,1136.5 L640.7,1135.8 L642.7,1135.2 L644.7,1134.5 L646.7,1133.9 L648.7,1133.2 L650.7,1132.5 L652.7,1131.8 L654.7,1131.1 L656.7,1130.4 L658.7,1129.7 L660.7,1129.0 L662.7,1128.3 L664.7,1127.6 L666.7,1126.9 L668.7,1126.2 L670.7,1125.5 L672.7,1124.8 L674.7,1124.1 L676.7,1123.4 L678.7,1122.7 L680.7,1122.0 L682.7,1121.3 L684.7,1120.6 L686.7,1119.9" fill="none" stroke="#0a0ad2" stroke-width="1.8" stroke-linejoin="round"/>
<path d="M188.0,932.5 L190.0,931.7 L192.0,930.9 L194.0,930.1 L196.0,929.4 L198.0,928.6 L200.0,927.8 L202.0,927.1 L204.0,926.4 L206.0,925.6 L208.0,924.9 L210.0,924.2 L212.0,923.5 L214.0,922.8 L216.0,922.1 L218.0,921.4 L220.0,920.7 L222.0,920.1 L224.0,919.4 L226.0,918.8 L228.0,918.2 L230.0,917.6 L232.0,917.0 L234.0,916.5 L236.0,916.0 L238.0,915.6 L240.0,915.2 L242.0,914.8 L244.0,914.5 L246.0,914.2 L248.0,913.9 L250.0,913.7 L252.0,913.5 L254.0,913.3 L255.9,913.2 L257.9,913.1 L259.9,913.1 L261.9,913.1 L263.9,913.1 L265.9,913.2 L267.9,913.2 L269.9,913.3 L271.9,913.5 L273.9,913.6 L275.9,913.8 L277.9,914.0 L279.9,914.3 L281.9,914.6 L283.9,914.9 L285.9,915.3 L287.9,915.8 L289.9,916.3 L291.9,916.9 L293.9,917.5 L295.9,918.2 L297.9,919.0 L299.9,919.9 L301.9,920.8 L303.9,921.8 L305.9,922.9 L307.9,924.1 L309.9,925.4 L311.9,926.8 L313.9,928.2 L315.9,929.7 L317.9,931.3 L319.9,932.9 L321.9,934.6 L323.9,936.3 L325.9,938.0 L327.9,939.8 L329.9,941.6 L331.9,943.4 L333.9,945.3 L335.9,947.3 L337.9,949.4 L339.9,951.5 L341.9,953.8 L343.9,956.2 L345.9,958.7 L347.9,961.3 L349.9,964.0 L351.9,966.7 L353.9,969.4 L355.9,972.2 L357.9,975.0 L359.9,977.8 L361.9,980.6 L363.9,983.3 L365.9,986.0 L367.9,988.7 L369.9,991.4 L371.9,994.0 L373.9,996.5 L375.9,999.0 L377.9,1001.4 L379.9,1003.7 L381.9,1006.0 L383.9,1008.2 L385.9,1010.3 L387.9,1012.4 L389.8,1014.5 L391.8,1016.5 L393.8,1018.5 L395.8,1020.5 L397.8,1022.5 L399.8,1024.5 L401.8,1026.5 L403.8,1028.5 L405.8,1030.5 L407.8,1032.5 L409.8,1034.5 L411.8,1036.5 L413.8,1038.5 L415.8,1040.4 L417.8,1042.3 L419.8,1044.2 L421.8,1046.0 L423.8,1047.8 L425.8,1049.6 L427.8,1051.3 L429.8,1052.9 L431.8,1054.5 L433.8,1056.0 L435.8,1057.4 L437.8,1058.8 L439.8,1060.2 L441.8,1061.5 L443.8,1062.8 L445.8,1064.0 L447.8,1065.2 L449.8,1066.4 L451.8,1067.5 L453.8,1068.6 L455.8,1069.7 L457.8,1070.8 L459.8,1071.8 L461.8,1072.9 L463.8,1074.0 L465.8,1075.1 L467.8,1076.2 L469.8,1077.4 L471.8,1078.5 L473.8,1079.7 L475.8,1080.9 L477.8,1082.1 L479.8,1083.3 L481.8,1084.5 L483.8,1085.7 L485.8,1086.9 L487.8,1088.1 L489.8,1089.3 L491.8,1090.5 L493.8,1091.7 L495.8,1092.9 L497.8,1094.2 L499.8,1095.4 L501.8,1096.7 L503.8,1098.0 L505.8,1099.3 L507.8,1100.6 L509.8,1102.0 L511.8,1103.3 L513.8,1104.6 L515.8,1105.8 L517.8,1107.0 L519.8,1108.2 L521.7,1109.3 L523.7,1110.3 L525.7,1111.2 L527.7,1112.0 L529.7,1112.7 L531.7,1113.4 L533.7,1114.0 L535.7,1114.5 L537.7,1115.0 L539.7,1115.5 L541.7,1116.0 L543.7,1116.6 L545.7,1117.2 L547.7,1117.8 L549.7,1118.6 L551.7,1119.4 L553.7,1120.2 L555.7,1121.1 L557.7,1122.0 L559.7,1122.9 L561.7,1123.8 L563.7,1124.6 L565.7,1125.3 L567.7,1126.0 L569.7,1126.6 L571.7,1127.2 L573.7,1127.6 L575.7,1128.1 L577.7,1128.4 L579.7,1128.8 L581.7,1129.1 L583.7,1129.3 L585.7,1129.5 L587.7,1129.7 L589.7,1129.8 L591.7,1129.9 L593.7,1130.0 L595.7,1130.0 L597.7,1130.1 L599.7,1130.1 L601.7,1130.0 L603.7,1130.0 L605.7,1129.9 L607.7,1129.8 L609.7,1129.7 L611.7,1129.5 L613.7,1129.3 L615.7,1129.0 L617.7,1128.6 L619.7,1128.2 L621.7,1127.7 L623.7,1127.2 L625.7,1126.5 L627.7,1125.9 L629.7,1125.1 L631.7,1124.3 L633.7,1123.4 L635.7,1122.5 L637.7,1121.5 L639.7,1120.4 L641.7,1119.2 L643.7,1118.0 L645.7,1116.7 L647.7,1115.2 L649.7,1113.7 L651.7,1112.1 L653.7,1110.4 L655.6,1108.7 L657.6,1106.8 L659.6,1104.9 L661.6,1102.9 L663.6,1100.9 L665.6,1098.8 L667.6,1096.6 L669.6,1094.4 L671.6,1092.1 L673.6,1089.7 L675.6,1087.2 L677.6,1084.7 L679.6,1082.1 L681.6,1079.4 L683.6,1076.6 L685.6,1073.7 L687.6,1070.7 L689.6,1067.6 L691.6,1064.3 L693.6,1061.0 L695.6,1057.6 L697.6,1054.1 L699.6,1050.5 L701.6,1046.8 L703.6,1043.1 L705.6,1039.4 L707.6,1035.7 L709.6,1032.0 L711.6,1028.3 L713.6,1024.6 L715.6,1020.9 L717.6,1017.3 L719.6,1013.6 L721.6,1010.0 L721.6,1238.0 L719.6,1237.0 L717.6,1235.9 L715.6,1234.9 L713.6,1233.9 L711.6,1232.9 L709.6,1231.9 L707.6,1231.0 L705.6,1230.1 L703.6,1229.2 L701.6,1228.3 L699.6,1227.4 L697.6,1226.6 L695.6,1225.8 L693.6,1225.0 L691.6,1224.2 L689.6,1223.5 L687.6,1222.7 L685.6,1222.0 L683.6,1221.3 L681.6,1220.7 L679.6,1220.0 L677.6,1219.4 L675.6,1218.8 L673.6,1218.2 L671.6,1217.6 L669.6,1216.9 L667.6,1216.3 L665.6,1215.7 L663.6,1215.1 L661.6,1214.5 L659.6,1213.9 L657.6,1213.3 L655.6,1212.7 L653.7,1212.1 L651.7,1211.5 L649.7,1210.9 L647.7,1210.3 L645.7,1209.7 L643.7,1209.1 L641.7,1208.5 L639.7,1207.9 L637.7,1207.3 L635.7,1206.7 L633.7,1206.1 L631.7,1205.5 L629.7,1204.9 L627.7,1204.3 L625.7,1203.7 L623.7,1203.1 L621.7,1202.5 L619.7,1201.9 L617.7,1201.4 L615.7,1200.8 L613.7,1200.2 L611.7,1199.6 L609.7,1198.9 L607.7,1198.3 L605.7,1197.7 L603.7,1197.0 L601.7,1196.4 L599.7,1195.7 L597.7,1195.0 L595.7,1194.3 L593.7,1193.6 L591.7,1192.8 L589.7,1192.1 L587.7,1191.4 L585.7,1190.6 L583.7,1189.9 L581.7,1189.1 L579.7,1188.3 L577.7,1187.5 L575.7,1186.7 L573.7,1185.9 L571.7,1185.1 L569.7,1184.2 L567.7,1183.4 L565.7,1182.5 L563.7,1181.6 L561.7,1180.6 L559.7,1179.7 L557.7,1178.7 L555.7,1177.7 L553.7,1176.6 L551.7,1175.6 L549.7,1174.5 L547.7,1173.5 L545.7,1172.4 L543.7,1171.3 L541.7,1170.2 L539.7,1169.1 L537.7,1168.0 L535.7,1166.9 L533.7,1165.8 L531.7,1164.7 L529.7,1163.6 L527.7,1162.6 L525.7,1161.5 L523.7,1160.4 L521.7,1159.3 L519.8,1158.2 L517.8,1157.1 L515.8,1156.0 L513.8,1154.9 L511.8,1153.8 L509.8,1152.7 L507.8,1151.5 L505.8,1150.4 L503.8,1149.2 L501.8,1148.0 L499.8,1146.8 L497.8,1145.6 L495.8,1144.4 L493.8,1143.2 L491.8,1141.9 L489.8,1140.7 L487.8,1139.4 L485.8,1138.2 L483.8,1136.9 L481.8,1135.6 L479.8,1134.3 L477.8,1133.0 L475.8,1131.8 L473.8,1130.5 L471.8,1129.2 L469.8,1127.9 L467.8,1126.6 L465.8,1125.3 L463.8,1124.0 L461.8,1122.8 L459.8,1121.5 L457.8,1120.2 L455.8,1118.9 L453.8,1117.7 L451.8,1116.4 L449.8,1115.2 L447.8,1113.9 L445.8,1112.6 L443.8,1111.3 L441.8,1110.0 L439.8,1108.7 L437.8,1107.3 L435.8,1105.9 L433.8,1104.4 L431.8,1102.9 L429.8,1101.3 L427.8,1099.7 L425.8,1098.0 L423.8,1096.2 L421.8,1094.4 L419.8,1092.5 L417.8,1090.5 L415.8,1088.5 L413.8,1086.5 L411.8,1084.4 L409.8,1082.3 L407.8,1080.2 L405.8,1078.1 L403.8,1075.9 L401.8,1073.8 L399.8,1071.7 L397.8,1069.6 L395.8,1067.6 L393.8,1065.5 L391.8,1063.4 L389.8,1061.3 L387.9,1059.2 L385.9,1057.1 L383.9,1055.0 L381.9,1052.8 L379.9,1050.6 L377.9,1048.4 L375.9,1046.2 L373.9,1044.0 L371.9,1041.8 L369.9,1039.6 L367.9,1037.3 L365.9,1035.0 L363.9,1032.7 L361.9,1030.4 L359.9,1028.1 L357.9,1025.8 L355.9,1023.5 L353.9,1021.3 L351.9,1019.1 L349.9,1017.0 L347.9,1014.9 L345.9,1012.8 L343.9,1010.7 L341.9,1008.7 L339.9,1006.7 L337.9,1004.8 L335.9,1003.0 L333.9,1001.3 L331.9,999.7 L329.9,998.3 L327.9,997.1 L325.9,996.1 L323.9,995.2 L321.9,994.4 L319.9,993.7 L317.9,993.1 L315.9,992.6 L313.9,992.2 L311.9,991.8 L309.9,991.5 L307.9,991.2 L305.9,991.1 L303.9,991.0 L301.9,991.0 L299.9,991.2 L297.9,991.4 L295.9,991.7 L293.9,992.2 L291.9,992.8 L289.9,993.5 L287.9,994.4 L285.9,995.4 L283.9,996.5 L281.9,997.7 L279.9,999.0 L277.9,1000.4 L275.9,1002.0 L273.9,1003.6 L271.9,1005.4 L269.9,1007.3 L267.9,1009.2 L265.9,1011.3 L263.9,1013.5 L261.9,1015.8 L259.9,1018.2 L257.9,1020.8 L255.9,1023.5 L254.0,1026.4 L252.0,1029.4 L250.0,1032.6 L248.0,1035.9 L246.0,1039.3 L244.0,1042.9 L242.0,1046.6 L240.0,1050.5 L238.0,1054.5 L236.0,1058.6 L234.0,1062.8 L232.0,1067.2 L230.0,1071.6 L228.0,1076.2 L226.0,1080.9 L224.0,1085.6 L222.0,1090.4 L220.0,1095.3 L218.0,1100.3 L216.0,1105.2 L214.0,1110.2 L212.0,1115.2 L210.0,1120.2 L208.0,1125.2 L206.0,1130.2 L204.0,1135.2 L202.0,1140.1 L200.0,1145.1 L198.0,1150.0 L196.0,1154.9 L194.0,1159.7 L192.0,1164.6 L190.0,1169.4 L188.0,1174.2Z" fill="#d00808" fill-opacity="0.4" stroke="none"/>
<path d="M188.0,1054.2 L190.0,1051.1 L192.0,1048.0 L194.0,1044.9 L196.0,1041.9 L198.0,1038.8 L200.0,1035.8 L202.0,1032.7 L204.0,1029.7 L206.0,1026.8 L208.0,1023.8 L210.0,1020.9 L212.0,1018.0 L214.0,1015.2 L216.0,1012.4 L218.0,1009.7 L220.0,1007.0 L222.0,1004.4 L224.0,1001.7 L226.0,999.2 L228.0,996.6 L230.0,994.2 L232.0,991.7 L234.0,989.4 L236.0,987.1 L238.0,984.8 L240.0,982.6 L242.0,980.5 L244.0,978.5 L246.0,976.5 L248.0,974.5 L250.0,972.7 L252.0,970.9 L254.0,969.2 L255.9,967.5 L257.9,966.0 L259.9,964.5 L261.9,963.2 L263.9,961.9 L265.9,960.8 L267.9,959.7 L269.9,958.8 L271.9,957.9 L273.9,957.1 L275.9,956.4 L277.9,955.8 L279.9,955.2 L281.9,954.7 L283.9,954.3 L285.9,954.0 L287.9,953.7 L289.9,953.5 L291.9,953.4 L293.9,953.3 L295.9,953.3 L297.9,953.4 L299.9,953.6 L301.9,953.9 L303.9,954.2 L305.9,954.7 L307.9,955.3 L309.9,955.9 L311.9,956.7 L313.9,957.6 L315.9,958.6 L317.9,959.8 L319.9,961.1 L321.9,962.5 L323.9,964.1 L325.9,965.7 L327.9,967.6 L329.9,969.5 L331.9,971.6 L333.9,973.8 L335.9,976.1 L337.9,978.5 L339.9,981.0 L341.9,983.5 L343.9,986.1 L345.9,988.8 L347.9,991.4 L349.9,994.0 L351.9,996.6 L353.9,999.1 L355.9,1001.5 L357.9,1003.9 L359.9,1006.2 L361.9,1008.5 L363.9,1010.7 L365.9,1012.9 L367.9,1015.2 L369.9,1017.4 L371.9,1019.7 L373.9,1022.0 L375.9,1024.2 L377.9,1026.5 L379.9,1028.8 L381.9,1031.0 L383.9,1033.1 L385.9,1035.1 L387.9,1037.0 L389.8,1038.9 L391.8,1040.7 L393.8,1042.5 L395.8,1044.4 L397.8,1046.2 L399.8,1048.2 L401.8,1050.3 L403.8,1052.4 L405.8,1054.5 L407.8,1056.7 L409.8,1058.9 L411.8,1061.0 L413.8,1063.1 L415.8,1065.0 L417.8,1066.9 L419.8,1068.6 L421.8,1070.3 L423.8,1071.8 L425.8,1073.3 L427.8,1074.8 L429.8,1076.2 L431.8,1077.6 L433.8,1078.9 L435.8,1080.2 L437.8,1081.5 L439.8,1082.7 L441.8,1084.0 L443.8,1085.2 L445.8,1086.4 L447.8,1087.6 L449.8,1088.8 L451.8,1090.0 L453.8,1091.2 L455.8,1092.4 L457.8,1093.6 L459.8,1094.8 L461.8,1096.0 L463.8,1097.2 L465.8,1098.5 L467.8,1099.8 L469.8,1101.1 L471.8,1102.4 L473.8,1103.8 L475.8,1105.2 L477.8,1106.7 L479.8,1108.1 L481.8,1109.6 L483.8,1111.0 L485.8,1112.3 L487.8,1113.6 L489.8,1114.9 L491.8,1116.0 L493.8,1117.2 L495.8,1118.3 L497.8,1119.3 L499.8,1120.3 L501.8,1121.3 L503.8,1122.3 L505.8,1123.4 L507.8,1124.4 L509.8,1125.4 L511.8,1126.5 L513.8,1127.5 L515.8,1128.6 L517.8,1129.7 L519.8,1130.8 L521.7,1131.9 L523.7,1132.9 L525.7,1134.0 L527.7,1135.1 L529.7,1136.1 L531.7,1137.2 L533.7,1138.2 L535.7,1139.2 L537.7,1140.2 L539.7,1141.2 L541.7,1142.2 L543.7,1143.2 L545.7,1144.2 L547.7,1145.1 L549.7,1146.1 L551.7,1147.0 L553.7,1147.9 L555.7,1148.8 L557.7,1149.7 L559.7,1150.6 L561.7,1151.5 L563.7,1152.3 L565.7,1153.2 L567.7,1154.0 L569.7,1154.8 L571.7,1155.5 L573.7,1156.3 L575.7,1157.0 L577.7,1157.7 L579.7,1158.4 L581.7,1159.1 L583.7,1159.7 L585.7,1160.3 L587.7,1160.9 L589.7,1161.4 L591.7,1162.0 L593.7,1162.4 L595.7,1162.8 L597.7,1163.2 L599.7,1163.5 L601.7,1163.8 L603.7,1164.0 L605.7,1164.1 L607.7,1164.3 L609.7,1164.4 L611.7,1164.4 L613.7,1164.4 L615.7,1164.5 L617.7,1164.4 L619.7,1164.4 L621.7,1164.4 L623.7,1164.3 L625.7,1164.2 L627.7,1164.1 L629.7,1163.9 L631.7,1163.7 L633.7,1163.5 L635.7,1163.3 L637.7,1163.0 L639.7,1162.6 L641.7,1162.2 L643.7,1161.8 L645.7,1161.3 L647.7,1160.7 L649.7,1160.2 L651.7,1159.5 L653.7,1158.9 L655.6,1158.2 L657.6,1157.5 L659.6,1156.7 L661.6,1155.9 L663.6,1155.1 L665.6,1154.2 L667.6,1153.3 L669.6,1152.4 L671.6,1151.5 L673.6,1150.5 L675.6,1149.5 L677.6,1148.6 L679.6,1147.6 L681.6,1146.6 L683.6,1145.5 L685.6,1144.5 L687.6,1143.5 L689.6,1142.4 L691.6,1141.3 L693.6,1140.2 L695.6,1139.0 L697.6,1137.9 L699.6,1136.7 L701.6,1135.5 L703.6,1134.3 L705.6,1133.1 L707.6,1131.9 L709.6,1130.7 L711.6,1129.4 L713.6,1128.2 L715.6,1127.0 L717.6,1125.7 L719.6,1124.5 L721.6,1123.2" fill="none" stroke="#e00000" stroke-width="1.9" stroke-linejoin="round"/>
</g>
<path d="M180,752.5 L180,1303 L726,1303" fill="none" stroke="#000" stroke-width="2"/>
<path d="M171,776.5 L180,776.5" stroke="#000" stroke-width="1.8"/>
<text transform="translate(161.9 789.1) scale(1 1.055)" font-size="32.3" text-anchor="end" font-weight="normal" stroke="#000" stroke-width="0.3">15</text>
<path d="M171,913.7 L180,913.7" stroke="#000" stroke-width="1.8"/>
<text transform="translate(161.9 926.3000000000001) scale(1 1.055)" font-size="32.3" text-anchor="end" font-weight="normal" stroke="#000" stroke-width="0.3">12</text>
<path d="M171,1050.4 L180,1050.4" stroke="#000" stroke-width="1.8"/>
<text transform="translate(161.9 1063.0) scale(1 1.055)" font-size="32.3" text-anchor="end" font-weight="normal" stroke="#000" stroke-width="0.3">9</text>
<path d="M171,1187 L180,1187" stroke="#000" stroke-width="1.8"/>
<text transform="translate(161.9 1199.6) scale(1 1.055)" font-size="32.3" text-anchor="end" font-weight="normal" stroke="#000" stroke-width="0.3">6</text>
<path d="M320,1303 L320,1312" stroke="#000" stroke-width="1.8"/>
<text transform="translate(320 1341.5) scale(1 1.055)" font-size="32.3" text-anchor="middle" font-weight="normal" stroke="#000" stroke-width="0.3">40</text>
<path d="M474,1303 L474,1312" stroke="#000" stroke-width="1.8"/>
<text transform="translate(474 1341.5) scale(1 1.055)" font-size="32.3" text-anchor="middle" font-weight="normal" stroke="#000" stroke-width="0.3">60</text>
<path d="M628.5,1303 L628.5,1312" stroke="#000" stroke-width="1.8"/>
<text transform="translate(628.5 1341.5) scale(1 1.055)" font-size="32.3" text-anchor="middle" font-weight="normal" stroke="#000" stroke-width="0.3">80</text>
<text transform="translate(462 729.1) scale(1 1.055)" font-size="32.5" text-anchor="middle" font-weight="bold" stroke="#000" stroke-width="0.2">1809.639 m/z</text>
<text transform="translate(34 716.5999999999999) scale(1 1.055)" font-size="41.5" text-anchor="start" font-weight="normal" stroke="#000" stroke-width="0.3">c</text>
<text transform="translate(454 1381) scale(1 1.055)" font-size="32.3" text-anchor="middle" font-weight="normal" stroke="#000" stroke-width="0.3">Age (Years)</text>
<text transform="translate(116.7 1027.9) rotate(-90) scale(1 1.055)" font-size="32.6" text-anchor="middle" font-weight="normal" stroke="#000" stroke-width="0.3">Relative Intensity (%)</text>
<g clip-path="url(#clipd)">
<g fill="#cc0a0a">
<circle cx="1226.3" cy="884.7" r="2.5"/>
<circle cx="1202.0" cy="935.3" r="2.5"/>
<circle cx="1196.9" cy="956.5" r="2.5"/>
<circle cx="1211.0" cy="975.9" r="2.5"/>
<circle cx="1259.6" cy="980.0" r="2.5"/>
<circle cx="1209.1" cy="998.0" r="2.5"/>
<circle cx="1264.8" cy="1003.1" r="2.5"/>
<circle cx="1086.8" cy="1007.2" r="2.5"/>
<circle cx="1218.3" cy="1024.6" r="2.5"/>
<circle cx="1234.3" cy="1028.1" r="2.5"/>
<circle cx="1266.6" cy="1020.3" r="2.5"/>
<circle cx="1418.3" cy="789.7" r="2.5"/>
<circle cx="1326.4" cy="829.3" r="2.5"/>
<circle cx="1284.9" cy="859.6" r="2.5"/>
<circle cx="1529.7" cy="856.5" r="2.5"/>
<circle cx="1332.4" cy="965.7" r="2.5"/>
<circle cx="1302.1" cy="971.7" r="2.5"/>
<circle cx="1272.7" cy="1008.1" r="2.5"/>
<circle cx="1326.4" cy="1009.1" r="2.5"/>
<circle cx="1352.8" cy="1010.1" r="2.5"/>
<circle cx="1416.4" cy="1003.1" r="2.5"/>
<circle cx="1293.1" cy="1018.3" r="2.5"/>
<circle cx="1268.6" cy="1020.3" r="2.5"/>
<circle cx="1374.9" cy="1024.2" r="2.5"/>
<circle cx="1375.9" cy="1027.3" r="2.5"/>
<circle cx="1231.4" cy="1044.5" r="2.5"/>
<circle cx="1254.7" cy="1046.5" r="2.5"/>
<circle cx="1264.7" cy="1046.5" r="2.5"/>
<circle cx="1203.2" cy="1055.7" r="2.5"/>
<circle cx="1246.5" cy="1056.7" r="2.5"/>
<circle cx="1116.1" cy="1063.7" r="2.5"/>
<circle cx="1143.3" cy="1062.7" r="2.5"/>
<circle cx="1202.0" cy="1079.0" r="2.5"/>
<circle cx="1162.7" cy="1088.9" r="2.5"/>
<circle cx="1167.8" cy="1090.1" r="2.5"/>
<circle cx="1260.5" cy="1073.9" r="2.5"/>
<circle cx="1261.7" cy="1079.0" r="2.5"/>
<circle cx="1177.8" cy="1096.2" r="2.5"/>
<circle cx="1249.6" cy="1102.3" r="2.5"/>
<circle cx="1247.6" cy="1105.4" r="2.5"/>
<circle cx="1146.5" cy="1106.4" r="2.5"/>
<circle cx="1218.3" cy="1109.3" r="2.5"/>
<circle cx="1222.4" cy="1109.3" r="2.5"/>
<circle cx="1239.4" cy="1108.3" r="2.5"/>
<circle cx="1182.9" cy="1110.3" r="2.5"/>
<circle cx="1265.8" cy="1109.3" r="2.5"/>
<circle cx="1131.2" cy="1119.5" r="2.5"/>
<circle cx="1112.0" cy="1123.6" r="2.5"/>
<circle cx="1203.2" cy="1123.6" r="2.5"/>
<circle cx="1208.1" cy="1124.6" r="2.5"/>
<circle cx="1146.5" cy="1126.5" r="2.5"/>
<circle cx="1215.1" cy="1127.5" r="2.5"/>
<circle cx="1114.2" cy="1131.6" r="2.5"/>
<circle cx="1134.3" cy="1139.6" r="2.5"/>
<circle cx="1053.5" cy="1139.6" r="2.5"/>
<circle cx="1176.8" cy="1140.6" r="2.5"/>
<circle cx="1199.1" cy="1140.6" r="2.5"/>
<circle cx="1218.3" cy="1137.7" r="2.5"/>
<circle cx="1262.7" cy="1140.6" r="2.5"/>
<circle cx="1115.1" cy="1145.7" r="2.5"/>
<circle cx="1138.2" cy="1146.7" r="2.5"/>
<circle cx="1135.3" cy="1148.8" r="2.5"/>
<circle cx="1258.6" cy="1147.9" r="2.5"/>
<circle cx="1202.0" cy="1150.8" r="2.5"/>
<circle cx="1131.2" cy="1163.9" r="2.5"/>
<circle cx="1165.6" cy="1167.0" r="2.5"/>
<circle cx="1162.7" cy="1169.0" r="2.5"/>
<circle cx="977.8" cy="1188.2" r="2.5"/>
<circle cx="1110.1" cy="1193.3" r="2.5"/>
<circle cx="1330.5" cy="1035.3" r="2.5"/>
<circle cx="1326.4" cy="1040.4" r="2.5"/>
<circle cx="1302.1" cy="1050.6" r="2.5"/>
<circle cx="1323.4" cy="1062.7" r="2.5"/>
<circle cx="1353.8" cy="1061.7" r="2.5"/>
<circle cx="1352.8" cy="1064.7" r="2.5"/>
<circle cx="1327.5" cy="1068.8" r="2.5"/>
<circle cx="1292.1" cy="1071.9" r="2.5"/>
<circle cx="1272.7" cy="1082.9" r="2.5"/>
<circle cx="1288.0" cy="1080.9" r="2.5"/>
<circle cx="1288.0" cy="1088.0" r="2.5"/>
<circle cx="1342.6" cy="1087.0" r="2.5"/>
<circle cx="1378.0" cy="1090.1" r="2.5"/>
<circle cx="1410.3" cy="1100.1" r="2.5"/>
<circle cx="1407.2" cy="1105.2" r="2.5"/>
<circle cx="1434.6" cy="1109.3" r="2.5"/>
<circle cx="1322.5" cy="1102.3" r="2.5"/>
<circle cx="1320.3" cy="1113.4" r="2.5"/>
<circle cx="1268.8" cy="1116.5" r="2.5"/>
<circle cx="1277.8" cy="1119.5" r="2.5"/>
<circle cx="1313.3" cy="1120.5" r="2.5"/>
<circle cx="1330.5" cy="1137.7" r="2.5"/>
<circle cx="1294.1" cy="1144.7" r="2.5"/>
<circle cx="1391.1" cy="1034.3" r="2.5"/>
<circle cx="1470.0" cy="1034.3" r="2.5"/>
</g>
<path d="M970.2,1018.6 L972.2,1020.9 L974.2,1023.2 L976.2,1025.5 L978.2,1027.9 L980.2,1030.2 L982.2,1032.5 L984.2,1034.9 L986.2,1037.2 L988.2,1039.5 L990.2,1041.8 L992.2,1044.1 L994.2,1046.3 L996.2,1048.5 L998.2,1050.6 L1000.2,1052.7 L1002.2,1054.7 L1004.2,1056.7 L1006.2,1058.6 L1008.2,1060.5 L1010.2,1062.3 L1012.2,1064.0 L1014.2,1065.7 L1016.2,1067.4 L1018.2,1069.0 L1020.2,1070.6 L1022.2,1072.2 L1024.1,1073.7 L1026.1,1075.2 L1028.1,1076.6 L1030.1,1078.0 L1032.1,1079.3 L1034.1,1080.5 L1036.1,1081.7 L1038.1,1082.8 L1040.1,1083.9 L1042.1,1085.0 L1044.1,1086.0 L1046.1,1086.9 L1048.1,1087.8 L1050.1,1088.6 L1052.1,1089.3 L1054.1,1090.1 L1056.1,1090.7 L1058.1,1091.3 L1060.1,1091.8 L1062.1,1092.3 L1064.1,1092.7 L1066.1,1093.1 L1068.1,1093.5 L1070.1,1093.8 L1072.1,1094.1 L1074.1,1094.3 L1076.1,1094.5 L1078.1,1094.7 L1080.1,1094.9 L1082.1,1095.0 L1084.1,1095.0 L1086.1,1095.1 L1088.1,1095.1 L1090.1,1095.0 L1092.1,1095.0 L1094.1,1094.9 L1096.1,1094.7 L1098.1,1094.6 L1100.1,1094.3 L1102.1,1094.1 L1104.1,1093.9 L1106.1,1093.6 L1108.1,1093.3 L1110.1,1093.0 L1112.1,1092.7 L1114.1,1092.4 L1116.1,1092.1 L1118.1,1091.7 L1120.1,1091.4 L1122.1,1091.1 L1124.1,1090.8 L1126.1,1090.5 L1128.0,1090.2 L1130.0,1090.0 L1132.0,1089.8 L1134.0,1089.7 L1136.0,1089.7 L1138.0,1089.7 L1140.0,1089.7 L1142.0,1089.8 L1144.0,1089.9 L1146.0,1089.9 L1148.0,1089.9 L1150.0,1089.8 L1152.0,1089.5 L1154.0,1089.1 L1156.0,1088.7 L1158.0,1088.1 L1160.0,1087.5 L1162.0,1086.8 L1164.0,1086.1 L1166.0,1085.4 L1168.0,1084.6 L1170.0,1083.9 L1172.0,1083.2 L1174.0,1082.5 L1176.0,1081.8 L1178.0,1081.1 L1180.0,1080.4 L1182.0,1079.7 L1184.0,1079.0 L1186.0,1078.3 L1188.0,1077.6 L1190.0,1076.9 L1192.0,1076.3 L1194.0,1075.6 L1196.0,1075.0 L1198.0,1074.4 L1200.0,1073.9 L1202.0,1073.3 L1204.0,1072.8 L1206.0,1072.2 L1208.0,1071.7 L1210.0,1071.1 L1212.0,1070.6 L1214.0,1070.0 L1216.0,1069.4 L1218.0,1068.8 L1220.0,1068.1 L1222.0,1067.5 L1224.0,1066.8 L1226.0,1066.1 L1228.0,1065.4 L1230.0,1064.6 L1232.0,1063.8 L1233.9,1063.0 L1235.9,1062.2 L1237.9,1061.3 L1239.9,1060.5 L1241.9,1059.6 L1243.9,1058.7 L1245.9,1057.8 L1247.9,1056.9 L1249.9,1056.0 L1251.9,1055.1 L1253.9,1054.2 L1255.9,1053.2 L1257.9,1052.3 L1259.9,1051.4 L1261.9,1050.6 L1263.9,1049.7 L1265.9,1048.8 L1267.9,1048.0 L1269.9,1047.1 L1271.9,1046.3 L1273.9,1045.5 L1275.9,1044.8 L1277.9,1044.0 L1279.9,1043.3 L1281.9,1042.7 L1283.9,1042.0 L1285.9,1041.5 L1287.9,1040.9 L1289.9,1040.4 L1291.9,1040.0 L1293.9,1039.6 L1295.9,1039.2 L1297.9,1038.9 L1299.9,1038.6 L1301.9,1038.3 L1303.9,1038.1 L1305.9,1037.9 L1307.9,1037.8 L1309.9,1037.7 L1311.9,1037.6 L1313.9,1037.5 L1315.9,1037.4 L1317.9,1037.4 L1319.9,1037.4 L1321.9,1037.4 L1323.9,1037.5 L1325.9,1037.5 L1327.9,1037.6 L1329.9,1037.7 L1331.9,1037.8 L1333.9,1038.0 L1335.9,1038.2 L1337.8,1038.4 L1339.8,1038.6 L1341.8,1038.9 L1343.8,1039.1 L1345.8,1039.4 L1347.8,1039.6 L1349.8,1039.8 L1351.8,1040.0 L1353.8,1040.2 L1355.8,1040.4 L1357.8,1040.5 L1359.8,1040.7 L1361.8,1040.8 L1363.8,1041.0 L1365.8,1041.1 L1367.8,1041.3 L1369.8,1041.4 L1371.8,1041.6 L1373.8,1041.8 L1375.8,1042.0 L1377.8,1042.2 L1379.8,1042.4 L1381.8,1042.6 L1383.8,1042.9 L1385.8,1043.1 L1387.8,1043.3 L1389.8,1043.5 L1391.8,1043.7 L1393.8,1044.0 L1395.8,1044.2 L1397.8,1044.3 L1399.8,1044.5 L1401.8,1044.7 L1403.8,1044.8 L1405.8,1045.0 L1407.8,1045.1 L1409.8,1045.1 L1411.8,1045.2 L1413.8,1045.2 L1415.8,1045.2 L1417.8,1045.1 L1419.8,1045.1 L1421.8,1045.0 L1423.8,1044.9 L1425.8,1044.8 L1427.8,1044.6 L1429.8,1044.4 L1431.8,1044.3 L1433.8,1044.0 L1435.8,1043.8 L1437.8,1043.6 L1439.8,1043.3 L1441.7,1043.0 L1443.7,1042.6 L1445.7,1042.2 L1447.7,1041.8 L1449.7,1041.3 L1451.7,1040.8 L1453.7,1040.3 L1455.7,1039.7 L1457.7,1039.1 L1459.7,1038.5 L1461.7,1037.8 L1463.7,1037.1 L1465.7,1036.4 L1467.7,1035.7 L1469.7,1035.0 L1471.7,1034.2 L1473.7,1033.5 L1475.7,1032.7 L1477.7,1031.9 L1479.7,1031.1 L1481.7,1030.3 L1483.7,1029.5 L1485.7,1028.7 L1487.7,1027.9 L1489.7,1027.1 L1491.7,1026.3 L1493.7,1025.5 L1493.7,1180.2 L1491.7,1178.0 L1489.7,1175.7 L1487.7,1173.5 L1485.7,1171.2 L1483.7,1169.0 L1481.7,1166.7 L1479.7,1164.4 L1477.7,1162.1 L1475.7,1159.8 L1473.7,1157.5 L1471.7,1155.1 L1469.7,1152.8 L1467.7,1150.4 L1465.7,1148.0 L1463.7,1145.6 L1461.7,1143.2 L1459.7,1140.8 L1457.7,1138.4 L1455.7,1136.0 L1453.7,1133.7 L1451.7,1131.4 L1449.7,1129.2 L1447.7,1127.1 L1445.7,1125.1 L1443.7,1123.1 L1441.7,1121.2 L1439.8,1119.4 L1437.8,1117.7 L1435.8,1115.9 L1433.8,1114.3 L1431.8,1112.7 L1429.8,1111.0 L1427.8,1109.5 L1425.8,1107.9 L1423.8,1106.4 L1421.8,1105.0 L1419.8,1103.5 L1417.8,1102.2 L1415.8,1100.9 L1413.8,1099.6 L1411.8,1098.4 L1409.8,1097.3 L1407.8,1096.2 L1405.8,1095.1 L1403.8,1094.1 L1401.8,1093.1 L1399.8,1092.2 L1397.8,1091.2 L1395.8,1090.3 L1393.8,1089.4 L1391.8,1088.5 L1389.8,1087.6 L1387.8,1086.6 L1385.8,1085.8 L1383.8,1084.9 L1381.8,1084.0 L1379.8,1083.2 L1377.8,1082.3 L1375.8,1081.5 L1373.8,1080.8 L1371.8,1080.1 L1369.8,1079.5 L1367.8,1078.9 L1365.8,1078.4 L1363.8,1077.9 L1361.8,1077.5 L1359.8,1077.1 L1357.8,1076.8 L1355.8,1076.5 L1353.8,1076.2 L1351.8,1075.9 L1349.8,1075.6 L1347.8,1075.3 L1345.8,1075.0 L1343.8,1074.6 L1341.8,1074.3 L1339.8,1073.9 L1337.8,1073.4 L1335.9,1073.0 L1333.9,1072.5 L1331.9,1072.0 L1329.9,1071.6 L1327.9,1071.2 L1325.9,1070.8 L1323.9,1070.4 L1321.9,1070.2 L1319.9,1069.9 L1317.9,1069.8 L1315.9,1069.7 L1313.9,1069.7 L1311.9,1069.7 L1309.9,1069.8 L1307.9,1070.0 L1305.9,1070.2 L1303.9,1070.5 L1301.9,1070.8 L1299.9,1071.2 L1297.9,1071.6 L1295.9,1072.1 L1293.9,1072.6 L1291.9,1073.2 L1289.9,1073.8 L1287.9,1074.4 L1285.9,1075.1 L1283.9,1075.7 L1281.9,1076.4 L1279.9,1077.2 L1277.9,1078.0 L1275.9,1078.8 L1273.9,1079.7 L1271.9,1080.6 L1269.9,1081.6 L1267.9,1082.8 L1265.9,1083.9 L1263.9,1085.1 L1261.9,1086.3 L1259.9,1087.5 L1257.9,1088.6 L1255.9,1089.7 L1253.9,1090.7 L1251.9,1091.6 L1249.9,1092.5 L1247.9,1093.4 L1245.9,1094.2 L1243.9,1095.0 L1241.9,1095.8 L1239.9,1096.6 L1237.9,1097.4 L1235.9,1098.2 L1233.9,1099.0 L1232.0,1099.8 L1230.0,1100.6 L1228.0,1101.4 L1226.0,1102.2 L1224.0,1103.0 L1222.0,1103.8 L1220.0,1104.6 L1218.0,1105.4 L1216.0,1106.2 L1214.0,1107.0 L1212.0,1107.7 L1210.0,1108.5 L1208.0,1109.3 L1206.0,1110.0 L1204.0,1110.7 L1202.0,1111.4 L1200.0,1112.0 L1198.0,1112.7 L1196.0,1113.3 L1194.0,1113.8 L1192.0,1114.4 L1190.0,1114.9 L1188.0,1115.4 L1186.0,1115.9 L1184.0,1116.3 L1182.0,1116.8 L1180.0,1117.2 L1178.0,1117.7 L1176.0,1118.1 L1174.0,1118.6 L1172.0,1119.1 L1170.0,1119.6 L1168.0,1120.2 L1166.0,1120.8 L1164.0,1121.4 L1162.0,1122.0 L1160.0,1122.7 L1158.0,1123.3 L1156.0,1124.0 L1154.0,1124.6 L1152.0,1125.3 L1150.0,1125.9 L1148.0,1126.6 L1146.0,1127.2 L1144.0,1127.8 L1142.0,1128.4 L1140.0,1129.0 L1138.0,1129.6 L1136.0,1130.2 L1134.0,1130.8 L1132.0,1131.4 L1130.0,1132.0 L1128.0,1132.6 L1126.1,1133.2 L1124.1,1133.8 L1122.1,1134.4 L1120.1,1135.0 L1118.1,1135.6 L1116.1,1136.2 L1114.1,1136.8 L1112.1,1137.4 L1110.1,1137.9 L1108.1,1138.5 L1106.1,1139.1 L1104.1,1139.7 L1102.1,1140.3 L1100.1,1140.8 L1098.1,1141.4 L1096.1,1141.9 L1094.1,1142.3 L1092.1,1142.8 L1090.1,1143.2 L1088.1,1143.6 L1086.1,1144.0 L1084.1,1144.4 L1082.1,1144.8 L1080.1,1145.2 L1078.1,1145.6 L1076.1,1146.0 L1074.1,1146.5 L1072.1,1146.9 L1070.1,1147.3 L1068.1,1147.8 L1066.1,1148.2 L1064.1,1148.7 L1062.1,1149.3 L1060.1,1149.8 L1058.1,1150.4 L1056.1,1151.0 L1054.1,1151.7 L1052.1,1152.4 L1050.1,1153.2 L1048.1,1154.0 L1046.1,1154.9 L1044.1,1155.8 L1042.1,1156.7 L1040.1,1157.8 L1038.1,1158.8 L1036.1,1159.9 L1034.1,1161.1 L1032.1,1162.2 L1030.1,1163.4 L1028.1,1164.6 L1026.1,1165.8 L1024.1,1167.1 L1022.2,1168.3 L1020.2,1169.6 L1018.2,1170.9 L1016.2,1172.2 L1014.2,1173.5 L1012.2,1174.9 L1010.2,1176.3 L1008.2,1177.6 L1006.2,1179.0 L1004.2,1180.4 L1002.2,1181.8 L1000.2,1183.2 L998.2,1184.6 L996.2,1186.0 L994.2,1187.4 L992.2,1188.8 L990.2,1190.1 L988.2,1191.5 L986.2,1192.8 L984.2,1194.1 L982.2,1195.4 L980.2,1196.8 L978.2,1198.1 L976.2,1199.4 L974.2,1200.8 L972.2,1202.1 L970.2,1203.5Z" fill="#0f4b8a" fill-opacity="0.4" stroke="none"/>
<g fill="#0505c8">
<circle cx="1222.2" cy="841.4" r="2.5"/>
<circle cx="1136.3" cy="888.8" r="2.5"/>
<circle cx="1144.3" cy="899.9" r="2.5"/>
<circle cx="1257.6" cy="913.0" r="2.5"/>
<circle cx="1250.6" cy="963.7" r="2.5"/>
<circle cx="1217.1" cy="981.7" r="2.5"/>
<circle cx="1220.2" cy="988.0" r="2.5"/>
<circle cx="1141.4" cy="1018.3" r="2.5"/>
<circle cx="1052.3" cy="1023.4" r="2.5"/>
<circle cx="1222.2" cy="1019.3" r="2.5"/>
<circle cx="1226.3" cy="1018.3" r="2.5"/>
<circle cx="1258.6" cy="1022.2" r="2.5"/>
<circle cx="1180.7" cy="1027.3" r="2.5"/>
<circle cx="1219.3" cy="1025.8" r="2.5"/>
<circle cx="1226.3" cy="1028.5" r="2.5"/>
<circle cx="1132.4" cy="1031.0" r="2.5"/>
<circle cx="1274.7" cy="911.1" r="2.5"/>
<circle cx="1287.0" cy="942.4" r="2.5"/>
<circle cx="1281.9" cy="949.4" r="2.5"/>
<circle cx="1330.5" cy="946.5" r="2.5"/>
<circle cx="1308.2" cy="981.9" r="2.5"/>
<circle cx="1303.1" cy="987.0" r="2.5"/>
<circle cx="1315.2" cy="990.9" r="2.5"/>
<circle cx="1363.7" cy="989.0" r="2.5"/>
<circle cx="1368.8" cy="996.0" r="2.5"/>
<circle cx="1283.9" cy="998.0" r="2.5"/>
<circle cx="1268.6" cy="1000.1" r="2.5"/>
<circle cx="1309.3" cy="1011.3" r="2.5"/>
<circle cx="1339.7" cy="1015.2" r="2.5"/>
<circle cx="1380.0" cy="1009.1" r="2.5"/>
<circle cx="1269.6" cy="1018.3" r="2.5"/>
<circle cx="1309.3" cy="1021.3" r="2.5"/>
<circle cx="1373.9" cy="1018.3" r="2.5"/>
<circle cx="1435.6" cy="1023.4" r="2.5"/>
<circle cx="1337.5" cy="1027.3" r="2.5"/>
<circle cx="1347.7" cy="1027.3" r="2.5"/>
<circle cx="1293.1" cy="1031.0" r="2.5"/>
<circle cx="1312.3" cy="1030.1" r="2.5"/>
<circle cx="1401.3" cy="1031.6" r="2.5"/>
<circle cx="1162.7" cy="1045.7" r="2.5"/>
<circle cx="1196.9" cy="1042.4" r="2.5"/>
<circle cx="1205.2" cy="1039.4" r="2.5"/>
<circle cx="1251.5" cy="1039.4" r="2.5"/>
<circle cx="1199.1" cy="1050.6" r="2.5"/>
<circle cx="1205.2" cy="1052.5" r="2.5"/>
<circle cx="1211.2" cy="1050.6" r="2.5"/>
<circle cx="1243.5" cy="1057.4" r="2.5"/>
<circle cx="1204.2" cy="1065.7" r="2.5"/>
<circle cx="1221.2" cy="1065.7" r="2.5"/>
<circle cx="1108.1" cy="1074.9" r="2.5"/>
<circle cx="1144.3" cy="1074.9" r="2.5"/>
<circle cx="1083.8" cy="1087.0" r="2.5"/>
<circle cx="1198.1" cy="1081.9" r="2.5"/>
<circle cx="1219.3" cy="1081.9" r="2.5"/>
<circle cx="1234.5" cy="1079.9" r="2.5"/>
<circle cx="1209.3" cy="1084.8" r="2.5"/>
<circle cx="1229.4" cy="1084.8" r="2.5"/>
<circle cx="1247.6" cy="1086.0" r="2.5"/>
<circle cx="1261.7" cy="1083.9" r="2.5"/>
<circle cx="1156.6" cy="1090.1" r="2.5"/>
<circle cx="1177.8" cy="1093.1" r="2.5"/>
<circle cx="971.1" cy="1095.2" r="2.5"/>
<circle cx="1231.4" cy="1094.2" r="2.5"/>
<circle cx="1236.5" cy="1097.2" r="2.5"/>
<circle cx="1243.5" cy="1095.2" r="2.5"/>
<circle cx="1153.5" cy="1100.3" r="2.5"/>
<circle cx="1195.0" cy="1099.1" r="2.5"/>
<circle cx="1204.2" cy="1100.3" r="2.5"/>
<circle cx="1136.3" cy="1102.3" r="2.5"/>
<circle cx="1200.1" cy="1103.2" r="2.5"/>
<circle cx="1110.1" cy="1108.3" r="2.5"/>
<circle cx="1234.3" cy="1108.3" r="2.5"/>
<circle cx="1247.6" cy="1108.3" r="2.5"/>
<circle cx="1196.0" cy="1111.3" r="2.5"/>
<circle cx="1137.3" cy="1112.2" r="2.5"/>
<circle cx="1228.4" cy="1112.2" r="2.5"/>
<circle cx="1213.2" cy="1114.4" r="2.5"/>
<circle cx="1219.3" cy="1114.4" r="2.5"/>
<circle cx="1221.2" cy="1117.5" r="2.5"/>
<circle cx="1178.7" cy="1115.6" r="2.5"/>
<circle cx="1194.0" cy="1119.5" r="2.5"/>
<circle cx="1213.2" cy="1123.6" r="2.5"/>
<circle cx="1265.8" cy="1117.5" r="2.5"/>
<circle cx="1263.7" cy="1121.6" r="2.5"/>
<circle cx="1257.6" cy="1125.5" r="2.5"/>
<circle cx="1260.5" cy="1129.8" r="2.5"/>
<circle cx="1128.3" cy="1129.3" r="2.5"/>
<circle cx="1111.0" cy="1129.3" r="2.5"/>
<circle cx="1222.4" cy="1129.8" r="2.5"/>
<circle cx="1219.3" cy="1133.6" r="2.5"/>
<circle cx="1222.4" cy="1133.6" r="2.5"/>
<circle cx="1162.7" cy="1135.7" r="2.5"/>
<circle cx="1164.7" cy="1135.7" r="2.5"/>
<circle cx="1250.6" cy="1133.6" r="2.5"/>
<circle cx="1209.3" cy="1137.7" r="2.5"/>
<circle cx="1247.6" cy="1137.7" r="2.5"/>
<circle cx="1084.8" cy="1140.6" r="2.5"/>
<circle cx="978.7" cy="1144.7" r="2.5"/>
<circle cx="1163.7" cy="1142.8" r="2.5"/>
<circle cx="1177.8" cy="1143.7" r="2.5"/>
<circle cx="1055.6" cy="1145.7" r="2.5"/>
<circle cx="1196.9" cy="1146.7" r="2.5"/>
<circle cx="1245.5" cy="1146.7" r="2.5"/>
<circle cx="1116.1" cy="1148.8" r="2.5"/>
<circle cx="1209.3" cy="1149.8" r="2.5"/>
<circle cx="1234.3" cy="1150.8" r="2.5"/>
<circle cx="1261.7" cy="1149.8" r="2.5"/>
<circle cx="1143.3" cy="1149.8" r="2.5"/>
<circle cx="1145.5" cy="1151.8" r="2.5"/>
<circle cx="1149.4" cy="1151.8" r="2.5"/>
<circle cx="1111.0" cy="1156.9" r="2.5"/>
<circle cx="1113.0" cy="1156.9" r="2.5"/>
<circle cx="1138.6" cy="1155.9" r="2.5"/>
<circle cx="1163.7" cy="1156.9" r="2.5"/>
<circle cx="1137.3" cy="1158.8" r="2.5"/>
<circle cx="1105.9" cy="1162.9" r="2.5"/>
<circle cx="1112.0" cy="1162.9" r="2.5"/>
<circle cx="1116.1" cy="1162.9" r="2.5"/>
<circle cx="1218.3" cy="1162.9" r="2.5"/>
<circle cx="1178.7" cy="1167.0" r="2.5"/>
<circle cx="1206.1" cy="1169.0" r="2.5"/>
<circle cx="1113.0" cy="1178.0" r="2.5"/>
<circle cx="1127.3" cy="1177.0" r="2.5"/>
<circle cx="1178.7" cy="1180.1" r="2.5"/>
<circle cx="1241.4" cy="1182.1" r="2.5"/>
<circle cx="1133.3" cy="1212.4" r="2.5"/>
<circle cx="1281.0" cy="1040.4" r="2.5"/>
<circle cx="1294.1" cy="1039.4" r="2.5"/>
<circle cx="1271.8" cy="1047.5" r="2.5"/>
<circle cx="1338.3" cy="1047.5" r="2.5"/>
<circle cx="1270.8" cy="1056.7" r="2.5"/>
<circle cx="1285.9" cy="1053.5" r="2.5"/>
<circle cx="1312.3" cy="1050.6" r="2.5"/>
<circle cx="1309.1" cy="1056.7" r="2.5"/>
<circle cx="1294.1" cy="1061.7" r="2.5"/>
<circle cx="1278.8" cy="1062.7" r="2.5"/>
<circle cx="1277.8" cy="1068.8" r="2.5"/>
<circle cx="1297.0" cy="1069.8" r="2.5"/>
<circle cx="1350.8" cy="1059.6" r="2.5"/>
<circle cx="1281.9" cy="1078.0" r="2.5"/>
<circle cx="1267.7" cy="1080.9" r="2.5"/>
<circle cx="1331.7" cy="1069.8" r="2.5"/>
<circle cx="1427.5" cy="1053.5" r="2.5"/>
<circle cx="1483.1" cy="1063.7" r="2.5"/>
<circle cx="1394.1" cy="1071.9" r="2.5"/>
<circle cx="1437.5" cy="1073.9" r="2.5"/>
<circle cx="1379.0" cy="1078.0" r="2.5"/>
<circle cx="1431.7" cy="1087.0" r="2.5"/>
<circle cx="1498.4" cy="1098.1" r="2.5"/>
<circle cx="1355.7" cy="1083.9" r="2.5"/>
<circle cx="1299.2" cy="1086.0" r="2.5"/>
<circle cx="1310.1" cy="1088.0" r="2.5"/>
<circle cx="1304.1" cy="1092.1" r="2.5"/>
<circle cx="1349.7" cy="1091.1" r="2.5"/>
<circle cx="1281.9" cy="1100.1" r="2.5"/>
<circle cx="1272.7" cy="1102.3" r="2.5"/>
<circle cx="1293.1" cy="1101.3" r="2.5"/>
<circle cx="1316.2" cy="1099.1" r="2.5"/>
<circle cx="1345.5" cy="1101.3" r="2.5"/>
<circle cx="1308.2" cy="1104.2" r="2.5"/>
<circle cx="1298.0" cy="1107.3" r="2.5"/>
<circle cx="1292.1" cy="1107.3" r="2.5"/>
<circle cx="1321.5" cy="1106.4" r="2.5"/>
<circle cx="1332.6" cy="1106.4" r="2.5"/>
<circle cx="1350.8" cy="1106.4" r="2.5"/>
<circle cx="1290.9" cy="1110.3" r="2.5"/>
<circle cx="1284.9" cy="1114.4" r="2.5"/>
<circle cx="1362.8" cy="1120.5" r="2.5"/>
<circle cx="1336.5" cy="1122.4" r="2.5"/>
<circle cx="1350.8" cy="1121.4" r="2.5"/>
<circle cx="1372.0" cy="1122.4" r="2.5"/>
<circle cx="1382.1" cy="1122.4" r="2.5"/>
<circle cx="1285.9" cy="1127.5" r="2.5"/>
<circle cx="1355.7" cy="1128.5" r="2.5"/>
<circle cx="1303.1" cy="1132.6" r="2.5"/>
<circle cx="1278.8" cy="1134.5" r="2.5"/>
<circle cx="1351.6" cy="1134.5" r="2.5"/>
<circle cx="1388.0" cy="1135.5" r="2.5"/>
<circle cx="1270.8" cy="1146.7" r="2.5"/>
<circle cx="1454.9" cy="1143.7" r="2.5"/>
<circle cx="1269.8" cy="1155.9" r="2.5"/>
<circle cx="1270.8" cy="1159.8" r="2.5"/>
<circle cx="1426.6" cy="1157.8" r="2.5"/>
</g>
<path d="M970.2,1111.2 L972.2,1111.5 L974.2,1111.9 L976.2,1112.2 L978.2,1112.5 L980.2,1112.9 L982.2,1113.2 L984.2,1113.6 L986.2,1114.0 L988.2,1114.3 L990.2,1114.7 L992.2,1115.1 L994.2,1115.5 L996.2,1115.9 L998.2,1116.3 L1000.2,1116.7 L1002.2,1117.1 L1004.2,1117.4 L1006.2,1117.8 L1008.2,1118.2 L1010.2,1118.5 L1012.2,1118.8 L1014.2,1119.1 L1016.2,1119.4 L1018.2,1119.7 L1020.2,1119.9 L1022.2,1120.2 L1024.1,1120.4 L1026.1,1120.6 L1028.1,1120.8 L1030.1,1121.0 L1032.1,1121.2 L1034.1,1121.3 L1036.1,1121.5 L1038.1,1121.6 L1040.1,1121.7 L1042.1,1121.8 L1044.1,1121.9 L1046.1,1122.0 L1048.1,1122.0 L1050.1,1122.0 L1052.1,1122.1 L1054.1,1122.1 L1056.1,1122.1 L1058.1,1122.1 L1060.1,1122.1 L1062.1,1122.1 L1064.1,1122.1 L1066.1,1122.0 L1068.1,1122.0 L1070.1,1121.9 L1072.1,1121.9 L1074.1,1121.8 L1076.1,1121.7 L1078.1,1121.6 L1080.1,1121.4 L1082.1,1121.3 L1084.1,1121.1 L1086.1,1121.0 L1088.1,1120.8 L1090.1,1120.6 L1092.1,1120.5 L1094.1,1120.3 L1096.1,1120.1 L1098.1,1119.9 L1100.1,1119.7 L1102.1,1119.5 L1104.1,1119.2 L1106.1,1119.0 L1108.1,1118.7 L1110.1,1118.5 L1112.1,1118.2 L1114.1,1117.9 L1116.1,1117.6 L1118.1,1117.3 L1120.1,1117.0 L1122.1,1116.6 L1124.1,1116.3 L1126.1,1115.9 L1128.0,1115.6 L1130.0,1115.2 L1132.0,1114.8 L1134.0,1114.5 L1136.0,1114.1 L1138.0,1113.6 L1140.0,1113.2 L1142.0,1112.7 L1144.0,1112.2 L1146.0,1111.7 L1148.0,1111.1 L1150.0,1110.4 L1152.0,1109.7 L1154.0,1108.9 L1156.0,1108.1 L1158.0,1107.3 L1160.0,1106.5 L1162.0,1105.6 L1164.0,1104.8 L1166.0,1103.9 L1168.0,1103.1 L1170.0,1102.3 L1172.0,1101.6 L1174.0,1100.8 L1176.0,1100.1 L1178.0,1099.4 L1180.0,1098.7 L1182.0,1098.0 L1184.0,1097.4 L1186.0,1096.8 L1188.0,1096.2 L1190.0,1095.7 L1192.0,1095.2 L1194.0,1094.7 L1196.0,1094.2 L1198.0,1093.8 L1200.0,1093.3 L1202.0,1092.9 L1204.0,1092.4 L1206.0,1092.0 L1208.0,1091.6 L1210.0,1091.1 L1212.0,1090.6 L1214.0,1090.1 L1216.0,1089.6 L1218.0,1089.0 L1220.0,1088.4 L1222.0,1087.7 L1224.0,1087.0 L1226.0,1086.3 L1228.0,1085.5 L1230.0,1084.7 L1232.0,1083.9 L1233.9,1083.0 L1235.9,1082.1 L1237.9,1081.2 L1239.9,1080.3 L1241.9,1079.3 L1243.9,1078.2 L1245.9,1077.2 L1247.9,1076.1 L1249.9,1075.0 L1251.9,1073.8 L1253.9,1072.7 L1255.9,1071.5 L1257.9,1070.4 L1259.9,1069.3 L1261.9,1068.2 L1263.9,1067.1 L1265.9,1066.1 L1267.9,1065.1 L1269.9,1064.2 L1271.9,1063.4 L1273.9,1062.6 L1275.9,1061.8 L1277.9,1061.1 L1279.9,1060.5 L1281.9,1059.9 L1283.9,1059.3 L1285.9,1058.8 L1287.9,1058.3 L1289.9,1057.9 L1291.9,1057.5 L1293.9,1057.1 L1295.9,1056.8 L1297.9,1056.4 L1299.9,1056.1 L1301.9,1055.8 L1303.9,1055.5 L1305.9,1055.3 L1307.9,1055.0 L1309.9,1054.8 L1311.9,1054.7 L1313.9,1054.6 L1315.9,1054.5 L1317.9,1054.4 L1319.9,1054.4 L1321.9,1054.4 L1323.9,1054.5 L1325.9,1054.6 L1327.9,1054.7 L1329.9,1054.8 L1331.9,1054.9 L1333.9,1055.1 L1335.9,1055.3 L1337.8,1055.5 L1339.8,1055.7 L1341.8,1055.9 L1343.8,1056.2 L1345.8,1056.4 L1347.8,1056.7 L1349.8,1056.9 L1351.8,1057.2 L1353.8,1057.5 L1355.8,1057.9 L1357.8,1058.2 L1359.8,1058.6 L1361.8,1059.0 L1363.8,1059.4 L1365.8,1059.8 L1367.8,1060.3 L1369.8,1060.8 L1371.8,1061.3 L1373.8,1061.8 L1375.8,1062.3 L1377.8,1062.9 L1379.8,1063.4 L1381.8,1064.0 L1383.8,1064.6 L1385.8,1065.2 L1387.8,1065.9 L1389.8,1066.5 L1391.8,1067.2 L1393.8,1067.8 L1395.8,1068.5 L1397.8,1069.2 L1399.8,1069.8 L1401.8,1070.5 L1403.8,1071.1 L1405.8,1071.7 L1407.8,1072.3 L1409.8,1072.9 L1411.8,1073.5 L1413.8,1074.1 L1415.8,1074.7 L1417.8,1075.3 L1419.8,1075.9 L1421.8,1076.5 L1423.8,1077.1 L1425.8,1077.7 L1427.8,1078.3 L1429.8,1079.0 L1431.8,1079.6 L1433.8,1080.2 L1435.8,1080.9 L1437.8,1081.5 L1439.8,1082.2 L1441.7,1082.9 L1443.7,1083.6 L1445.7,1084.2 L1447.7,1084.9 L1449.7,1085.6 L1451.7,1086.4 L1453.7,1087.1 L1455.7,1087.8 L1457.7,1088.5 L1459.7,1089.3 L1461.7,1090.0 L1463.7,1090.8 L1465.7,1091.6 L1467.7,1092.4 L1469.7,1093.2 L1471.7,1094.0 L1473.7,1094.8 L1475.7,1095.6 L1477.7,1096.3 L1479.7,1097.1 L1481.7,1097.9 L1483.7,1098.7 L1485.7,1099.5 L1487.7,1100.3 L1489.7,1101.1 L1491.7,1101.8 L1493.7,1102.6" fill="none" stroke="#0a0ad2" stroke-width="1.8" stroke-linejoin="round"/>
<path d="M977.2,1050.5 L979.2,1052.5 L981.2,1054.5 L983.2,1056.4 L985.2,1058.4 L987.2,1060.3 L989.2,1062.2 L991.2,1064.1 L993.2,1065.9 L995.2,1067.6 L997.2,1069.3 L999.2,1071.0 L1001.2,1072.6 L1003.2,1074.1 L1005.2,1075.5 L1007.2,1076.9 L1009.2,1078.2 L1011.2,1079.5 L1013.2,1080.7 L1015.2,1081.8 L1017.2,1082.9 L1019.2,1084.0 L1021.2,1085.0 L1023.2,1086.0 L1025.2,1086.9 L1027.2,1087.7 L1029.2,1088.5 L1031.2,1089.3 L1033.2,1090.0 L1035.2,1090.7 L1037.2,1091.4 L1039.2,1092.0 L1041.2,1092.5 L1043.2,1093.0 L1045.2,1093.5 L1047.2,1093.9 L1049.2,1094.3 L1051.2,1094.7 L1053.2,1095.0 L1055.2,1095.3 L1057.2,1095.5 L1059.2,1095.7 L1061.2,1095.8 L1063.2,1096.0 L1065.2,1096.0 L1067.2,1096.1 L1069.2,1096.2 L1071.2,1096.2 L1073.2,1096.2 L1075.2,1096.2 L1077.2,1096.2 L1079.2,1096.1 L1081.2,1096.1 L1083.2,1096.0 L1085.2,1095.9 L1087.2,1095.7 L1089.2,1095.6 L1091.2,1095.4 L1093.2,1095.2 L1095.2,1094.9 L1097.2,1094.7 L1099.2,1094.4 L1101.2,1094.1 L1103.2,1093.8 L1105.2,1093.4 L1107.2,1093.0 L1109.2,1092.6 L1111.2,1092.2 L1113.2,1091.8 L1115.2,1091.3 L1117.2,1090.9 L1119.2,1090.5 L1121.2,1090.1 L1123.2,1089.7 L1125.2,1089.3 L1127.2,1088.8 L1129.2,1088.4 L1131.2,1087.9 L1133.2,1087.4 L1135.2,1086.8 L1137.2,1086.2 L1139.2,1085.6 L1141.2,1084.8 L1143.2,1084.0 L1145.2,1083.2 L1147.2,1082.3 L1149.2,1081.3 L1151.2,1080.4 L1153.2,1079.4 L1155.2,1078.4 L1157.2,1077.4 L1159.2,1076.4 L1161.2,1075.4 L1163.2,1074.4 L1165.2,1073.4 L1167.2,1072.3 L1169.2,1071.2 L1171.2,1070.1 L1173.2,1068.9 L1175.2,1067.7 L1177.2,1066.5 L1179.2,1065.2 L1181.2,1063.9 L1183.2,1062.6 L1185.2,1061.3 L1187.2,1060.0 L1189.2,1058.7 L1191.2,1057.5 L1193.2,1056.3 L1195.2,1055.1 L1197.2,1053.9 L1199.2,1052.8 L1201.2,1051.7 L1203.2,1050.6 L1205.2,1049.5 L1207.2,1048.4 L1209.2,1047.4 L1211.2,1046.5 L1213.2,1045.6 L1215.2,1044.7 L1217.2,1044.0 L1219.2,1043.4 L1221.2,1042.8 L1223.2,1042.4 L1225.2,1042.0 L1227.2,1041.7 L1229.2,1041.5 L1231.2,1041.3 L1233.2,1041.1 L1235.2,1041.0 L1237.2,1040.8 L1239.2,1040.7 L1241.2,1040.5 L1243.2,1040.3 L1245.2,1040.1 L1247.2,1039.9 L1249.2,1039.6 L1251.2,1039.3 L1253.2,1039.0 L1255.1,1038.7 L1257.1,1038.3 L1259.1,1038.0 L1261.1,1037.6 L1263.1,1037.2 L1265.1,1036.9 L1267.1,1036.5 L1269.1,1036.2 L1271.1,1035.9 L1273.1,1035.5 L1275.1,1035.2 L1277.1,1034.9 L1279.1,1034.6 L1281.1,1034.3 L1283.1,1034.0 L1285.1,1033.6 L1287.1,1033.3 L1289.1,1032.9 L1291.1,1032.4 L1293.1,1032.0 L1295.1,1031.5 L1297.1,1030.9 L1299.1,1030.3 L1301.1,1029.8 L1303.1,1029.2 L1305.1,1028.6 L1307.1,1028.0 L1309.1,1027.4 L1311.1,1026.8 L1313.1,1026.2 L1315.1,1025.6 L1317.1,1025.1 L1319.1,1024.5 L1321.1,1024.0 L1323.1,1023.4 L1325.1,1022.8 L1327.1,1022.2 L1329.1,1021.5 L1331.1,1020.8 L1333.1,1020.1 L1335.1,1019.4 L1337.1,1018.6 L1339.1,1017.8 L1341.1,1016.9 L1343.1,1016.1 L1345.1,1015.3 L1347.1,1014.5 L1349.1,1013.7 L1351.1,1012.9 L1353.1,1012.2 L1355.1,1011.5 L1357.1,1010.8 L1359.1,1010.1 L1361.1,1009.4 L1363.1,1008.8 L1365.1,1008.1 L1367.1,1007.4 L1369.1,1006.6 L1371.1,1005.9 L1373.1,1005.1 L1375.1,1004.2 L1377.1,1003.3 L1379.1,1002.4 L1381.1,1001.5 L1383.1,1000.5 L1385.1,999.5 L1387.1,998.5 L1389.1,997.5 L1391.1,996.4 L1393.1,995.3 L1395.1,994.2 L1397.1,993.0 L1399.1,991.9 L1401.1,990.6 L1403.1,989.4 L1405.1,988.1 L1407.1,986.7 L1409.1,985.3 L1411.1,983.8 L1413.1,982.4 L1415.1,980.8 L1417.1,979.3 L1419.1,977.7 L1421.1,976.1 L1423.1,974.5 L1425.1,972.8 L1427.1,971.1 L1429.1,969.4 L1431.1,967.6 L1433.1,965.7 L1435.1,963.8 L1437.1,961.7 L1439.1,959.6 L1441.1,957.3 L1443.1,954.9 L1445.1,952.3 L1447.1,949.6 L1449.1,946.7 L1451.1,943.7 L1453.1,940.7 L1455.1,937.5 L1457.1,934.2 L1459.1,930.9 L1461.1,927.5 L1463.1,924.1 L1465.1,920.7 L1467.1,917.2 L1469.1,913.6 L1471.1,910.0 L1473.1,906.4 L1475.1,902.7 L1477.1,899.0 L1479.1,895.2 L1481.1,891.4 L1483.1,887.4 L1485.1,883.5 L1487.1,879.4 L1489.1,875.3 L1491.1,871.1 L1493.1,866.9 L1495.1,862.6 L1497.1,858.2 L1499.1,853.9 L1501.1,849.5 L1503.1,845.0 L1505.1,840.6 L1507.1,836.2 L1509.1,831.8 L1511.1,827.3 L1513.1,822.9 L1515.1,818.5 L1517.1,814.0 L1519.1,809.6 L1521.1,805.1 L1523.1,800.7 L1525.1,796.2 L1527.1,791.7 L1529.1,787.2 L1529.1,1012.2 L1527.1,1012.6 L1525.1,1013.1 L1523.1,1013.5 L1521.1,1013.9 L1519.1,1014.4 L1517.1,1014.8 L1515.1,1015.2 L1513.1,1015.6 L1511.1,1016.0 L1509.1,1016.4 L1507.1,1016.9 L1505.1,1017.3 L1503.1,1017.8 L1501.1,1018.3 L1499.1,1018.9 L1497.1,1019.4 L1495.1,1020.1 L1493.1,1020.7 L1491.1,1021.4 L1489.1,1022.1 L1487.1,1022.9 L1485.1,1023.6 L1483.1,1024.4 L1481.1,1025.1 L1479.1,1025.8 L1477.1,1026.6 L1475.1,1027.3 L1473.1,1028.0 L1471.1,1028.7 L1469.1,1029.4 L1467.1,1030.1 L1465.1,1030.8 L1463.1,1031.5 L1461.1,1032.2 L1459.1,1033.0 L1457.1,1033.7 L1455.1,1034.4 L1453.1,1035.1 L1451.1,1035.8 L1449.1,1036.5 L1447.1,1037.2 L1445.1,1037.9 L1443.1,1038.5 L1441.1,1039.2 L1439.1,1039.9 L1437.1,1040.5 L1435.1,1041.2 L1433.1,1041.8 L1431.1,1042.4 L1429.1,1043.0 L1427.1,1043.7 L1425.1,1044.3 L1423.1,1045.0 L1421.1,1045.6 L1419.1,1046.3 L1417.1,1047.0 L1415.1,1047.7 L1413.1,1048.4 L1411.1,1049.1 L1409.1,1049.8 L1407.1,1050.5 L1405.1,1051.2 L1403.1,1051.9 L1401.1,1052.6 L1399.1,1053.3 L1397.1,1054.0 L1395.1,1054.7 L1393.1,1055.4 L1391.1,1056.1 L1389.1,1056.8 L1387.1,1057.5 L1385.1,1058.2 L1383.1,1058.9 L1381.1,1059.6 L1379.1,1060.3 L1377.1,1060.9 L1375.1,1061.5 L1373.1,1062.1 L1371.1,1062.7 L1369.1,1063.2 L1367.1,1063.7 L1365.1,1064.2 L1363.1,1064.6 L1361.1,1065.0 L1359.1,1065.4 L1357.1,1065.8 L1355.1,1066.2 L1353.1,1066.6 L1351.1,1067.0 L1349.1,1067.4 L1347.1,1067.9 L1345.1,1068.4 L1343.1,1068.8 L1341.1,1069.3 L1339.1,1069.7 L1337.1,1070.1 L1335.1,1070.5 L1333.1,1070.8 L1331.1,1071.1 L1329.1,1071.3 L1327.1,1071.5 L1325.1,1071.7 L1323.1,1071.8 L1321.1,1071.9 L1319.1,1072.1 L1317.1,1072.2 L1315.1,1072.4 L1313.1,1072.5 L1311.1,1072.8 L1309.1,1073.0 L1307.1,1073.3 L1305.1,1073.7 L1303.1,1074.1 L1301.1,1074.5 L1299.1,1075.0 L1297.1,1075.6 L1295.1,1076.1 L1293.1,1076.7 L1291.1,1077.3 L1289.1,1077.9 L1287.1,1078.5 L1285.1,1079.1 L1283.1,1079.7 L1281.1,1080.3 L1279.1,1080.8 L1277.1,1081.4 L1275.1,1081.9 L1273.1,1082.5 L1271.1,1083.1 L1269.1,1083.6 L1267.1,1084.2 L1265.1,1084.7 L1263.1,1085.3 L1261.1,1085.7 L1259.1,1086.2 L1257.1,1086.5 L1255.1,1086.8 L1253.2,1087.0 L1251.2,1087.2 L1249.2,1087.3 L1247.2,1087.4 L1245.2,1087.5 L1243.2,1087.5 L1241.2,1087.7 L1239.2,1087.8 L1237.2,1088.0 L1235.2,1088.3 L1233.2,1088.7 L1231.2,1089.2 L1229.2,1089.7 L1227.2,1090.4 L1225.2,1091.1 L1223.2,1091.9 L1221.2,1092.8 L1219.2,1093.7 L1217.2,1094.8 L1215.2,1095.9 L1213.2,1097.1 L1211.2,1098.4 L1209.2,1099.7 L1207.2,1101.1 L1205.2,1102.5 L1203.2,1103.9 L1201.2,1105.3 L1199.2,1106.7 L1197.2,1108.0 L1195.2,1109.3 L1193.2,1110.5 L1191.2,1111.6 L1189.2,1112.7 L1187.2,1113.8 L1185.2,1114.8 L1183.2,1115.8 L1181.2,1116.8 L1179.2,1117.7 L1177.2,1118.7 L1175.2,1119.6 L1173.2,1120.5 L1171.2,1121.5 L1169.2,1122.5 L1167.2,1123.5 L1165.2,1124.5 L1163.2,1125.5 L1161.2,1126.5 L1159.2,1127.6 L1157.2,1128.6 L1155.2,1129.6 L1153.2,1130.6 L1151.2,1131.5 L1149.2,1132.4 L1147.2,1133.2 L1145.2,1134.0 L1143.2,1134.7 L1141.2,1135.5 L1139.2,1136.2 L1137.2,1137.0 L1135.2,1137.8 L1133.2,1138.7 L1131.2,1139.7 L1129.2,1140.6 L1127.2,1141.7 L1125.2,1142.8 L1123.2,1143.9 L1121.2,1145.1 L1119.2,1146.3 L1117.2,1147.6 L1115.2,1148.9 L1113.2,1150.2 L1111.2,1151.5 L1109.2,1152.8 L1107.2,1154.1 L1105.2,1155.4 L1103.2,1156.7 L1101.2,1157.9 L1099.2,1159.1 L1097.2,1160.4 L1095.2,1161.6 L1093.2,1162.8 L1091.2,1163.9 L1089.2,1165.1 L1087.2,1166.3 L1085.2,1167.6 L1083.2,1168.8 L1081.2,1170.0 L1079.2,1171.3 L1077.2,1172.6 L1075.2,1173.9 L1073.2,1175.3 L1071.2,1176.7 L1069.2,1178.2 L1067.2,1179.7 L1065.2,1181.2 L1063.2,1182.8 L1061.2,1184.5 L1059.2,1186.2 L1057.2,1188.0 L1055.2,1189.8 L1053.2,1191.8 L1051.2,1193.7 L1049.2,1195.8 L1047.2,1197.9 L1045.2,1200.0 L1043.2,1202.2 L1041.2,1204.4 L1039.2,1206.7 L1037.2,1208.9 L1035.2,1211.3 L1033.2,1213.6 L1031.2,1216.0 L1029.2,1218.4 L1027.2,1220.8 L1025.2,1223.2 L1023.2,1225.7 L1021.2,1228.2 L1019.2,1230.8 L1017.2,1233.4 L1015.2,1236.0 L1013.2,1238.7 L1011.2,1241.4 L1009.2,1244.2 L1007.2,1247.0 L1005.2,1249.8 L1003.2,1252.6 L1001.2,1255.4 L999.2,1258.2 L997.2,1261.0 L995.2,1263.9 L993.2,1266.7 L991.2,1269.6 L989.2,1272.4 L987.2,1275.3 L985.2,1278.2 L983.2,1281.2 L981.2,1284.1 L979.2,1287.0 L977.2,1290.0Z" fill="#d00808" fill-opacity="0.4" stroke="none"/>
<path d="M977.2,1169.9 L979.2,1169.3 L981.2,1168.7 L983.2,1168.1 L985.2,1167.5 L987.2,1166.9 L989.2,1166.3 L991.2,1165.6 L993.2,1165.0 L995.2,1164.3 L997.2,1163.6 L999.2,1162.9 L1001.2,1162.2 L1003.2,1161.5 L1005.2,1160.8 L1007.2,1160.0 L1009.2,1159.3 L1011.2,1158.5 L1013.2,1157.8 L1015.2,1157.0 L1017.2,1156.2 L1019.2,1155.4 L1021.2,1154.6 L1023.2,1153.8 L1025.2,1153.1 L1027.2,1152.3 L1029.2,1151.5 L1031.2,1150.8 L1033.2,1150.1 L1035.2,1149.3 L1037.2,1148.6 L1039.2,1147.9 L1041.2,1147.2 L1043.2,1146.5 L1045.2,1145.8 L1047.2,1145.0 L1049.2,1144.3 L1051.2,1143.5 L1053.2,1142.7 L1055.2,1141.9 L1057.2,1141.1 L1059.2,1140.3 L1061.2,1139.6 L1063.2,1138.8 L1065.2,1138.0 L1067.2,1137.2 L1069.2,1136.5 L1071.3,1135.7 L1073.3,1135.0 L1075.3,1134.3 L1077.3,1133.5 L1079.3,1132.8 L1081.3,1132.2 L1083.3,1131.5 L1085.3,1130.8 L1087.3,1130.2 L1089.3,1129.6 L1091.3,1128.9 L1093.3,1128.3 L1095.3,1127.7 L1097.3,1127.1 L1099.3,1126.5 L1101.3,1125.9 L1103.3,1125.3 L1105.3,1124.7 L1107.3,1124.0 L1109.3,1123.4 L1111.3,1122.7 L1113.3,1122.1 L1115.3,1121.4 L1117.3,1120.8 L1119.3,1120.1 L1121.3,1119.5 L1123.3,1118.9 L1125.3,1118.2 L1127.3,1117.5 L1129.3,1116.9 L1131.3,1116.2 L1133.3,1115.5 L1135.3,1114.8 L1137.3,1114.1 L1139.3,1113.4 L1141.3,1112.7 L1143.3,1112.0 L1145.3,1111.2 L1147.3,1110.4 L1149.3,1109.6 L1151.3,1108.7 L1153.3,1107.7 L1155.3,1106.7 L1157.3,1105.6 L1159.3,1104.5 L1161.3,1103.3 L1163.3,1102.1 L1165.3,1100.9 L1167.3,1099.6 L1169.3,1098.3 L1171.3,1097.0 L1173.3,1095.6 L1175.3,1094.3 L1177.3,1092.9 L1179.3,1091.5 L1181.3,1090.2 L1183.3,1088.8 L1185.3,1087.4 L1187.3,1086.1 L1189.3,1084.8 L1191.3,1083.5 L1193.3,1082.2 L1195.3,1081.0 L1197.3,1079.8 L1199.3,1078.6 L1201.3,1077.4 L1203.3,1076.3 L1205.3,1075.2 L1207.3,1074.1 L1209.3,1073.1 L1211.3,1072.1 L1213.3,1071.1 L1215.3,1070.1 L1217.3,1069.2 L1219.3,1068.4 L1221.3,1067.6 L1223.3,1067.0 L1225.3,1066.3 L1227.3,1065.8 L1229.3,1065.4 L1231.3,1065.0 L1233.3,1064.6 L1235.3,1064.3 L1237.3,1064.1 L1239.3,1063.8 L1241.3,1063.6 L1243.3,1063.4 L1245.3,1063.2 L1247.3,1063.0 L1249.3,1062.7 L1251.3,1062.5 L1253.3,1062.3 L1255.4,1062.1 L1257.4,1061.9 L1259.4,1061.7 L1261.4,1061.5 L1263.4,1061.3 L1265.4,1061.1 L1267.4,1061.0 L1269.4,1060.8 L1271.4,1060.5 L1273.4,1060.3 L1275.4,1060.0 L1277.4,1059.8 L1279.4,1059.4 L1281.4,1059.1 L1283.4,1058.6 L1285.4,1058.2 L1287.4,1057.7 L1289.4,1057.2 L1291.4,1056.6 L1293.4,1056.1 L1295.4,1055.5 L1297.4,1055.0 L1299.4,1054.4 L1301.4,1053.8 L1303.4,1053.3 L1305.4,1052.8 L1307.4,1052.2 L1309.4,1051.7 L1311.4,1051.2 L1313.4,1050.7 L1315.4,1050.1 L1317.4,1049.6 L1319.4,1049.1 L1321.4,1048.5 L1323.4,1048.0 L1325.4,1047.5 L1327.4,1047.0 L1329.4,1046.5 L1331.4,1046.0 L1333.4,1045.5 L1335.4,1045.1 L1337.4,1044.6 L1339.4,1044.2 L1341.4,1043.8 L1343.4,1043.3 L1345.4,1042.9 L1347.4,1042.4 L1349.4,1042.0 L1351.4,1041.5 L1353.4,1041.0 L1355.4,1040.4 L1357.4,1039.9 L1359.4,1039.3 L1361.4,1038.7 L1363.4,1038.1 L1365.4,1037.4 L1367.4,1036.8 L1369.4,1036.1 L1371.4,1035.4 L1373.4,1034.7 L1375.4,1034.0 L1377.4,1033.2 L1379.4,1032.5 L1381.4,1031.7 L1383.4,1030.9 L1385.4,1030.1 L1387.4,1029.3 L1389.4,1028.4 L1391.4,1027.6 L1393.4,1026.7 L1395.4,1025.8 L1397.4,1024.9 L1399.4,1023.9 L1401.4,1022.9 L1403.4,1021.9 L1405.4,1020.8 L1407.4,1019.7 L1409.4,1018.6 L1411.4,1017.4 L1413.4,1016.2 L1415.4,1015.0 L1417.4,1013.8 L1419.4,1012.5 L1421.4,1011.2 L1423.4,1009.8 L1425.4,1008.5 L1427.4,1007.1 L1429.4,1005.7 L1431.4,1004.3 L1433.4,1002.9 L1435.4,1001.4 L1437.5,999.9 L1439.5,998.3 L1441.5,996.8 L1443.5,995.2 L1445.5,993.5 L1447.5,991.8 L1449.5,990.1 L1451.5,988.4 L1453.5,986.6 L1455.5,984.9 L1457.5,983.1 L1459.5,981.3 L1461.5,979.5 L1463.5,977.6 L1465.5,975.8 L1467.5,974.0 L1469.5,972.1 L1471.5,970.2 L1473.5,968.3 L1475.5,966.3 L1477.5,964.2 L1479.5,962.1 L1481.5,960.0 L1483.5,957.8 L1485.5,955.5 L1487.5,953.1 L1489.5,950.7 L1491.5,948.2 L1493.5,945.7 L1495.5,943.2 L1497.5,940.6 L1499.5,938.0 L1501.5,935.3 L1503.5,932.7 L1505.5,930.0 L1507.5,927.3 L1509.5,924.6 L1511.5,921.9 L1513.5,919.3 L1515.5,916.6 L1517.5,914.0 L1519.5,911.4 L1521.5,908.8 L1523.5,906.3 L1525.5,903.7 L1527.5,901.2 L1529.5,898.7" fill="none" stroke="#e00000" stroke-width="1.9" stroke-linejoin="round"/>
</g>
<path d="M969,751 L969,1302 L1534,1302" fill="none" stroke="#000" stroke-width="2"/>
<path d="M960,775.5 L969,775.5" stroke="#000" stroke-width="1.8"/>
<text transform="translate(950.4 788.1) scale(1 1.055)" font-size="32.3" text-anchor="end" font-weight="normal" stroke="#000" stroke-width="0.3">4</text>
<path d="M960,887 L969,887" stroke="#000" stroke-width="1.8"/>
<text transform="translate(950.4 899.6) scale(1 1.055)" font-size="32.3" text-anchor="end" font-weight="normal" stroke="#000" stroke-width="0.3">3</text>
<path d="M960,998.5 L969,998.5" stroke="#000" stroke-width="1.8"/>
<text transform="translate(950.4 1011.1) scale(1 1.055)" font-size="32.3" text-anchor="end" font-weight="normal" stroke="#000" stroke-width="0.3">2</text>
<path d="M960,1109.8 L969,1109.8" stroke="#000" stroke-width="1.8"/>
<text transform="translate(950.4 1122.3999999999999) scale(1 1.055)" font-size="32.3" text-anchor="end" font-weight="normal" stroke="#000" stroke-width="0.3">1</text>
<path d="M960,1221 L969,1221" stroke="#000" stroke-width="1.8"/>
<text transform="translate(950.4 1233.6) scale(1 1.055)" font-size="32.3" text-anchor="end" font-weight="normal" stroke="#000" stroke-width="0.3">0</text>
<path d="M1114,1302 L1114,1311" stroke="#000" stroke-width="1.8"/>
<text transform="translate(1114 1342.1) scale(1 1.055)" font-size="32.3" text-anchor="middle" font-weight="normal" stroke="#000" stroke-width="0.3">40</text>
<path d="M1273.5,1302 L1273.5,1311" stroke="#000" stroke-width="1.8"/>
<text transform="translate(1273.5 1342.1) scale(1 1.055)" font-size="32.3" text-anchor="middle" font-weight="normal" stroke="#000" stroke-width="0.3">60</text>
<path d="M1433,1302 L1433,1311" stroke="#000" stroke-width="1.8"/>
<text transform="translate(1433 1342.1) scale(1 1.055)" font-size="32.3" text-anchor="middle" font-weight="normal" stroke="#000" stroke-width="0.3">80</text>
<text transform="translate(1235 729) scale(1 1.055)" font-size="32.5" text-anchor="middle" font-weight="bold" stroke="#000" stroke-width="0.2">1688.613 m/z</text>
<text transform="translate(813.5 718.8) scale(1 1.055)" font-size="41.5" text-anchor="start" font-weight="normal" stroke="#000" stroke-width="0.3">d</text>
<text transform="translate(1250.5 1381) scale(1 1.055)" font-size="32.3" text-anchor="middle" font-weight="normal" stroke="#000" stroke-width="0.3">Age (Years)</text>
<text transform="translate(921.5 1029.4) rotate(-90) scale(1 1.055)" font-size="32.6" text-anchor="middle" font-weight="normal" stroke="#000" stroke-width="0.3">Relative Intensity (%)</text>
<rect x="499.6" y="45.1" width="169.8" height="106.9" fill="#fff" stroke="#000" stroke-width="1.2"/>
<rect x="509.2" y="53.3" width="39.6" height="39.2" fill="#9fb7d0" stroke="#000" stroke-width="1.2"/>
<path d="M509.8,72.9 L548.2,72.9" stroke="#235a8c" stroke-width="3.4"/>
<circle cx="529" cy="72.9" r="5.8" fill="#235a8c"/>
<text transform="translate(559.5 85.0) scale(1 1.055)" font-size="32.3" text-anchor="start" font-weight="normal" stroke="#000" stroke-width="0.3">Benign</text>
<rect x="509.2" y="104.1" width="39.6" height="39.2" fill="#eb9b9b" stroke="#000" stroke-width="1.2"/>
<path d="M509.8,123.69999999999999 L548.2,123.69999999999999" stroke="#dc0000" stroke-width="3.4"/>
<circle cx="529" cy="123.69999999999999" r="5.8" fill="#dc0000"/>
<text transform="translate(557.5 134.7) scale(1 1.055)" font-size="32.3" text-anchor="start" font-weight="normal" stroke="#000" stroke-width="0.3">Cancer</text>
<path d="M57.6,240.9 L57.6,315.8" stroke="#000" stroke-width="1.4"/>
<path d="M20.4,278.4 L20.4,315.8" stroke="#000" stroke-width="1.4"/>
<path d="M20.4,315.8 L38.7,353.3" stroke="#000" stroke-width="1.4"/>
<path d="M57.6,315.8 L38.7,353.3" stroke="#000" stroke-width="1.4"/>
<path d="M38.7,353.3 L38.7,428.0" stroke="#000" stroke-width="1.4"/>
<circle cx="57.6" cy="240.9" r="11.2" fill="#ffff00" stroke="#000" stroke-width="1"/>
<rect x="9.1" y="267.1" width="22.6" height="22.6" fill="#0000fa" stroke="#000" stroke-width="1"/>
<rect x="46.3" y="267.1" width="22.6" height="22.6" fill="#0000fa" stroke="#000" stroke-width="1"/>
<circle cx="20.4" cy="315.8" r="11.2" fill="#00c832" stroke="#000" stroke-width="1"/>
<circle cx="57.6" cy="315.8" r="11.2" fill="#00c832" stroke="#000" stroke-width="1"/>
<circle cx="38.7" cy="353.3" r="11.2" fill="#00c832" stroke="#000" stroke-width="1"/>
<rect x="27.4" y="379.1" width="22.6" height="22.6" fill="#0000fa" stroke="#000" stroke-width="1"/>
<rect x="27.4" y="416.7" width="22.6" height="22.6" fill="#0000fa" stroke="#000" stroke-width="1"/>
<path d="M812.4,222.8 L812.4,298.1" stroke="#000" stroke-width="1.4"/>
<path d="M850.0,222.8 L850.0,298.1" stroke="#000" stroke-width="1.4"/>
<path d="M774.7,260.4 L774.7,335.3" stroke="#000" stroke-width="1.4"/>
<path d="M812.4,298.1 L830.5,335.3" stroke="#000" stroke-width="1.4"/>
<path d="M850.0,298.1 L830.5,335.3" stroke="#000" stroke-width="1.4"/>
<path d="M774.7,335.3 L802.3,372.6" stroke="#000" stroke-width="1.4"/>
<path d="M830.5,335.3 L802.3,372.6" stroke="#000" stroke-width="1.4"/>
<path d="M802.3,372.6 L802.3,447.7" stroke="#000" stroke-width="1.4"/>
<path d="M802.3,447.7 L830.0,447.7" stroke="#000" stroke-width="1.4"/>
<path d="M812.4,211.5 L823.7,222.8 L812.4,234.1 L801.1,222.8Z" fill="#c800c8" stroke="#000" stroke-width="1"/>
<path d="M850.0,211.5 L861.3,222.8 L850.0,234.1 L838.7,222.8Z" fill="#c800c8" stroke="#000" stroke-width="1"/>
<circle cx="774.7" cy="260.4" r="11.2" fill="#ffff00" stroke="#000" stroke-width="1"/>
<rect x="763.4" y="286.8" width="22.6" height="22.6" fill="#0000fa" stroke="#000" stroke-width="1"/>
<circle cx="812.4" cy="260.4" r="11.2" fill="#ffff00" stroke="#000" stroke-width="1"/>
<rect x="801.1" y="286.8" width="22.6" height="22.6" fill="#0000fa" stroke="#000" stroke-width="1"/>
<circle cx="850.0" cy="260.4" r="11.2" fill="#ffff00" stroke="#000" stroke-width="1"/>
<rect x="838.7" y="286.8" width="22.6" height="22.6" fill="#0000fa" stroke="#000" stroke-width="1"/>
<circle cx="774.7" cy="335.3" r="11.2" fill="#00c832" stroke="#000" stroke-width="1"/>
<circle cx="830.5" cy="335.3" r="11.2" fill="#00c832" stroke="#000" stroke-width="1"/>
<circle cx="802.3" cy="372.6" r="11.2" fill="#00c832" stroke="#000" stroke-width="1"/>
<rect x="791.0" y="398.7" width="22.6" height="22.6" fill="#0000fa" stroke="#000" stroke-width="1"/>
<rect x="791.0" y="436.4" width="22.6" height="22.6" fill="#0000fa" stroke="#000" stroke-width="1"/>
<path d="M829.5,447.5 L851.2,436.5 L851.2,458.5Z" fill="#ff0000" stroke="#000" stroke-width="1"/>
<path d="M13.8,930.9 L13.8,1006.1" stroke="#000" stroke-width="1.4"/>
<path d="M51.3,930.9 L51.3,1006.1" stroke="#000" stroke-width="1.4"/>
<path d="M13.8,1006.1 L32.4,1043.3" stroke="#000" stroke-width="1.4"/>
<path d="M51.3,1006.1 L32.4,1043.3" stroke="#000" stroke-width="1.4"/>
<path d="M32.4,1043.3 L32.4,1118.2" stroke="#000" stroke-width="1.4"/>
<path d="M32.4,1118.2 L60.0,1118.2" stroke="#000" stroke-width="1.4"/>
<circle cx="13.8" cy="930.9" r="11.2" fill="#ffff00" stroke="#000" stroke-width="1"/>
<rect x="2.5" y="957.0" width="22.6" height="22.6" fill="#0000fa" stroke="#000" stroke-width="1"/>
<circle cx="13.8" cy="1006.1" r="11.2" fill="#00c832" stroke="#000" stroke-width="1"/>
<circle cx="51.3" cy="930.9" r="11.2" fill="#ffff00" stroke="#000" stroke-width="1"/>
<rect x="40.0" y="957.0" width="22.6" height="22.6" fill="#0000fa" stroke="#000" stroke-width="1"/>
<circle cx="51.3" cy="1006.1" r="11.2" fill="#00c832" stroke="#000" stroke-width="1"/>
<circle cx="32.4" cy="1043.3" r="11.2" fill="#00c832" stroke="#000" stroke-width="1"/>
<rect x="21.1" y="1069.5" width="22.6" height="22.6" fill="#0000fa" stroke="#000" stroke-width="1"/>
<rect x="21.1" y="1106.9" width="22.6" height="22.6" fill="#0000fa" stroke="#000" stroke-width="1"/>
<path d="M59.4,1118.2 L80.6,1107.2 L80.6,1129.2Z" fill="#ff0000" stroke="#000" stroke-width="1"/>
<path d="M797.5,966.1 L797.5,1003.1" stroke="#000" stroke-width="1.4"/>
<path d="M872.4,966.1 L872.4,1003.1" stroke="#000" stroke-width="1.4"/>
<path d="M797.5,1003.1 L835.0,1040.8" stroke="#000" stroke-width="1.4"/>
<path d="M872.4,1003.1 L835.0,1040.8" stroke="#000" stroke-width="1.4"/>
<path d="M835.0,1003.6 L835.0,1115.6" stroke="#000" stroke-width="1.4"/>
<path d="M835.0,1115.6 L863.0,1115.6" stroke="#000" stroke-width="1.4"/>
<rect x="786.2" y="954.8" width="22.6" height="22.6" fill="#0000fa" stroke="#000" stroke-width="1"/>
<rect x="861.1" y="954.8" width="22.6" height="22.6" fill="#0000fa" stroke="#000" stroke-width="1"/>
<circle cx="797.5" cy="1003.1" r="11.2" fill="#00c832" stroke="#000" stroke-width="1"/>
<circle cx="872.4" cy="1003.1" r="11.2" fill="#00c832" stroke="#000" stroke-width="1"/>
<rect x="823.7" y="992.3" width="22.6" height="22.6" fill="#0000fa" stroke="#000" stroke-width="1"/>
<circle cx="835.0" cy="1040.8" r="11.2" fill="#00c832" stroke="#000" stroke-width="1"/>
<rect x="823.7" y="1067.1" width="22.6" height="22.6" fill="#0000fa" stroke="#000" stroke-width="1"/>
<rect x="823.7" y="1104.3" width="22.6" height="22.6" fill="#0000fa" stroke="#000" stroke-width="1"/>
<path d="M862.1,1115.6 L883.6,1104.6 L883.6,1126.6Z" fill="#ff0000" stroke="#000" stroke-width="1"/>
</svg>
</body></html>
